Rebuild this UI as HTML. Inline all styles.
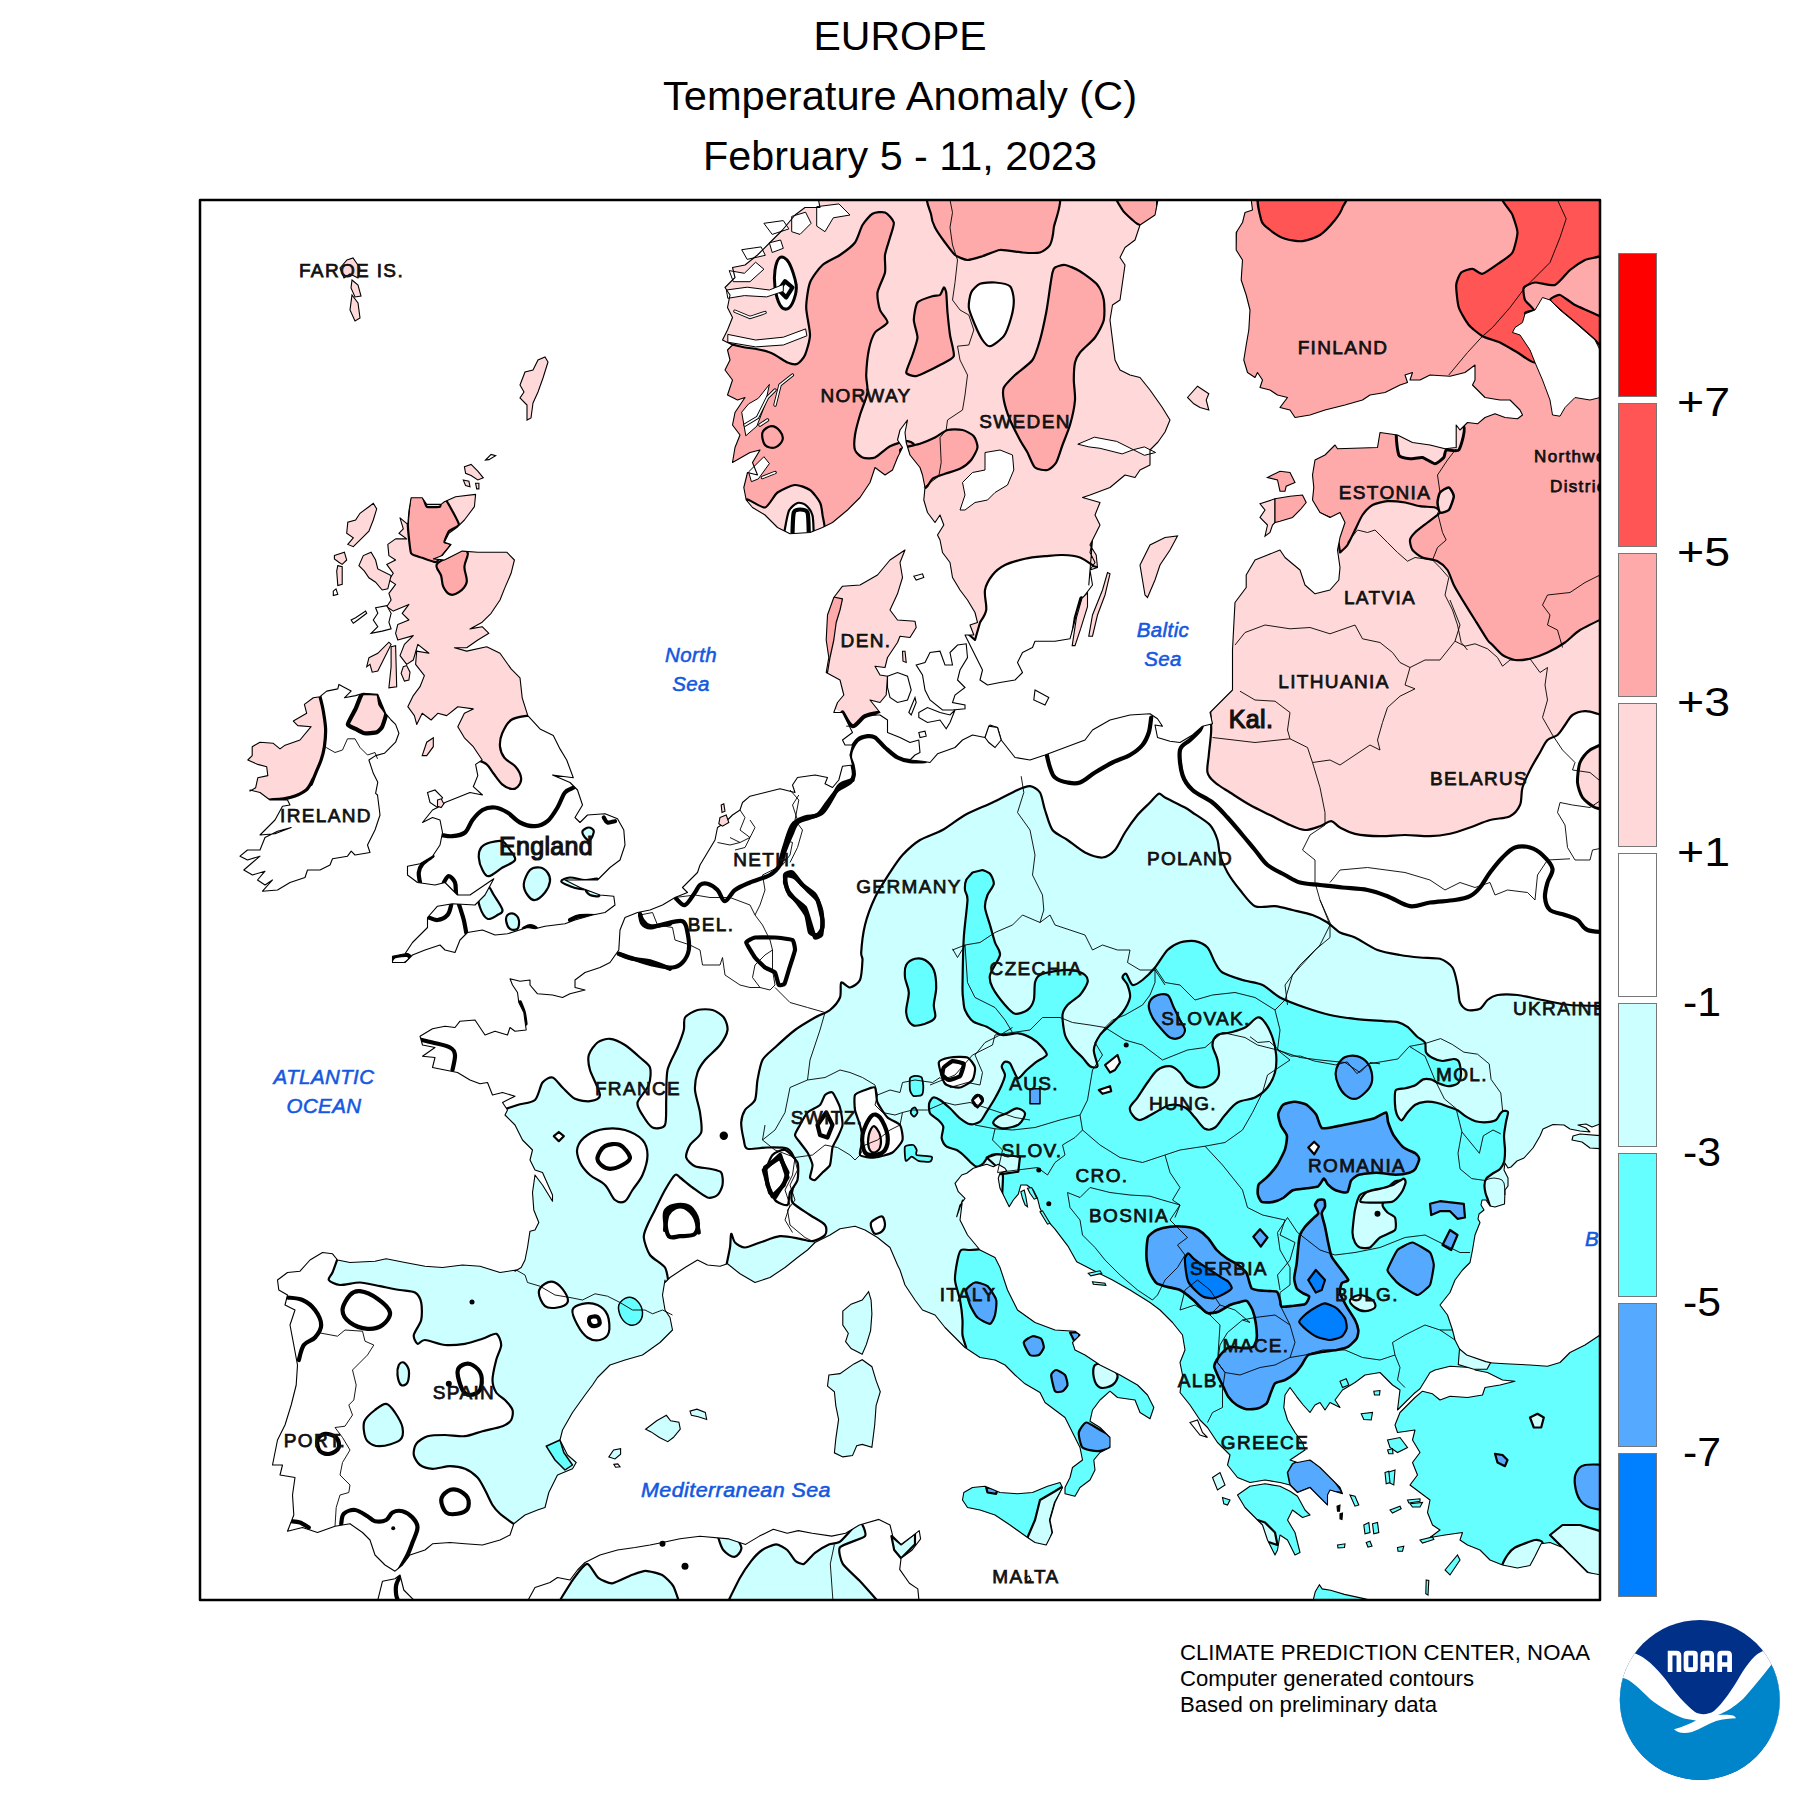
<!DOCTYPE html>
<html><head><meta charset="utf-8">
<style>
html,body{margin:0;padding:0;background:#fff;}
body{width:1800px;height:1800px;overflow:hidden;font-family:"Liberation Sans",sans-serif;}
svg{display:block;position:absolute;left:0;top:0;}
.t{font-family:"Liberation Sans",sans-serif;fill:#000;}
.lb{font-family:"Liberation Sans",sans-serif;font-weight:normal;fill:#111;stroke:#111;stroke-width:0.75px;font-size:19px;text-anchor:middle;letter-spacing:1.35px;}
.sea{font-family:"Liberation Sans",sans-serif;font-weight:normal;font-style:italic;fill:#1458e0;stroke:#1458e0;stroke-width:0.55px;font-size:20.5px;text-anchor:middle;letter-spacing:0.4px;}
</style></head><body>
<svg width="1800" height="1800" viewBox="0 0 1800 1800">
<rect x="0" y="0" width="1800" height="1800" fill="#fff"/>
<!-- TITLE -->
<g class="t" text-anchor="middle" font-size="41">
<text x="900" y="50">EUROPE</text>
<text x="900" y="110" textLength="474" lengthAdjust="spacingAndGlyphs">Temperature Anomaly (C)</text>
<text x="900" y="170" textLength="394" lengthAdjust="spacingAndGlyphs">February 5 - 11, 2023</text>
</g>
<!-- MAP-START -->
<defs><clipPath id="land">
<path d="M411.1,497.8 L422.2,497.8 L426.7,504.4 L441.1,504.4 L444.4,501.8 L455.6,496.7 L475.6,494.4 L474.4,506.7 L464.4,520 L457.8,526.7 L448.9,533.3 L444.4,542.2 L451.1,544.4 L442.2,555.6 L433.3,558.9 L444.4,560 L462.2,551.1 L477.8,552.2 L506.7,552.2 L514.4,560 L511.1,573.3 L504.4,588.9 L500,600 L491.1,613.3 L482.2,622.2 L470,628.9 L482.2,626.7 L488.9,633.3 L477.8,640 L466.7,647.8 L454.4,647.8 L466.7,651.1 L486.7,646.7 L500,653.3 L511.1,668.9 L520,677.8 L522.2,697.8 L527.8,715.6 L540,728.9 L553.3,735.6 L560,748.9 L566.7,760 L573.3,777.8 L552.5,775 L570,782.5 L577.5,790 L582.5,805 L575,817.5 L580,822.5 L587.5,815 L605,813.8 L617.5,818.8 L623.8,830 L625,845 L620,860 L610,867.5 L597.5,880 L565,880 L580,887.5 L600,895 L613.8,896.2 L615,905 L605,912.5 L592.5,915 L575,920 L565,923.8 L545,926.2 L535,928.8 L527.5,927.5 L507.5,933.8 L495,935 L482.5,930 L467.5,932.5 L460,940 L455,952.5 L445,950 L440,945 L425,950 L412.5,955 L405,962.5 L392.5,962.5 L392.5,956.2 L405,953.8 L412.5,942.5 L420,935 L427.5,927.5 L427.5,917.5 L437.5,906.2 L452.5,903.8 L475,905 L485,895 L493.8,878.8 L470,895 L457.5,895 L445,882.5 L435,885 L417.5,882.5 L407.5,875 L407.5,866.2 L420,863.8 L432.5,856.2 L440,845 L442.5,832.5 L440,820 L432.5,817.5 L422.5,822.5 L432.5,810 L440,806.2 L445,802.5 L457.5,797.5 L470,792.5 L482.5,795 L473.3,786.7 L477.8,775.6 L475.6,764.4 L482.2,760 L473.3,746.7 L464.4,737.8 L457.8,726.7 L464.4,713.3 L473.3,708.9 L457.8,706.7 L446.7,715.6 L437.8,713.3 L431.1,720 L422.2,713.3 L416.7,724.4 L414.4,715.6 L407.8,706.7 L413.3,695.6 L420,686.7 L424.4,675.6 L415.6,664.4 L416.7,651.1 L428.9,653.3 L417.8,644.4 L413.3,660 L406.7,664.4 L400,655.6 L404.4,644.4 L413.3,635.6 L397.8,640 L395.6,633.3 L397.8,624.4 L408.9,620 L402.2,613.3 L408.9,604.4 L393.3,611.1 L386.7,606.7 L391.1,600 L388.9,593.3 L395.6,584.4 L388.9,580 L393.3,573.3 L386.7,564.4 L395.6,560 L388.9,555.6 L387.8,544.4 L395.6,538.9 L406.7,538.9 L398.9,533.3 L403.3,528.9 L400,517.8 L407.8,524.4 L408.9,511.1Z"/>
<path d="M304.4,704.4 L313.3,697.8 L320,696.7 L326.7,691.1 L337.8,688.9 L338.9,684.4 L351.1,691.1 L344.4,697.8 L355.6,695.6 L363.3,693.3 L377.8,694.4 L385.6,713.3 L391.1,720 L395.6,724.4 L398.9,733.3 L395.6,742.2 L391.1,746.7 L384.4,753.3 L375.6,755.6 L368.9,760 L373.3,773.3 L377.8,782.2 L375.6,793.3 L377.5,795 L380,815 L375,830 L367.5,845 L370,852.5 L355,855 L351.2,851.2 L347.5,856.2 L332.5,858.8 L330,865 L320,870 L307.5,870 L305,877.5 L290,882.5 L277.5,890 L262.5,891.2 L272.5,880 L265,885 L257.5,880 L265,871.2 L252.5,875 L243.8,870 L252.5,862.5 L260,856.2 L247.5,860 L240,856.2 L247.5,850 L260,850 L265,837.5 L277.5,831.2 L291.2,827.5 L275,833.8 L260,835 L267.5,827.5 L275,820 L282.5,806.2 L290,805 L287.5,800 L270,800 L260,792.5 L250,790 L250,791.1 L255.6,787.8 L257.8,777.8 L267.8,775.6 L266.7,766.7 L257.8,764.4 L247.8,760 L252.2,755.6 L252.2,746.7 L260,742.2 L273.3,743.3 L280,748.9 L284.4,745.6 L300,740 L311.1,726.7 L297.8,725.6 L293.3,721.1 L306.7,713.3Z"/>
<path d="M817.5,195 L820,207.5 L805,207.5 L795,215 L782.5,230 L770,242.5 L757.5,255 L745,265 L732.5,267.5 L735,277.5 L725,287.5 L730,295 L727.5,307.5 L732.5,317.5 L727.5,330 L722.5,340 L732.5,345 L727.5,350 L730,360 L725,370 L732.5,380 L727.5,395 L737.5,400 L745,397.5 L735,412.5 L732.5,425 L740,435 L735,447.5 L732.5,462.5 L750,452.5 L760,450 L752.5,462.5 L757.5,475 L747.5,472.5 L743.8,487.5 L746.2,500 L752.5,507.5 L765,515 L777.5,527.5 L790,533.8 L810,532.5 L822.5,527.5 L832.5,522.5 L847.5,510 L860,497.5 L870,482.5 L875,467.5 L885,475 L892.5,470 L897.5,457.5 L902.5,447.5 L897.5,440 L900,430 L907.5,420 L905,432.5 L906.2,442.5 L910,455 L920,467.5 L922.5,475 L925,487.5 L923.8,500 L927.5,512.5 L935,522.5 L940,515 L943.8,525 L937.5,535 L940,540 L942.5,552.5 L950,562.5 L952.5,577.5 L960,590 L967.5,600 L975,612.5 L977.5,622.5 L970,625 L973.8,635 L965,635 L970,645 L977.5,660 L982.5,670 L980,680 L987.5,685 L1000,682.5 L1015,680 L1022.5,672.5 L1017.5,662.5 L1022.5,652.5 L1032.5,647.5 L1035,641.2 L1055,641.2 L1070,638.8 L1073.8,625 L1077.5,610 L1085,595 L1092.5,585 L1090,570 L1095,562.5 L1090,552.5 L1092.5,540 L1088.8,585 L1090,570 L1097.5,567.5 L1096.2,555 L1090,545 L1095,535 L1100,525 L1095,515 L1100,502.5 L1082.5,497.5 L1090,495 L1110,487.5 L1125,475 L1135,477.5 L1140,470 L1150,465 L1150,450 L1158,442 L1165,432 L1170,420 L1162,407 L1150,390 L1140,377.5 L1130,375 L1120,370 L1115,360 L1112.5,340 L1110,320 L1112.5,305 L1120,300 L1122.5,282.5 L1125,265 L1120,257.5 L1125,247.5 L1135,240 L1140,225 L1155,215 L1160,190Z"/>
<path d="M1250,190 L1252.5,210 L1245,212.5 L1242.5,222.5 L1236.2,232.5 L1236.2,250 L1242.5,260 L1241.2,280 L1246.2,295 L1250,310 L1248.8,330 L1246.2,345 L1243.8,360 L1247.5,372.5 L1255,377.5 L1257.5,372.5 L1262.5,380 L1260,387.5 L1270,390 L1277.5,395 L1287.5,397.5 L1280,407.5 L1290,410 L1295,417.5 L1310,415 L1325,410 L1345,405 L1362.5,400 L1370,395 L1385,392.5 L1400,385 L1407.5,382.5 L1405,375 L1412.5,372.5 L1410,380 L1420,380 L1430,375 L1450,376.2 L1465,372.5 L1475,365 L1475,380 L1472.5,385 L1485,397.5 L1500,400 L1510,400 L1520,410 L1522.5,415 L1517.5,418.8 L1505,417.5 L1495,413.8 L1485,417.5 L1477.5,423.8 L1467.5,422.5 L1460,430 L1456.2,425 L1456.2,447.5 L1445,448.8 L1430,445 L1412.5,442.5 L1397.5,435 L1380,432.5 L1377.5,447.5 L1337.5,448.8 L1335,445 L1325,455 L1315,460 L1312.5,475 L1313.8,487.5 L1312.5,500 L1320,512.5 L1330,517.5 L1340,512.5 L1345,522.5 L1340,537.5 L1337.5,550 L1340,567.5 L1338.8,580 L1330,590 L1315,593.8 L1305,585 L1300,570 L1285,557.5 L1280,550 L1267.5,555 L1255,560 L1246.2,575 L1246.2,587.5 L1235,602.5 L1233.8,625 L1232.5,650 L1232.5,690 L1220,702.5 L1210,712.5 L1212.5,723.8 L1202.5,726.2 L1192.5,735 L1180,742.5 L1170,741.2 L1157.5,737.5 L1155,725 L1162.5,726.2 L1157.5,718.8 L1150,713.8 L1130,715 L1110,720 L1092.5,730 L1085,740 L1065,747.5 L1045,755 L1030,760 L1015,757.5 L1001.2,740 L997.5,727.5 L990,725 L985,737.5 L972.5,735 L962.5,740 L955,747.5 L937.5,753.8 L930,762.5 L922.5,761.2 L910,760 L915,755 L920,752.5 L918.8,740 L910,742.5 L900,737.5 L887.5,732.5 L887.5,720 L880,715 L867.5,715 L872.5,715 L880,712.5 L870,700 L880,702.5 L886.2,695 L887.5,676.2 L880,675 L875,666.2 L885,667.5 L887.5,657.5 L897.5,642.5 L900,636.2 L910,637.5 L916.2,627.5 L915,621.2 L897.5,620 L890,610 L897.5,593.8 L902.5,577.5 L900,562.5 L905,550 L890,560 L877.5,575 L860,585 L842.5,586.2 L833.8,597.5 L827.5,615 L826.2,640 L828.8,657.5 L826.2,672.5 L840,680 L843.8,695 L837.5,702.5 L833.8,712.5 L842.5,712.5 L847.5,722.5 L852.5,732.5 L842.5,740 L845,745 L852.5,745 L850,755 L852.5,765 L842.5,766.2 L838.8,780 L832.5,787.5 L825,783.8 L827.5,777.5 L815,775 L797.5,777.5 L792.5,785 L795,792.5 L780,788.8 L765,792.5 L750,796.2 L742.5,802.5 L740,810 L732.5,815 L725,822.5 L717.5,827.5 L715,840 L707.5,852.5 L700,865 L697.5,872.5 L690,880 L682.5,887.5 L687.5,892.5 L675,897.5 L662.5,905 L650,910 L637.5,912.5 L625,917.5 L620,930 L618.8,950 L610,962.5 L600,967.5 L585,972.5 L575,980 L575,987.5 L585,990 L570,993.8 L562.5,997.5 L552.5,995 L537.5,993.8 L530,985 L530,980 L520,981.2 L510,978.8 L512.5,985 L517.5,992.5 L518.8,1002.5 L523.8,1012.5 L526.2,1030 L515,1031.2 L510,1027.5 L507.5,1035 L495,1031.2 L485,1035 L475,1020 L460,1021.2 L455,1027.5 L445,1026.2 L432.5,1028.8 L420,1036.2 L422.5,1045 L435,1047.5 L422.5,1056.2 L435,1057.5 L432.5,1067.5 L445,1070 L457.5,1072.5 L470,1080 L480,1083.8 L487.5,1082.5 L492.5,1095 L502.5,1092.5 L515,1096.2 L502.5,1102.5 L507.5,1110 L505,1115 L515,1125 L522.5,1140 L532.5,1150 L530,1160 L535,1170 L542.5,1172.5 L552.5,1195 L552.5,1201.2 L542.5,1185 L535,1175 L532.5,1192.5 L533.8,1210 L538.8,1222.5 L535,1230 L530,1231.2 L527.5,1247.5 L525,1260 L521.2,1267.5 L515,1271.2 L516.2,1270 L500,1272.5 L480,1266.2 L462.5,1265 L442.5,1267.5 L425,1266.2 L405,1262.5 L386.2,1258.8 L375,1261.2 L350,1262.5 L337.5,1260 L332.5,1253.8 L322.5,1252.5 L310,1260 L300,1271.2 L287.5,1272.5 L277.5,1280 L278.8,1290 L287.5,1295 L285,1305 L295,1310 L290,1325 L293.8,1345 L297.5,1365 L296.2,1385 L291.2,1405 L285,1425 L277.5,1440 L272.5,1465 L282.5,1465 L280,1475 L295,1477.5 L292.5,1495 L293.8,1515 L287.5,1531.2 L302.5,1527.5 L317.5,1532.5 L335,1526.2 L350,1523.8 L362.5,1532.5 L370,1540 L375,1555 L385,1565 L395,1571.2 L402.5,1565 L410,1555 L425,1550 L432.5,1543.8 L450,1542.5 L465,1543.8 L482.5,1545 L500,1540 L510,1535 L513.8,1523.8 L525,1515 L537.5,1510 L545,1507.5 L548.8,1492.5 L557.5,1475 L572.5,1468.8 L576.2,1462.5 L567.5,1455 L560,1440 L562.5,1430 L572.5,1412.5 L585,1395 L592.5,1385 L597.5,1377.5 L610,1365 L625,1360 L642.5,1355 L660,1342.5 L672.5,1330 L670,1317.5 L665,1310 L662.5,1295 L665,1280 L665,1282.5 L670,1277.5 L685,1267.5 L697.5,1260 L707.5,1265 L720,1266.2 L727.5,1263.8 L740,1273.8 L755,1282.5 L770,1277.5 L785,1267.5 L797.5,1257.5 L807.5,1250 L815,1242.5 L830,1235 L840,1228.8 L855,1226.2 L865,1230 L877.5,1237.5 L890,1247.5 L897.5,1265 L900,1270 L905,1285 L915,1300 L922.5,1310 L935,1315 L945,1327.5 L955,1337.5 L965,1347.5 L980,1357.5 L995,1360 L1005,1365 L1015,1375 L1025,1383.8 L1040,1392.5 L1045,1402.5 L1055,1410 L1065,1417.5 L1072.5,1432.5 L1080,1447.5 L1082.5,1460 L1072.5,1467.5 L1070,1477.5 L1065,1487.5 L1065,1493.8 L1075,1496.2 L1080,1487.5 L1090,1480 L1095,1470 L1093.8,1460 L1100,1452.5 L1110,1447.5 L1110,1437.5 L1100,1427.5 L1090,1421.2 L1092.5,1410 L1100,1400 L1110,1391.2 L1117.5,1397.5 L1135,1400 L1140,1412.5 L1150,1418.8 L1153.8,1407.5 L1147.5,1395 L1137.5,1385 L1120,1375 L1100,1365 L1085,1355 L1075,1350 L1072.5,1342.5 L1080,1335 L1075,1331.2 L1055,1330 L1035,1322.5 L1017.5,1310 L1007.5,1290 L1000,1267.5 L995,1257.5 L980,1250 L967.5,1235 L960,1220 L962.5,1200 L956.7,1216.7 L960,1205 L965,1198.3 L958.3,1191.7 L955,1183.3 L961.7,1175 L966.7,1173.3 L973.3,1168.3 L986.7,1164.2 L993.3,1166.7 L998.3,1164.2 L1005,1168.3 L1006.7,1170.8 L1000,1173.3 L998.3,1178.3 L1000,1188.3 L1005,1198.3 L1009.2,1206.7 L1013.3,1200 L1018.3,1194.2 L1020.8,1185 L1026.7,1185 L1033.3,1190 L1037.5,1198.3 L1040,1208.3 L1043.3,1215 L1048.3,1221.7 L1055,1229.2 L1068.3,1246.7 L1076.7,1261.7 L1097.5,1272.5 L1112.5,1280 L1130,1290 L1150,1302.5 L1160,1310 L1172.5,1322.5 L1182.5,1335 L1185,1350 L1180,1362.5 L1182.5,1375 L1180,1392.5 L1190,1405 L1200,1420 L1207.5,1427.5 L1217.5,1442.5 L1227.5,1452.5 L1230,1455 L1227.5,1465 L1237.5,1477.5 L1250,1482.5 L1265,1480 L1280,1482.5 L1290,1485 L1297.5,1492.5 L1310,1487.5 L1320,1497.5 L1327.5,1505 L1327.5,1495 L1330,1490 L1342.5,1493.8 L1340,1487.5 L1330,1477.5 L1320,1467.5 L1310,1460 L1297.5,1462.5 L1290,1460 L1297.5,1455 L1305,1450 L1302.5,1442.5 L1295,1432.5 L1287.5,1420 L1283.8,1407.5 L1285,1395 L1290,1387.5 L1296.8,1396.8 L1303.2,1405 L1310,1412.5 L1315,1405 L1320,1402.5 L1325,1410 L1330,1402.5 L1340,1407.5 L1335,1400 L1342.5,1390 L1355,1382.5 L1365,1375 L1380,1372.5 L1392.5,1385 L1400,1390 L1397.5,1410 L1405,1402.5 L1413.8,1393.8 L1420,1388.8 L1430,1372.5 L1435,1370 L1450,1366.2 L1470,1367.5 L1473.8,1362.5 L1462.5,1357.5 L1460,1350 L1455,1340 L1452.5,1330 L1447.5,1315 L1440,1305 L1450,1292.5 L1455,1280 L1462.5,1270 L1470,1262.5 L1472.5,1250 L1475,1235 L1480,1222.5 L1478,1219 L1479,1214 L1484,1210 L1481,1205 L1482,1200 L1486,1200 L1490,1206 L1495,1207 L1504.5,1204 L1505,1190 L1508,1186 L1508,1178 L1504,1170 L1505,1163 L1508,1168 L1511,1167 L1517,1161 L1524,1158 L1533,1148 L1540,1136 L1543,1129 L1553,1124.5 L1564,1125 L1570,1129 L1580,1131 L1590,1132 L1586,1128 L1578,1125 L1586,1124 L1592,1127 L1600,1124 L1605,1136 L1580,1134 L1573,1136 L1572,1140 L1582,1142 L1590,1148 L1605,1149 L1620,1150 L1620,180Z"/>
<path d="M1475,1370 L1487.5,1372.5 L1502.5,1380 L1515,1381.2 L1500,1385 L1485,1387.5 L1482.5,1395 L1467.5,1397.5 L1450,1396.2 L1440,1400 L1432.5,1393.8 L1422.5,1391.2 L1415,1397.5 L1407.5,1405 L1400,1412.5 L1395,1425 L1397.5,1432.5 L1415,1430 L1412.5,1440 L1420,1452.5 L1412.5,1462.5 L1417.5,1475 L1410,1485 L1420,1492.5 L1430,1500 L1427.5,1512.5 L1432.5,1525 L1440,1530 L1430,1537.5 L1445,1535 L1462.5,1532.5 L1460,1540 L1467.5,1545 L1480,1550 L1490,1560 L1502.5,1565 L1517.5,1568 L1530,1565.5 L1535,1556.2 L1541.2,1543.8 L1550,1542.5 L1562.5,1547.5 L1575,1560 L1587.5,1572.5 L1615,1577.5 L1615,1335 L1600,1335 L1585,1345 L1570,1352.5 L1560,1362.5 L1547.5,1366.2 L1530,1365 L1505,1363.8 L1485,1362.5 L1476.2,1361.2Z"/>
<path d="M1237.5,1495 L1250,1486.2 L1265,1483.8 L1280,1486.2 L1290,1491.2 L1297.5,1496.2 L1305,1510 L1310,1515 L1302.5,1517.5 L1292.5,1510 L1287.5,1520 L1295,1532.5 L1300,1552.5 L1295,1555 L1287.5,1540 L1280,1535 L1277.5,1550 L1275,1555 L1267.5,1540 L1262.5,1525 L1255,1517.5 L1245,1507.5Z"/>
<path d="M370,1620 L377.5,1601.2 L382.5,1581.2 L395,1578.8 L400,1575 L403.8,1590 L415,1601.2 L527.5,1601.2 L535,1587.5 L550,1582.5 L557.5,1577.5 L570,1580 L577.5,1570 L585,1562.5 L600,1555 L617.5,1550 L635,1547.5 L650,1545 L662.5,1542.5 L680,1538.8 L700,1536.2 L728.9,1538.9 L745.6,1544.4 L759.4,1536.1 L773.3,1529.2 L787.2,1533.3 L798.3,1530.6 L812.2,1533.3 L831.7,1536.1 L845.6,1533.3 L859.4,1525 L878.9,1519.4 L890,1525 L892.8,1536.1 L901.1,1544.4 L912.2,1536.1 L919.2,1530.6 L920.6,1538.9 L912.2,1550 L901.1,1558.3 L899.7,1569.4 L909.4,1583.3 L917.8,1588.9 L919.2,1602.8 L919,1620Z"/>
<path d="M963.8,1492.5 L972.5,1487.5 L985,1486.2 L1000,1492.5 L1017.5,1493.8 L1032.5,1492.5 L1047.5,1486.2 L1060,1482.5 L1062.5,1487.5 L1055,1502.5 L1050,1520 L1052.5,1532.5 L1046.2,1545 L1035,1542.5 L1027.5,1537.5 L1010,1525 L995,1515 L980,1510 L967.5,1507.5 L962.5,1500Z"/>
</clipPath><clipPath id="frame"><rect x="200" y="200" width="1400" height="1400"/></clipPath></defs>
<g clip-path="url(#frame)">
<g clip-path="url(#land)">
<path d="M330,480 L580,480 L580,716 L527.8,715.6 C525.0,716.3 515.4,717.0 511.1,720 C506.8,723.0 504.1,728.8 502.2,733.3 C500.3,737.8 499.6,742.6 500,746.7 C500.4,750.8 501.8,754.5 504.4,757.8 C507.0,761.1 512.8,763.4 515.6,766.7 C518.4,770.0 520.7,774.5 521.1,777.8 C521.5,781.1 519.5,784.9 517.8,786.7 C516.1,788.6 513.7,789.3 511.1,788.9 C508.5,788.5 505.2,787.0 502.2,784.4 C499.2,781.8 495.9,776.6 493.3,773.3 C490.7,770.0 489.3,766.6 486.7,764.4 C484.1,762.2 479.3,760.7 477.8,760 L440,765 L405,745 L405,680 L330,680Z" fill="#ffd9d9" stroke="#000" stroke-width="2.2" stroke-linejoin="round"/>
<path d="M411.1,493.3 C412.1,491.4 421.2,494.7 422.2,495.6 C423.2,496.5 425.5,506.0 426.7,506.7 C427.9,507.4 439.0,507.1 440,506.7 C441.0,506.3 440.7,501.5 441.1,501.1 C441.5,500.7 445.5,499.5 446.7,501.1 C447.9,502.7 458.8,522.4 458.9,524.4 C459.0,526.4 449.9,529.9 448.9,531.1 C447.9,532.3 444.3,541.3 444.4,542.2 C444.5,543.1 451.2,543.5 451.1,544.4 C451.0,545.3 443.2,554.4 442.2,555.6 C441.2,556.8 436.9,562.1 435.6,562.2 C434.3,562.3 423.8,558.4 422.2,557.8 C420.6,557.2 412.1,555.5 411.1,553.3 C410.1,551.1 407.8,528.4 407.8,524.4 C407.8,520.4 410.1,495.2 411.1,493.3Z" fill="#ffaaaa" stroke="#000" stroke-width="2.2" stroke-linejoin="round"/>
<path d="M436.7,564.4 C438.4,561.1 447.0,558.2 451.1,555.6 C455.2,553.0 458.3,549.3 461.1,548.9 C463.9,548.5 467.2,550.3 467.8,553.3 C468.4,556.3 464.6,561.9 464.4,566.7 C464.2,571.5 467.6,578.0 466.7,582.2 C465.8,586.5 461.7,590.2 458.9,592.2 C456.1,594.2 452.6,595.3 450,594.4 C447.4,593.5 444.8,589.8 443.3,586.7 C441.8,583.6 442.2,579.3 441.1,575.6 C440.0,571.9 435.0,567.7 436.7,564.4Z" fill="#ffaaaa" stroke="#000" stroke-width="2.2" stroke-linejoin="round"/>
<path d="M481.2,847.5 C483.1,845.0 486.4,843.5 490,842.5 C493.6,841.5 499.2,840.0 502.5,841.2 C505.8,842.5 507.9,846.9 510,850 C512.1,853.1 516.2,857.1 515,860 C513.8,862.9 506.9,864.8 502.5,867.5 C498.1,870.2 492.1,875.8 488.8,876.2 C485.5,876.6 484.2,873.1 482.5,870 C480.8,866.9 479.0,861.2 478.8,857.5 C478.6,853.8 479.3,850.0 481.2,847.5Z" fill="#ccffff" stroke="#000" stroke-width="2.2" stroke-linejoin="round"/>
<path d="M478.8,895 C480.1,891.5 485.0,886.2 487.5,886.2 C490.0,886.2 491.3,891.0 493.8,895 C496.3,899.0 501.9,906.7 502.5,910 C503.1,913.3 500.0,913.5 497.5,915 C495.0,916.5 490.4,920.0 487.5,918.8 C484.6,917.5 481.4,911.5 480,907.5 C478.6,903.5 477.6,898.5 478.8,895Z" fill="#ccffff" stroke="#000" stroke-width="2.2" stroke-linejoin="round"/>
<path d="M530,870 C532.7,867.3 537.1,867.1 540,867.5 C542.9,867.9 545.8,870.2 547.5,872.5 C549.2,874.8 550.4,877.9 550,881.2 C549.6,884.5 547.5,889.4 545,892.5 C542.5,895.6 537.9,899.6 535,900 C532.1,900.4 529.4,897.7 527.5,895 C525.6,892.3 523.4,888.0 523.8,883.8 C524.2,879.6 527.3,872.7 530,870Z" fill="#ccffff" stroke="#000" stroke-width="2.2" stroke-linejoin="round"/>
<path d="M507.5,915 C508.8,913.8 511.9,913.0 513.8,913.8 C515.7,914.6 518.2,917.5 518.8,920 C519.4,922.5 519.0,927.3 517.5,928.8 C516.0,930.3 511.9,930.1 510,928.8 C508.1,927.5 506.6,923.5 506.2,921.2 C505.8,918.9 506.2,916.2 507.5,915Z" fill="#ccffff" stroke="#000" stroke-width="2.2" stroke-linejoin="round"/>
<path d="M561.2,881.2 C561.2,879.8 566.0,877.7 570,877.5 C574.0,877.3 580.4,879.8 585,880 C589.6,880.2 595.0,878.2 597.5,878.8 C600.0,879.4 600.4,882.1 600,883.8 C599.6,885.5 598.3,888.0 595,888.8 C591.7,889.6 584.2,889.2 580,888.8 C575.8,888.4 573.1,887.5 570,886.2 C566.9,884.9 561.2,882.7 561.2,881.2Z" fill="#ccffff" stroke="#000" stroke-width="2.2" stroke-linejoin="round"/>
<path d="M586.2,890 C587.5,889.6 595.4,891.5 597.5,892.5 C599.6,893.5 600.0,895.8 598.8,896.2 C597.5,896.6 592.1,896.0 590,895 C587.9,894.0 585.0,890.4 586.2,890Z" fill="#ccffff" stroke="#000" stroke-width="2.2" stroke-linejoin="round"/>
<path d="M582.5,831.2 C583.1,829.5 586.9,827.5 588.8,827.5 C590.7,827.5 593.6,829.1 593.8,831.2 C594.0,833.3 591.5,839.0 590,840 C588.5,841.0 586.2,839.0 585,837.5 C583.8,836.0 581.9,832.9 582.5,831.2Z" fill="#ccffff" stroke="#000" stroke-width="2.2" stroke-linejoin="round"/>
<path d="M230,680 L320,685 L320,696.7 C320.6,699.1 322.4,705.7 323.3,711.1 C324.2,716.5 325.4,723.0 325.6,728.9 C325.8,734.8 325.1,741.5 324.4,746.7 C323.6,751.9 322.6,755.6 321.1,760 C319.6,764.4 317.3,769.2 315.6,773.3 C313.9,777.4 311.4,783.7 311.1,784.4 C310.8,785.1 314.6,776.6 313.8,777.5 C313.0,778.4 310.2,786.7 306.2,790 C302.2,793.3 296.0,795.8 290,797.5 C284.0,799.2 273.3,799.6 270,800 L230,805Z" fill="#ffd9d9" stroke="#000" stroke-width="3.2" stroke-linejoin="round"/>
<path d="M363.3,693.3 C364.8,693.0 376.4,692.9 377.8,693.8 C379.2,694.7 379.7,702.8 380.4,704.4 C381.1,706.0 386.1,711.4 386.2,713.3 C386.3,715.2 383.0,725.1 382.2,726.7 C381.4,728.3 378.2,731.7 376.7,732.2 C375.2,732.8 366.2,733.6 364.4,733.3 C362.6,733.0 357.0,729.6 355.6,728.9 C354.2,728.2 347.8,726.1 347.8,724.4 C347.8,722.7 354.6,711.1 355.6,708.9 C356.6,706.7 359.4,699.1 360,697.8 C360.6,696.5 361.8,693.6 363.3,693.3Z" fill="#ffd9d9" stroke="#000" stroke-width="4.2" stroke-linejoin="round"/>
<path d="M690,190 L1180,190 L1180,560 L1100,568 L1093.8,566.2 C1091.5,564.8 1085.2,559.4 1080,557.5 C1074.8,555.6 1068.3,555.2 1062.5,555 C1056.7,554.8 1051.2,555.6 1045,556.2 C1038.8,556.8 1031.7,557.3 1025,558.8 C1018.3,560.3 1010.4,562.3 1005,565 C999.6,567.7 995.8,570.8 992.5,575 C989.2,579.2 986.0,584.2 985,590 C984.0,595.8 987.0,604.6 986.2,610 C985.4,615.4 981.0,620.4 980,622.5 L975,640 L930,600 L930,538 L690,538Z" fill="#ffd9d9" stroke="#000" stroke-width="2.2" stroke-linejoin="round"/>
<path d="M715,347.5 C718.5,338.5 738.6,346.9 745,347.5 C751.4,348.1 765.0,350.8 770,352.5 C775.0,354.2 784.3,361.2 787.5,362.5 C790.7,363.8 795.5,364.7 797.5,363.8 C799.5,362.9 803.5,358.4 805,355 C806.5,351.6 809.9,340.5 810,335 C810.1,329.5 806.2,313.6 806.2,307.5 C806.2,301.4 808.1,287.5 810,282.5 C811.9,277.5 819.0,268.2 822.5,265 C826.0,261.8 836.2,257.6 840,255 C843.8,252.4 852.4,246.0 855,242.5 C857.6,239.0 860.5,228.3 862.5,225 C864.5,221.7 869.9,215.3 872.5,213.8 C875.1,212.3 882.5,211.5 885,212.5 C887.5,213.5 893.2,219.6 893.8,222.5 C894.4,225.4 891.0,233.7 890,237.5 C889.0,241.3 885.6,250.9 885,255 C884.4,259.1 885.9,268.1 885,272.5 C884.1,276.9 878.1,288.1 877.5,292.5 C876.9,296.9 878.8,306.5 880,310 C881.2,313.5 888.1,319.9 887.5,322.5 C886.9,325.1 877.2,329.3 875,332.5 C872.8,335.7 869.8,345.0 868.8,350 C867.8,355.0 866.4,370.0 866.2,375 C866.0,380.0 868.2,387.8 867.5,392.5 C866.8,397.2 861.5,410.0 860,415 C858.5,420.0 855.6,430.9 855,435 C854.4,439.1 854.1,447.4 855,450 C855.9,452.6 860.2,456.6 862.5,457.5 C864.8,458.4 871.8,458.8 875,457.5 C878.2,456.2 886.2,448.1 890,446.2 C893.8,444.3 904.6,440.8 907.5,441.2 C910.4,441.6 915.9,443.1 915,450 C914.1,456.9 907.6,488.3 900,500 C892.4,511.7 864.6,544.2 850,550 C835.4,555.8 789.6,555.8 775,550 C760.4,544.2 732.0,514.6 725,500 C718.0,485.4 716.2,442.8 715,425 C713.8,407.2 711.5,356.5 715,347.5Z" fill="#ffaaaa" stroke="#000" stroke-width="2.2" stroke-linejoin="round"/>
<path d="M746.2,500 C746.5,496.8 761.3,508.4 765,507.5 C768.7,506.6 774.0,495.1 777.5,492.5 C781.0,489.9 791.2,485.3 795,485 C798.8,484.7 807.1,488.0 810,490 C812.9,492.0 818.5,499.6 820,502.5 C821.5,505.4 822.1,511.5 822.5,515 C822.9,518.5 826.4,529.0 823.8,532.5 C821.2,536.0 807.2,544.7 800,545 C792.8,545.3 768.8,540.2 762.5,535 C756.2,529.8 745.9,503.2 746.2,500Z" fill="#ffd9d9" stroke="#000" stroke-width="2.2" stroke-linejoin="round"/>
<path d="M783.8,535 C784.5,531.8 787.0,515.5 788.8,511.2 C790.6,506.9 795.2,503.8 797.5,503 C799.8,502.2 804.2,503.8 806.2,505.5 C808.2,507.2 811.5,511.6 812.5,515.5 C813.5,519.4 813.6,532.4 813.8,535Z" fill="#ffffff" stroke="#000" stroke-width="2.2" stroke-linejoin="round"/>
<path d="M780,257.5 C782.3,256.2 786.1,257.9 788.8,262.5 C791.5,267.1 795.4,278.8 796.2,285 C797.0,291.2 795.2,296.0 793.8,300 C792.3,304.0 789.8,308.0 787.5,308.8 C785.2,309.6 782.1,308.6 780,305 C777.9,301.4 775.8,293.3 775,287.5 C774.2,281.7 774.2,275.0 775,270 C775.8,265.0 777.7,258.8 780,257.5Z" fill="#ffffff" stroke="#000" stroke-width="3" stroke-linejoin="round"/>
<path d="M917.5,302.5 C919.4,300.1 930.2,296.9 932.5,296.2 C934.8,295.4 938.9,295.9 940,295 C941.1,294.1 943.2,287.8 943.8,287.5 C944.4,287.2 945.8,290.0 946.2,292.5 C946.6,295.0 947.1,308.2 947.5,312.5 C947.9,316.8 949.4,330.6 950,335 C950.6,339.4 954.8,353.2 953.8,356.2 C952.8,359.2 942.9,363.4 940,365 C937.1,366.6 927.5,371.4 925,372.5 C922.5,373.6 916.9,376.2 915,376.2 C913.1,376.2 906.5,374.6 906.2,372.5 C906.0,370.4 911.4,358.5 912.5,355 C913.6,351.5 917.4,341.0 917.5,337.5 C917.6,334.0 913.8,323.5 913.8,320 C913.8,316.5 915.6,304.9 917.5,302.5Z" fill="#ffaaaa" stroke="#000" stroke-width="2.2" stroke-linejoin="round"/>
<path d="M932.5,190 C920.1,192.5 931.0,211.2 931.2,215 C931.5,218.8 933.6,224.8 935,227.5 C936.4,230.2 943.0,239.8 945,242.5 C947.0,245.2 952.8,253.2 955,255 C957.2,256.8 964.8,259.9 967.5,260 C970.2,260.1 979.2,257.2 982.5,256.2 C985.8,255.2 996.0,250.4 1000,250 C1004.0,249.6 1018.5,252.2 1022.5,252.5 C1026.5,252.8 1037.2,253.2 1040,252.5 C1042.8,251.8 1048.6,247.5 1050,245 C1051.4,242.5 1053.3,233.0 1053.8,227.5 C1054.3,222.0 1067.1,193.8 1055,190 C1042.9,186.2 944.9,187.5 932.5,190Z" fill="#ffaaaa" stroke="#000" stroke-width="2.2" stroke-linejoin="round"/>
<path d="M1055,267.5 C1056.5,266.6 1062.1,264.6 1065,265 C1067.9,265.4 1076.2,268.9 1080,271.2 C1083.8,273.5 1094.7,281.6 1097.5,285 C1100.3,288.4 1103.1,295.9 1103.8,300 C1104.5,304.1 1104.8,315.6 1103.8,320 C1102.8,324.4 1097.8,333.7 1095,337.5 C1092.2,341.3 1082.3,349.6 1080,352.5 C1077.7,355.4 1075.7,359.3 1075,362.5 C1074.3,365.7 1073.8,375.6 1073.8,380 C1073.8,384.4 1075.4,394.8 1075,400 C1074.6,405.2 1071.5,419.8 1070,425 C1068.5,430.2 1064.1,440.6 1062.5,445 C1060.9,449.4 1058.0,459.6 1056.2,462.5 C1054.5,465.4 1050.0,469.4 1047.5,470 C1045.0,470.6 1037.3,469.5 1035,467.5 C1032.7,465.5 1029.2,455.7 1027.5,452.5 C1025.8,449.3 1022.0,443.8 1020,440 C1018.0,436.2 1011.9,424.7 1010,420 C1008.1,415.3 1004.5,403.8 1003.8,400 C1003.1,396.2 1002.5,390.4 1003.8,387.5 C1005.1,384.6 1011.7,378.2 1015,375 C1018.3,371.8 1029.6,364.1 1032.5,360 C1035.4,355.9 1038.4,345.5 1040,340 C1041.6,334.5 1045.0,318.6 1046.2,312.5 C1047.4,306.4 1049.3,292.2 1050,287.5 C1050.7,282.8 1051.9,274.8 1052.5,272.5 C1053.1,270.2 1053.5,268.4 1055,267.5Z" fill="#ffaaaa" stroke="#000" stroke-width="2.2" stroke-linejoin="round"/>
<path d="M900,450 C900.9,446.9 915.9,445.3 920,443.8 C924.1,442.3 931.8,439.1 935,437.5 C938.2,435.9 944.3,430.9 947.5,430 C950.7,429.1 959.4,429.3 962.5,430 C965.6,430.7 972.0,434.2 973.8,436.2 C975.5,438.2 977.8,444.7 977.5,447.5 C977.2,450.3 973.2,457.5 971.2,460 C969.2,462.5 963.1,467.2 960,468.8 C956.9,470.4 948.2,472.6 945,473.8 C941.8,475.0 934.7,477.2 932.5,478.8 C930.3,480.4 928.0,486.5 926.2,487.5 C924.5,488.5 919.1,489.5 917.5,487.5 C915.9,485.5 914.5,474.4 912.5,470 C910.5,465.6 899.1,453.1 900,450Z" fill="#ffaaaa" stroke="#000" stroke-width="2.2" stroke-linejoin="round"/>
<path d="M971.2,292.5 C972.5,289.7 977.2,285.0 980,283.8 C982.8,282.6 991.5,282.2 995,282.5 C998.5,282.8 1007.8,284.2 1010,286.2 C1012.2,288.2 1013.7,296.3 1013.8,300 C1013.9,303.7 1012.4,313.3 1011.2,317.5 C1010.0,321.7 1006.3,332.9 1003.8,336.2 C1001.3,339.5 992.5,345.8 990,346.2 C987.5,346.6 984.2,342.5 982.5,340 C980.8,337.5 976.6,328.8 975,325 C973.4,321.2 969.2,311.3 968.8,307.5 C968.4,303.7 969.9,295.3 971.2,292.5Z" fill="#ffffff" stroke="#000" stroke-width="2.2" stroke-linejoin="round"/>
<path d="M1115,192.5 C1111.8,194.2 1120.8,207.2 1122.5,210 C1124.2,212.8 1130.8,218.5 1132.5,220 C1134.2,221.5 1137.8,224.8 1140,225 C1142.2,225.2 1153.5,225.8 1155,222.5 C1156.5,219.2 1159.0,195.5 1155,192.5 C1151.0,189.5 1118.2,190.8 1115,192.5Z" fill="#ffaaaa" stroke="#000" stroke-width="2.2" stroke-linejoin="round"/>
<path d="M1205,700 L1205,650 L1225,640 L1225,190 L1640,190 L1640,719 L1610,718.8 C1607.9,718.0 1601.7,715.1 1597.5,713.8 C1593.3,712.5 1589.2,711.0 1585,711.2 C1580.8,711.4 1575.8,712.7 1572.5,715 C1569.2,717.3 1567.5,721.7 1565,725 C1562.5,728.3 1560.4,732.5 1557.5,735 C1554.6,737.5 1550.4,737.1 1547.5,740 C1544.6,742.9 1542.9,747.5 1540,752.5 C1537.1,757.5 1532.9,764.2 1530,770 C1527.1,775.8 1524.2,781.7 1522.5,787.5 C1520.8,793.3 1522.1,800.2 1520,805 C1517.9,809.8 1515.0,813.7 1510,816.2 C1505.0,818.7 1496.7,818.1 1490,820 C1483.3,821.9 1476.7,825.2 1470,827.5 C1463.3,829.8 1456.7,832.3 1450,833.8 C1443.3,835.2 1437.5,836.0 1430,836.2 C1422.5,836.4 1413.3,835.0 1405,835 C1396.7,835.0 1388.3,836.4 1380,836.2 C1371.7,836.0 1361.7,835.2 1355,833.8 C1348.3,832.3 1344.0,829.6 1340,827.5 C1336.0,825.4 1334.5,821.4 1331.2,821.2 C1327.9,821.0 1324.4,824.7 1320,826.2 C1315.6,827.7 1310.0,830.2 1305,830 C1300.0,829.8 1295.8,827.5 1290,825 C1284.2,822.5 1276.7,818.3 1270,815 C1263.3,811.7 1256.7,808.8 1250,805 C1243.3,801.2 1235.8,796.2 1230,792.5 C1224.2,788.8 1218.8,785.8 1215,782.5 C1211.2,779.2 1208.5,777.1 1207.5,772.5 C1206.5,767.9 1208.2,762.1 1208.8,755 C1209.4,747.9 1211.0,737.5 1211.2,730 C1211.4,722.5 1210.2,713.3 1210,710Z" fill="#ffd9d9" stroke="#000" stroke-width="2.2" stroke-linejoin="round"/>
<path d="M1612.5,740 C1609.9,741.2 1593.8,747.4 1590,750 C1586.2,752.6 1581.5,758.7 1580,762.5 C1578.5,766.3 1577.2,778.4 1577.5,782.5 C1577.8,786.6 1580.5,794.6 1582.5,797.5 C1584.5,800.4 1591.5,805.9 1595,807.5 C1598.5,809.1 1610.5,810.8 1612.5,811.2Z" fill="#ffd9d9" stroke="#000" stroke-width="3" stroke-linejoin="round"/>
<path d="M1335,520 L1340,552.5 C1340.9,551.6 1345.8,547.6 1347.5,545 C1349.2,542.4 1353.2,533.5 1355,530 C1356.8,526.5 1360.5,517.9 1362.5,515 C1364.5,512.1 1369.6,506.6 1372.5,505 C1375.4,503.4 1383.7,501.5 1387.5,501.2 C1391.3,500.9 1401.2,501.9 1405,502.5 C1408.8,503.1 1416.5,505.6 1420,506.2 C1423.5,506.8 1432.7,506.8 1435,507.5 C1437.3,508.2 1440.9,510.8 1440,512.5 C1439.1,514.2 1430.4,520.2 1427.5,522.5 C1424.6,524.8 1417.0,530.5 1415,532.5 C1413.0,534.5 1410.3,538.0 1410,540 C1409.7,542.0 1411.0,548.0 1412.5,550 C1414.0,552.0 1419.6,556.2 1422.5,557.5 C1425.4,558.8 1434.6,559.7 1437.5,561.2 C1440.4,562.7 1445.6,567.2 1447.5,570 C1449.4,572.8 1452.0,581.5 1453.8,585 C1455.5,588.5 1460.0,595.9 1462.5,600 C1465.0,604.1 1472.1,615.3 1475,620 C1477.9,624.7 1485.5,637.1 1487.5,640 C1489.5,642.9 1490.8,643.2 1492.5,645 C1494.2,646.8 1499.9,653.2 1502.5,655 C1505.1,656.8 1511.8,659.6 1515,660 C1518.2,660.4 1526.2,659.7 1530,658.8 C1533.8,657.9 1543.4,654.4 1547.5,652.5 C1551.6,650.6 1561.2,645.1 1565,642.5 C1568.8,639.9 1574.8,633.2 1580,630 C1585.2,626.8 1606.5,616.8 1610,615 L1640,615 L1640,180 L1240,180 L1225,380 L1300,440 L1290,500Z" fill="#ffaaaa" stroke="#000" stroke-width="2.2" stroke-linejoin="round"/>
<path d="M1398.8,425 C1393.5,427.5 1397.9,452.2 1398.8,455 C1399.7,457.8 1408.0,458.6 1410,458.8 C1412.0,459.0 1420.4,457.1 1422.5,457.5 C1424.6,457.9 1433.2,463.8 1435,463.8 C1436.8,463.8 1442.9,458.6 1443.8,457.5 C1444.7,456.4 1445.0,450.6 1446.2,450 C1447.5,449.4 1457.4,452.1 1458.8,450 C1460.2,447.9 1467.5,427.1 1462.5,425 C1457.5,422.9 1404.1,422.5 1398.8,425Z" fill="#ffd9d9" stroke="#000" stroke-width="3" stroke-linejoin="round"/>
<path d="M1440,492.5 C1441.1,491.0 1447.4,487.1 1448.8,487.5 C1450.2,487.9 1453.8,493.9 1453.8,496.2 C1453.8,498.4 1450.2,508.4 1448.8,510 C1447.4,511.6 1441.1,513.2 1440,512.5 C1438.9,511.8 1437.5,504.5 1437.5,502.5 C1437.5,500.5 1438.9,494.0 1440,492.5Z" fill="#ffd9d9" stroke="#000" stroke-width="2.5" stroke-linejoin="round"/>
<path d="M1262.5,190 C1252.7,193.5 1260.3,215.3 1261.2,220 C1262.1,224.7 1267.2,227.8 1270,230 C1272.8,232.2 1281.2,237.5 1285,238.8 C1288.8,240.1 1298.4,241.6 1302.5,241.2 C1306.6,240.8 1316.2,237.5 1320,235 C1323.8,232.5 1332.4,223.2 1335,220 C1337.6,216.8 1341.3,211.0 1342.5,207.5 C1343.7,204.0 1354.3,192.0 1345,190 C1335.7,188.0 1272.3,186.5 1262.5,190Z" fill="#ff5555" stroke="#000" stroke-width="2.2" stroke-linejoin="round"/>
<path d="M1502.5,190 C1492.8,192.5 1511.0,210.8 1512.5,215 C1514.0,219.2 1517.5,228.8 1517.5,232.5 C1517.5,236.2 1514.2,249.5 1512.5,252.5 C1510.8,255.5 1503.0,260.4 1500,262.5 C1497.0,264.6 1485.2,273.2 1482.5,273.8 C1479.8,274.4 1474.6,268.9 1472.5,268.8 C1470.4,268.7 1462.8,270.9 1461.2,272.5 C1459.6,274.1 1456.4,281.5 1456.2,285 C1456.0,288.5 1457.5,303.5 1458.8,307.5 C1460.1,311.5 1466.4,322.1 1468.8,325 C1471.2,327.9 1479.4,334.4 1482.5,336.2 C1485.6,337.9 1496.5,340.9 1500,342.5 C1503.5,344.1 1514.0,350.5 1517.5,352.5 C1521.0,354.5 1532.8,363.8 1535,362.5 C1537.2,361.2 1541.0,344.9 1540,340 C1539.0,335.1 1525.6,316.8 1525,313.8 C1524.4,310.8 1533.8,311.4 1533.8,310 C1533.8,308.6 1526.0,302.2 1525,300 C1524.0,297.8 1522.8,289.2 1523.8,287.5 C1524.8,285.8 1531.9,282.8 1535,282.5 C1538.1,282.2 1551.5,286.2 1555,285 C1558.5,283.8 1567.0,272.5 1570,270 C1573.0,267.5 1581.0,262.0 1585,260 C1589.0,258.0 1607.5,257.0 1610,250 C1612.5,243.0 1620.8,196.0 1610,190 C1599.2,184.0 1512.2,187.5 1502.5,190Z" fill="#ff5555" stroke="#000" stroke-width="2.2" stroke-linejoin="round"/>
<path d="M1550,300 C1550.0,298.5 1557.5,294.5 1560,295 C1562.5,295.5 1570.0,302.2 1575,305 C1580.0,307.8 1606.5,317.5 1610,322.5 C1613.5,327.5 1611.5,353.2 1610,355 C1608.5,356.8 1598.5,343.2 1595,340 C1591.5,336.8 1578.5,325.5 1575,322.5 C1571.5,319.5 1562.5,312.2 1560,310 C1557.5,307.8 1550.0,301.5 1550,300Z" fill="#ff5555" stroke="#000" stroke-width="2.2" stroke-linejoin="round"/>
<path d="M820,545 L925,545 L925,640 L890,690 L880,712.5 C877.5,713.1 869.6,713.9 865,716.2 C860.4,718.5 856.2,726.8 852.5,726.2 C848.8,725.6 844.2,714.8 842.5,712.5 L820,700Z" fill="#ffd9d9" stroke="#000" stroke-width="0.1" stroke-linejoin="round"/>
<path d="M822.5,615 L833.8,597 L842.5,598.8 L840,610 L836.2,622.5 L833.8,640 L830,657.5 L827.5,672.5 L822.5,672.5Z" fill="#ffaaaa" stroke="#000" stroke-width="1.2" stroke-linejoin="round"/>
<path d="M337,1240 L337.5,1258.8 C336.8,1260.6 333.7,1269.7 332.5,1272.5 C331.3,1275.3 327.8,1278.3 328.8,1280 C329.8,1281.7 335.8,1284.7 340,1285 C344.2,1285.3 354.7,1282.3 360,1282.5 C365.3,1282.7 374.7,1285.2 380,1286.2 C385.3,1287.2 395.3,1289.2 400,1290 C404.7,1290.8 412.2,1290.8 415,1292.5 C417.8,1294.2 420.4,1298.8 421.2,1302.5 C422.0,1306.2 422.2,1315.7 421.2,1320 C420.2,1324.3 414.3,1331.8 413.8,1335 C413.3,1338.2 416.0,1343.1 417.5,1343.8 C419.0,1344.5 421.3,1339.8 425,1340 C428.7,1340.2 439.7,1344.5 445,1345 C450.3,1345.5 460.0,1344.6 465,1343.8 C470.0,1343.0 478.3,1340.1 482.5,1338.8 C486.7,1337.5 493.7,1333.0 496.2,1333.8 C498.7,1334.6 501.2,1341.5 501.2,1345 C501.2,1348.5 497.4,1355.3 496.2,1360 C495.0,1364.7 492.5,1375.7 492.5,1380 C492.5,1384.3 494.5,1389.8 496.2,1392.5 C497.9,1395.2 502.8,1397.7 505,1400 C507.2,1402.3 511.7,1407.3 512.5,1410 C513.3,1412.7 512.5,1417.8 511.2,1420 C509.9,1422.2 506.3,1424.7 502.5,1426.2 C498.7,1427.7 487.5,1429.9 482.5,1431.2 C477.5,1432.5 470.0,1435.7 465,1436.2 C460.0,1436.7 450.0,1435.0 445,1435 C440.0,1435.0 431.3,1435.0 427.5,1436.2 C423.7,1437.4 418.0,1441.3 416.2,1443.8 C414.4,1446.3 413.3,1452.2 413.8,1455 C414.3,1457.8 417.5,1463.2 420,1465 C422.5,1466.8 428.5,1468.6 432.5,1468.8 C436.5,1469.0 445.7,1466.2 450,1466.2 C454.3,1466.2 461.3,1467.3 465,1468.8 C468.7,1470.3 474.8,1474.7 477.5,1477.5 C480.2,1480.3 483.0,1486.3 485,1490 C487.0,1493.7 490.5,1501.8 492.5,1505 C494.5,1508.2 497.0,1511.1 500,1513.8 C503.0,1516.5 513.0,1523.5 515,1525 L560,1545 L700,1400 L720,1295 L668.8,1285 C668.3,1282.7 667.5,1271.5 665,1267.5 C662.5,1263.5 652.8,1259.0 650,1255 C647.2,1251.0 644.1,1241.5 643.8,1237.5 C643.5,1233.5 646.0,1228.7 647.5,1225 C649.0,1221.3 652.7,1214.7 655,1210 C657.3,1205.3 662.3,1194.7 665,1190 C667.7,1185.3 673.0,1176.7 675,1175 C677.0,1173.3 677.7,1175.8 680,1177.5 C682.3,1179.2 688.8,1184.8 692.5,1187.5 C696.2,1190.2 704.2,1196.5 707.5,1197.5 C710.8,1198.5 715.5,1196.7 717.5,1195 C719.5,1193.3 722.0,1188.0 722.5,1185 C723.0,1182.0 722.9,1174.7 721.2,1172.5 C719.5,1170.3 713.5,1169.6 710,1168.8 C706.5,1168.0 698.2,1167.7 695,1166.2 C691.8,1164.7 686.9,1160.3 686.2,1157.5 C685.5,1154.7 688.0,1148.3 690,1145 C692.0,1141.7 699.9,1136.8 701.2,1132.5 C702.5,1128.2 700.8,1118.2 700,1112.5 C699.2,1106.8 695.3,1095.3 695,1090 C694.7,1084.7 696.2,1076.5 697.5,1072.5 C698.8,1068.5 702.0,1063.7 705,1060 C708.0,1056.3 717.0,1049.0 720,1045 C723.0,1041.0 727.0,1033.7 727.5,1030 C728.0,1026.3 725.8,1020.2 723.8,1017.5 C721.8,1014.8 716.0,1011.0 712.5,1010 C709.0,1009.0 701.2,1009.0 697.5,1010 C693.8,1011.0 686.8,1014.8 685,1017.5 C683.2,1020.2 684.8,1026.0 683.8,1030 C682.8,1034.0 679.7,1042.2 677.5,1047.5 C675.3,1052.8 669.0,1063.0 667.5,1070 C666.0,1077.0 666.5,1092.7 666.2,1100 C665.9,1107.3 666.8,1121.3 665,1125 C663.2,1128.7 655.5,1128.8 652.5,1127.5 C649.5,1126.2 644.5,1118.3 642.5,1115 C640.5,1111.7 636.7,1106.5 637.5,1102.5 C638.3,1098.5 647.1,1089.7 648.8,1085 C650.5,1080.3 651.2,1071.2 650,1067.5 C648.8,1063.8 643.3,1060.5 640,1057.5 C636.7,1054.5 629.0,1047.5 625,1045 C621.0,1042.5 613.7,1039.1 610,1038.8 C606.3,1038.5 600.3,1040.3 597.5,1042.5 C594.7,1044.7 589.8,1051.3 588.8,1055 C587.8,1058.7 588.5,1064.7 590,1070 C591.5,1075.3 600.0,1090.8 600,1095 C600.0,1099.2 593.3,1100.7 590,1101.2 C586.7,1101.7 578.7,1100.6 575,1098.8 C571.3,1097.0 565.5,1090.3 562.5,1087.5 C559.5,1084.7 555.2,1078.2 552.5,1077.5 C549.8,1076.8 544.8,1079.5 542.5,1082.5 C540.2,1085.5 538.3,1097.0 535,1100 C531.7,1103.0 522.8,1103.3 517.5,1105 C512.2,1106.7 498.0,1111.5 495,1112.5 L480,1115 L480,1240Z" fill="#ccffff" stroke="#000" stroke-width="2.2" stroke-linejoin="round"/>
<path d="M577.5,1147.5 C578.8,1142.9 582.9,1138.1 587.5,1135 C592.1,1131.9 598.8,1129.6 605,1128.8 C611.2,1128.0 618.8,1128.1 625,1130 C631.2,1131.9 638.8,1135.8 642.5,1140 C646.2,1144.2 647.5,1149.2 647.5,1155 C647.5,1160.8 645.0,1169.2 642.5,1175 C640.0,1180.8 635.4,1185.6 632.5,1190 C629.6,1194.4 627.9,1199.5 625,1201.2 C622.1,1202.9 618.3,1202.7 615,1200 C611.7,1197.3 609.2,1189.2 605,1185 C600.8,1180.8 594.2,1178.8 590,1175 C585.8,1171.2 582.1,1167.1 580,1162.5 C577.9,1157.9 576.2,1152.1 577.5,1147.5Z" fill="#ffffff" stroke="#000" stroke-width="2.2" stroke-linejoin="round"/>
<path d="M538.8,1292.5 C538.8,1288.8 542.3,1285.5 545,1283.8 C547.7,1282.1 551.7,1281.0 555,1282.5 C558.3,1284.0 562.9,1289.2 565,1292.5 C567.1,1295.8 568.8,1300.0 567.5,1302.5 C566.2,1305.0 561.2,1306.9 557.5,1307.5 C553.8,1308.1 548.1,1308.7 545,1306.2 C541.9,1303.7 538.8,1296.2 538.8,1292.5Z" fill="#ffffff" stroke="#000" stroke-width="2.2" stroke-linejoin="round"/>
<path d="M572.5,1310 C573.3,1306.5 578.3,1304.6 582.5,1303.8 C586.7,1303.0 593.3,1303.1 597.5,1305 C601.7,1306.9 605.6,1310.4 607.5,1315 C609.4,1319.6 610.0,1328.3 608.8,1332.5 C607.5,1336.7 603.5,1339.2 600,1340 C596.5,1340.8 591.2,1340.0 587.5,1337.5 C583.8,1335.0 580.0,1329.6 577.5,1325 C575.0,1320.4 571.7,1313.5 572.5,1310Z" fill="#ffffff" stroke="#000" stroke-width="2.2" stroke-linejoin="round"/>
<path d="M618.8,1305 C619.8,1301.7 624.4,1298.1 627.5,1297.5 C630.6,1296.9 635.0,1298.7 637.5,1301.2 C640.0,1303.7 642.3,1309.0 642.5,1312.5 C642.7,1316.0 640.9,1320.4 638.8,1322.5 C636.7,1324.6 632.9,1325.8 630,1325 C627.1,1324.2 623.1,1320.8 621.2,1317.5 C619.3,1314.2 617.8,1308.3 618.8,1305Z" fill="#66ffff" stroke="#000" stroke-width="1.5" stroke-linejoin="round"/>
<path d="M553.8,1136.2 L558.8,1132 L563.8,1136.2 L558.8,1141.2Z" fill="#ffffff" stroke="#000" stroke-width="2.2" stroke-linejoin="round"/>
<path d="M398.8,1365 C399.9,1362.9 402.1,1361.7 403.8,1362.5 C405.5,1363.3 408.2,1366.7 408.8,1370 C409.4,1373.3 408.8,1380.0 407.5,1382.5 C406.2,1385.0 402.9,1386.2 401.2,1385 C399.5,1383.8 397.9,1378.3 397.5,1375 C397.1,1371.7 397.8,1367.1 398.8,1365Z" fill="#ccffff" stroke="#000" stroke-width="2.2" stroke-linejoin="round"/>
<path d="M365,1420 C366.9,1416.7 371.5,1412.7 375,1410 C378.5,1407.3 382.9,1403.4 386.2,1403.8 C389.5,1404.2 392.3,1408.5 395,1412.5 C397.7,1416.5 401.7,1422.9 402.5,1427.5 C403.3,1432.1 403.8,1436.9 400,1440 C396.2,1443.1 385.4,1446.0 380,1446.2 C374.6,1446.4 370.2,1443.9 367.5,1441.2 C364.8,1438.5 364.2,1433.5 363.8,1430 C363.4,1426.5 363.1,1423.3 365,1420Z" fill="#ccffff" stroke="#000" stroke-width="2.2" stroke-linejoin="round"/>
<path d="M546.2,1446.2 L560,1440 L563.8,1452.5 L572.5,1465 L565,1470 L555,1460Z" fill="#66ffff" stroke="#000" stroke-width="1.5" stroke-linejoin="round"/>
<path d="M740,1290 L726.2,1266.2 C726.7,1263.7 729.3,1251.8 730,1247.5 C730.7,1243.2 730.5,1234.5 731.2,1233.8 C731.9,1233.1 733.2,1240.7 735,1242.5 C736.8,1244.3 741.7,1247.5 745,1247.5 C748.3,1247.5 755.3,1244.0 760,1242.5 C764.7,1241.0 774.7,1236.7 780,1236.2 C785.3,1235.7 795.7,1238.1 800,1238.8 C804.3,1239.5 809.2,1241.7 812.5,1241.2 C815.8,1240.7 823.3,1237.2 825,1235 C826.7,1232.8 827.0,1227.7 825,1225 C823.0,1222.3 814.3,1218.0 810,1215 C805.7,1212.0 794.8,1205.8 792.5,1202.5 C790.2,1199.2 791.8,1193.7 792.5,1190 C793.2,1186.3 797.2,1179.0 797.5,1175 C797.8,1171.0 796.3,1163.5 795,1160 C793.7,1156.5 791.2,1150.5 787.5,1148.8 C783.8,1147.1 772.8,1147.5 767.5,1147.5 C762.2,1147.5 750.7,1149.8 747.5,1148.8 C744.3,1147.8 744.6,1143.5 743.8,1140 C743.0,1136.5 741.0,1126.5 741.2,1122.5 C741.4,1118.5 743.2,1113.0 745,1110 C746.8,1107.0 753.3,1104.0 755,1100 C756.7,1096.0 756.5,1085.3 757.5,1080 C758.5,1074.7 760.2,1064.3 762.5,1060 C764.8,1055.7 770.7,1051.5 775,1047.5 C779.3,1043.5 789.7,1034.0 795,1030 C800.3,1026.0 810.3,1020.2 815,1017.5 C819.7,1014.8 826.7,1012.7 830,1010 C833.3,1007.3 838.5,1001.2 840,997.5 C841.5,993.8 839.9,983.8 841.2,982.5 C842.5,981.2 847.5,987.8 850,987.5 C852.5,987.2 858.3,983.7 860,980 C861.7,976.3 862.3,963.7 862.5,960 C862.7,956.3 860.9,957.2 861.2,952.5 C861.5,947.8 863.2,932.3 865,925 C866.8,917.7 871.7,904.5 875,897.5 C878.3,890.5 886.3,878.2 890,872.5 C893.7,866.8 898.5,859.3 902.5,855 C906.5,850.7 914.7,843.3 920,840 C925.3,836.7 936.5,833.3 942.5,830 C948.5,826.7 958.3,818.7 965,815 C971.7,811.3 985.5,805.8 992.5,802.5 C999.5,799.2 1012.5,792.2 1017.5,790 C1022.5,787.8 1027.0,785.9 1030,786.2 C1033.0,786.5 1038.0,789.3 1040,792.5 C1042.0,795.7 1043.3,805.0 1045,810 C1046.7,815.0 1049.5,826.0 1052.5,830 C1055.5,834.0 1063.2,837.0 1067.5,840 C1071.8,843.0 1080.3,850.2 1085,852.5 C1089.7,854.8 1098.5,857.8 1102.5,857.5 C1106.5,857.2 1112.0,853.3 1115,850 C1118.0,846.7 1122.0,837.2 1125,832.5 C1128.0,827.8 1134.2,819.0 1137.5,815 C1140.8,811.0 1147.2,805.3 1150,802.5 C1152.8,799.7 1156.8,794.5 1158.8,793.8 C1160.8,793.1 1161.5,795.7 1165,797.5 C1168.5,799.3 1181.3,805.5 1185,807.5 C1188.7,809.5 1189.2,810.2 1192.5,812.5 C1195.8,814.8 1206.7,821.3 1210,825 C1213.3,828.7 1216.2,836.0 1217.5,840 C1218.8,844.0 1218.7,850.7 1220,855 C1221.3,859.3 1224.8,867.8 1227.5,872.5 C1230.2,877.2 1236.3,885.5 1240,890 C1243.7,894.5 1250.3,904.0 1255,906.2 C1259.7,908.4 1270.0,905.7 1275,906.2 C1280.0,906.7 1287.5,908.8 1292.5,910 C1297.5,911.2 1307.8,913.3 1312.5,915 C1317.2,916.7 1323.8,920.2 1327.5,922.5 C1331.2,924.8 1336.3,930.5 1340,932.5 C1343.7,934.5 1350.0,935.2 1355,937.5 C1360.0,939.8 1371.5,947.7 1377.5,950 C1383.5,952.3 1394.3,954.0 1400,955 C1405.7,956.0 1414.7,957.0 1420,957.5 C1425.3,958.0 1435.7,957.5 1440,958.8 C1444.3,960.1 1450.2,964.0 1452.5,967.5 C1454.8,971.0 1456.5,980.3 1457.5,985 C1458.5,989.7 1458.7,999.2 1460,1002.5 C1461.3,1005.8 1464.8,1009.2 1467.5,1010 C1470.2,1010.8 1477.3,1010.1 1480,1008.8 C1482.7,1007.5 1485.2,1001.8 1487.5,1000 C1489.8,998.2 1493.5,995.7 1497.5,995 C1501.5,994.3 1511.5,994.3 1517.5,995 C1523.5,995.7 1535.5,998.7 1542.5,1000 C1549.5,1001.3 1560.3,1004.2 1570,1005 C1579.7,1005.8 1609.0,1006.0 1615,1006.2 L1640,1006 L1640,1640 L930,1640 L930,1500 L880,1330Z" fill="#ccffff" stroke="#000" stroke-width="2.2" stroke-linejoin="round"/>
<path d="M982.5,870L982.5,870 C983.5,870.5 988.5,872.0 990,873.8 C991.5,875.6 994.1,881.0 993.8,883.8 C993.5,886.6 988.7,891.8 987.5,895 C986.3,898.2 984.7,903.5 985,907.5 C985.3,911.5 988.7,920.3 990,925 C991.3,929.7 993.7,938.5 995,942.5 C996.3,946.5 1000.7,950.7 1000,955 C999.3,959.3 991.0,970.7 990,975 C989.0,979.3 990.5,983.5 992.5,987.5 C994.5,991.5 1002.0,1001.5 1005,1005 C1008.0,1008.5 1012.0,1013.1 1015,1013.8 C1018.0,1014.5 1025.0,1011.8 1027.5,1010 C1030.0,1008.2 1032.8,1003.7 1033.8,1000 C1034.8,996.3 1034.2,985.8 1035,982.5 C1035.8,979.2 1037.3,976.5 1040,975 C1042.7,973.5 1050.7,971.9 1055,971.2 C1059.3,970.5 1068.5,969.5 1072.5,970 C1076.5,970.5 1083.0,973.3 1085,975 C1087.0,976.7 1088.2,979.8 1087.5,982.5 C1086.8,985.2 1082.7,992.0 1080,995 C1077.3,998.0 1069.8,1002.3 1067.5,1005 C1065.2,1007.7 1062.8,1011.0 1062.5,1015 C1062.2,1019.0 1063.7,1030.7 1065,1035 C1066.3,1039.3 1070.2,1044.5 1072.5,1047.5 C1074.8,1050.5 1080.2,1055.0 1082.5,1057.5 C1084.8,1060.0 1088.0,1065.0 1090,1066.2 C1092.0,1067.4 1097.0,1068.4 1097.5,1066.2 C1098.0,1064.0 1093.5,1054.2 1093.8,1050 C1094.1,1045.8 1097.8,1038.3 1100,1035 C1102.2,1031.7 1107.0,1028.0 1110,1025 C1113.0,1022.0 1119.8,1016.2 1122.5,1012.5 C1125.2,1008.8 1129.3,1001.2 1130,997.5 C1130.7,993.8 1128.5,987.7 1127.5,985 C1126.5,982.3 1122.7,979.0 1122.5,977.5 C1122.3,976.0 1124.9,972.8 1126.2,973.8 C1127.5,974.8 1130.3,984.2 1132.5,985 C1134.7,985.8 1139.5,982.3 1142.5,980 C1145.5,977.7 1151.7,971.5 1155,967.5 C1158.3,963.5 1164.2,953.3 1167.5,950 C1170.8,946.7 1176.3,943.7 1180,942.5 C1183.7,941.3 1191.3,940.5 1195,941.2 C1198.7,941.9 1204.8,944.7 1207.5,947.5 C1210.2,950.3 1213.0,959.2 1215,962.5 C1217.0,965.8 1218.8,970.2 1222.5,972.5 C1226.2,974.8 1237.2,978.3 1242.5,980 C1247.8,981.7 1257.5,982.7 1262.5,985 C1267.5,987.3 1274.3,994.5 1280,997.5 C1285.7,1000.5 1298.3,1005.2 1305,1007.5 C1311.7,1009.8 1323.3,1013.5 1330,1015 C1336.7,1016.5 1347.8,1018.0 1355,1018.8 C1362.2,1019.6 1378.5,1020.7 1384.2,1021.1 C1389.9,1021.5 1394.7,1021.3 1397.8,1022.1 C1400.9,1022.9 1404.9,1025.0 1407.5,1026.9 C1410.1,1028.8 1414.9,1034.6 1417.2,1036.7 C1419.5,1038.8 1423.8,1040.4 1425,1042.5 C1426.2,1044.6 1425.0,1050.1 1426,1052.2 C1427.0,1054.3 1430.6,1056.8 1432.8,1058 C1435.0,1059.2 1439.6,1060.9 1442.5,1061 C1445.4,1061.1 1452.0,1058.9 1454.2,1059 C1456.4,1059.1 1458.1,1060.0 1459,1061.9 C1459.9,1063.8 1461.1,1070.7 1461,1073.6 C1460.9,1076.5 1459.7,1081.6 1458,1083.3 C1456.3,1085.0 1450.9,1086.2 1448.3,1086.2 C1445.7,1086.2 1440.9,1084.2 1438.6,1083.3 C1436.3,1082.4 1432.9,1079.9 1430.8,1079.4 C1428.7,1078.9 1425.2,1078.6 1423.1,1079.4 C1421.0,1080.2 1417.6,1084.1 1415.3,1085.3 C1413.0,1086.5 1408.2,1087.6 1405.6,1088.2 C1403.0,1088.8 1397.2,1088.2 1395.8,1090.1 C1394.4,1092.0 1394.8,1099.6 1394.9,1102.8 C1395.0,1106.0 1395.9,1112.1 1396.8,1114.4 C1397.7,1116.7 1400.3,1120.6 1401.7,1120.3 C1403.1,1120.0 1405.7,1114.6 1407.5,1112.5 C1409.3,1110.4 1413.0,1106.1 1415.3,1104.7 C1417.6,1103.3 1422.1,1102.1 1425,1101.8 C1427.9,1101.5 1433.6,1102.1 1436.7,1102.8 C1439.8,1103.5 1445.5,1105.7 1448.3,1106.7 C1451.1,1107.7 1455.7,1109.2 1458,1110.5 C1460.3,1111.8 1463.5,1115.0 1465.8,1116.4 C1468.1,1117.8 1472.6,1120.4 1475.5,1121.2 C1478.4,1122.0 1484.5,1122.4 1487.2,1122.2 C1489.9,1122.0 1494.3,1121.1 1496,1120 C1497.7,1118.9 1499.1,1115.2 1500,1114 C1500.9,1112.8 1501.9,1111.3 1503,1111 C1504.1,1110.7 1507.6,1110.5 1508,1112 C1508.4,1113.5 1506.5,1118.8 1506,1122 C1505.5,1125.2 1504.1,1132.3 1504,1136 C1503.9,1139.7 1505.0,1146.5 1505,1150 C1505.0,1153.5 1504.7,1159.5 1504,1162 C1503.3,1164.5 1501.6,1167.4 1500,1169 C1498.4,1170.6 1493.9,1172.7 1492,1174 C1490.1,1175.3 1487.0,1177.5 1486,1179 C1485.0,1180.5 1484.6,1183.1 1484.5,1185 C1484.4,1186.9 1485.0,1191.0 1485.5,1193 C1486.0,1195.0 1487.4,1198.3 1488,1200 C1488.6,1201.7 1489.7,1205.2 1490,1206 L1492,1210 L1500,1220 L1560,1250 L1640,1250 L1640,1640 L950,1640 L950,1400 L960,1350 L966.2,1347.5 C965.7,1345.8 963.0,1338.7 962.5,1335 C962.0,1331.3 962.8,1324.7 962.5,1320 C962.2,1315.3 961.0,1305.3 960,1300 C959.0,1294.7 955.3,1285.3 955,1280 C954.7,1274.7 956.7,1264.0 957.5,1260 C958.3,1256.0 959.5,1251.3 961.2,1250 C962.9,1248.7 967.2,1250.2 970,1250 C972.8,1249.8 980.8,1249.0 982.5,1248.8 L1000,1240 L1003,1178 L1001.7,1155.8 C1001.0,1155.6 998.5,1154.1 996.7,1154.2 C994.9,1154.3 990.1,1155.5 988.3,1156.7 C986.5,1157.9 984.8,1162.0 983.3,1163.3 C981.8,1164.6 978.5,1166.9 976.7,1166.7 C974.9,1166.5 971.8,1163.3 970,1161.7 C968.2,1160.1 965.1,1156.6 963.3,1155 C961.5,1153.4 958.9,1151.1 956.7,1150 C954.5,1148.9 948.7,1148.3 946.7,1146.7 C944.7,1145.1 942.2,1141.0 941.7,1138.3 C941.2,1135.6 943.8,1129.1 943.3,1126.7 C942.8,1124.3 940.1,1121.8 938.3,1120 C936.5,1118.2 931.2,1115.5 930,1113.3 C928.8,1111.1 928.8,1105.4 929.2,1103.3 C929.6,1101.2 931.9,1097.9 933.3,1097.5 C934.7,1097.1 937.8,1098.6 940,1100 C942.2,1101.4 947.3,1105.9 950,1108.3 C952.7,1110.7 957.3,1116.2 960,1118.3 C962.7,1120.4 967.3,1123.7 970,1124.2 C972.7,1124.7 977.8,1123.4 980,1121.7 C982.2,1120.0 984.7,1114.8 986.7,1111.7 C988.7,1108.6 993.0,1101.9 995,1098.3 C997.0,1094.7 1000.4,1088.1 1001.7,1085 C1003.0,1081.9 1005.0,1077.4 1005,1075 C1005.0,1072.6 1001.7,1068.5 1001.7,1066.7 C1001.7,1064.9 1003.9,1062.2 1005,1061.7 C1006.1,1061.2 1008.9,1062.2 1010,1063.3 C1011.1,1064.4 1012.2,1068.0 1013.3,1070 C1014.4,1072.0 1016.5,1078.3 1018.3,1078.3 C1020.1,1078.3 1024.2,1072.2 1026.7,1070 C1029.2,1067.8 1034.0,1063.7 1036.7,1061.7 C1039.4,1059.7 1046.0,1057.0 1046.7,1055 C1047.4,1053.0 1043.7,1048.9 1041.7,1046.7 C1039.7,1044.5 1034.8,1040.1 1031.7,1038.3 C1028.6,1036.5 1022.3,1033.7 1018.3,1033.3 C1014.3,1032.9 1005.9,1035.9 1001.7,1035 C997.5,1034.1 990.5,1028.5 986.7,1026.7 C982.9,1024.9 976.2,1023.9 973.3,1021.7 C970.4,1019.5 966.3,1012.9 965,1010 C963.7,1007.1 963.6,1003.0 963.3,1000 C963.0,997.0 962.4,995.8 962.5,987.5 C962.6,979.2 963.1,949.2 963.8,937.5 C964.5,925.8 967.3,906.3 967.5,900 C967.7,893.7 965.2,892.7 965,890 C964.8,887.3 965.2,882.3 966.2,880 C967.2,877.7 971.7,873.5 972.5,872.5Z" fill="#66ffff" stroke="#000" stroke-width="2.2" stroke-linejoin="round"/>
<path d="M906.2,965 C907.9,961.9 911.9,959.6 915,958.8 C918.1,958.0 921.9,958.1 925,960 C928.1,961.9 931.9,965.4 933.8,970 C935.7,974.6 936.2,981.7 936.2,987.5 C936.2,993.3 934.0,1000.0 933.8,1005 C933.6,1010.0 936.5,1014.4 935,1017.5 C933.5,1020.6 928.8,1022.5 925,1023.8 C921.2,1025.0 915.6,1026.9 912.5,1025 C909.4,1023.1 906.8,1017.9 906.2,1012.5 C905.6,1007.1 909.0,998.3 908.8,992.5 C908.6,986.7 905.4,982.1 905,977.5 C904.6,972.9 904.5,968.1 906.2,965Z" fill="#66ffff" stroke="#000" stroke-width="2.2" stroke-linejoin="round"/>
<path d="M910,1078.3 C910.5,1076.9 913.8,1075.9 915,1075.8 C916.2,1075.7 920.9,1076.4 921.7,1077.5 C922.5,1078.6 923.3,1085.0 923.3,1086.7 C923.3,1088.5 922.7,1094.1 921.7,1095 C920.7,1095.9 914.5,1096.3 913.3,1095.8 C912.1,1095.3 910.3,1091.8 910,1090 C909.7,1088.2 909.5,1079.7 910,1078.3Z" fill="#66ffff" stroke="#000" stroke-width="1.8" stroke-linejoin="round"/>
<path d="M911.7,1109.2 C912.1,1108.6 914.4,1107.2 915,1107.5 C915.6,1107.8 917.6,1111.6 917.5,1112.5 C917.4,1113.4 914.9,1116.6 914.2,1116.7 C913.5,1116.8 911.0,1114.0 910.8,1113.3 C910.5,1112.5 911.3,1109.8 911.7,1109.2Z" fill="#66ffff" stroke="#000" stroke-width="1.8" stroke-linejoin="round"/>
<path d="M905,1146.7 C905.8,1145.1 912.1,1144.7 913.3,1145 C914.5,1145.3 916.4,1149.0 916.7,1150 C917.0,1151.0 915.2,1154.3 916.7,1155 C918.2,1155.7 930.4,1156.0 931.7,1156.7 C933.0,1157.4 931.3,1161.3 930,1161.7 C928.7,1162.1 920.1,1161.3 918.3,1160.8 C916.5,1160.3 913.0,1156.7 911.7,1156.7 C910.5,1156.7 906.5,1161.8 905.8,1160.8 C905.1,1159.8 904.2,1148.3 905,1146.7Z" fill="#66ffff" stroke="#000" stroke-width="1.8" stroke-linejoin="round"/>
<path d="M1130,1107.5 C1130.8,1104.6 1134.6,1101.7 1137.5,1097.5 C1140.4,1093.3 1144.2,1087.1 1147.5,1082.5 C1150.8,1077.9 1153.8,1072.7 1157.5,1070 C1161.2,1067.3 1166.2,1065.8 1170,1066.2 C1173.8,1066.6 1177.1,1069.8 1180,1072.5 C1182.9,1075.2 1184.2,1080.0 1187.5,1082.5 C1190.8,1085.0 1195.8,1087.3 1200,1087.5 C1204.2,1087.7 1209.4,1085.9 1212.5,1083.8 C1215.6,1081.7 1218.0,1079.0 1218.8,1075 C1219.6,1071.0 1218.5,1065.0 1217.5,1060 C1216.5,1055.0 1212.5,1049.2 1212.5,1045 C1212.5,1040.8 1214.6,1037.1 1217.5,1035 C1220.4,1032.9 1225.4,1033.8 1230,1032.5 C1234.6,1031.2 1240.4,1030.0 1245,1027.5 C1249.6,1025.0 1254.2,1018.3 1257.5,1017.5 C1260.8,1016.7 1262.5,1019.2 1265,1022.5 C1267.5,1025.8 1270.6,1032.1 1272.5,1037.5 C1274.4,1042.9 1275.8,1049.2 1276.2,1055 C1276.6,1060.8 1276.5,1067.1 1275,1072.5 C1273.5,1077.9 1270.8,1083.3 1267.5,1087.5 C1264.2,1091.7 1260.0,1095.0 1255,1097.5 C1250.0,1100.0 1242.5,1099.6 1237.5,1102.5 C1232.5,1105.4 1228.8,1110.8 1225,1115 C1221.2,1119.2 1218.3,1125.2 1215,1127.5 C1211.7,1129.8 1208.3,1130.5 1205,1128.8 C1201.7,1127.1 1198.3,1121.0 1195,1117.5 C1191.7,1114.0 1189.2,1109.6 1185,1107.5 C1180.8,1105.4 1175.0,1104.2 1170,1105 C1165.0,1105.8 1160.0,1110.0 1155,1112.5 C1150.0,1115.0 1143.8,1119.6 1140,1120 C1136.2,1120.4 1134.2,1117.1 1132.5,1115 C1130.8,1112.9 1129.2,1110.4 1130,1107.5Z" fill="#ccffff" stroke="#000" stroke-width="2.2" stroke-linejoin="round"/>
<path d="M993.3,1123.3 C992.7,1121.4 996.1,1118.4 998.3,1116.7 C1000.5,1115.0 1003.6,1114.7 1006.7,1113.3 C1009.8,1111.9 1013.7,1108.3 1016.7,1108.3 C1019.8,1108.3 1024.5,1110.8 1025,1113.3 C1025.5,1115.8 1022.0,1121.1 1020,1123.3 C1018.0,1125.5 1016.3,1125.9 1013.3,1126.7 C1010.2,1127.5 1005.0,1128.9 1001.7,1128.3 C998.4,1127.7 993.9,1125.2 993.3,1123.3Z" fill="#ccffff" stroke="#000" stroke-width="2.2" stroke-linejoin="round"/>
<path d="M986.7,1157.5 L996.7,1154.2 L1020,1156.7 L1018.3,1171.7 L1006.7,1173.3 L1000,1174.2 L996.7,1166.7Z" fill="#ccffff" stroke="#000" stroke-width="2.2" stroke-linejoin="round"/>
<path d="M1105,1065 L1117.5,1055 L1120,1062.5 L1115,1070 L1110,1072.5Z" fill="#ffffff" stroke="#000" stroke-width="2.2" stroke-linejoin="round"/>
<path d="M1098.8,1090 L1110,1086.2 L1111.2,1091.2 L1102.5,1093.8Z" fill="#ffffff" stroke="#000" stroke-width="2.2" stroke-linejoin="round"/>
<path d="M972.5,1100 C973.1,1098.6 975.2,1095.5 976.7,1095 C978.2,1094.5 980.7,1095.6 981.7,1096.7 C982.7,1097.8 983.3,1100.0 982.5,1101.7 C981.7,1103.4 978.2,1106.4 976.7,1106.7 C975.2,1107.0 974.0,1104.4 973.3,1103.3 C972.6,1102.2 971.9,1101.4 972.5,1100Z" fill="#ffffff" stroke="#000" stroke-width="2.2" stroke-linejoin="round"/>
<path d="M870.8,1223.3 C871.2,1220.8 874.8,1219.4 876.7,1218.3 C878.7,1217.2 881.1,1215.6 882.5,1216.7 C883.9,1217.8 885.1,1222.5 885,1225 C884.9,1227.5 883.5,1230.3 881.7,1231.7 C879.9,1233.1 876.0,1234.7 874.2,1233.3 C872.4,1231.9 870.4,1225.8 870.8,1223.3Z" fill="#ffffff" stroke="#000" stroke-width="2.2" stroke-linejoin="round"/>
<path d="M1095,1365 C1097.3,1362.9 1103.8,1363.3 1107.5,1365 C1111.2,1366.7 1116.7,1371.7 1117.5,1375 C1118.3,1378.3 1115.4,1382.9 1112.5,1385 C1109.6,1387.1 1103.1,1388.8 1100,1387.5 C1096.9,1386.2 1094.6,1381.2 1093.8,1377.5 C1093.0,1373.8 1092.7,1367.1 1095,1365Z" fill="#ccffff" stroke="#000" stroke-width="2.2" stroke-linejoin="round"/>
<path d="M1055,1491.2 L1065,1485 L1055,1502.5 L1050,1520 L1052.5,1532.5 L1047.5,1547.5 L1032.5,1545 L1027.5,1537.5 L1035,1520 L1040,1500Z" fill="#ccffff" stroke="#000" stroke-width="2.2" stroke-linejoin="round"/>
<path d="M1352.5,1232.5 C1352.5,1229.2 1354.2,1213.8 1355,1210 C1355.8,1206.2 1358.2,1197.0 1360,1195 C1361.8,1193.0 1369.8,1190.8 1372.5,1190 C1375.2,1189.2 1385.2,1188.4 1387.5,1187.5 C1389.8,1186.6 1393.4,1181.8 1395,1181.2 C1396.6,1180.6 1403.0,1180.3 1403.8,1181.2 C1404.5,1182.1 1404.1,1188.5 1402.5,1190 C1400.9,1191.5 1389.5,1194.7 1387.5,1196.2 C1385.5,1197.7 1382.5,1203.4 1382.5,1205 C1382.5,1206.6 1386.2,1211.2 1387.5,1212.5 C1388.8,1213.8 1394.2,1215.8 1395,1217.5 C1395.8,1219.2 1396.5,1228.0 1395,1230 C1393.5,1232.0 1382.5,1235.8 1380,1237.5 C1377.5,1239.2 1372.0,1246.5 1370,1247.5 C1368.0,1248.5 1361.5,1248.0 1360,1247.5 C1358.5,1247.0 1355.8,1244.0 1355,1242.5 C1354.2,1241.0 1352.5,1235.8 1352.5,1232.5Z" fill="#ccffff" stroke="#000" stroke-width="2.2" stroke-linejoin="round"/>
<path d="M1350,1300 C1350.8,1297.9 1356.2,1295.0 1360,1295 C1363.8,1295.0 1370.0,1297.9 1372.5,1300 C1375.0,1302.1 1376.2,1305.6 1375,1307.5 C1373.8,1309.4 1368.3,1311.2 1365,1311.2 C1361.7,1311.2 1357.5,1309.4 1355,1307.5 C1352.5,1305.6 1349.2,1302.1 1350,1300Z" fill="#ccffff" stroke="#000" stroke-width="2.2" stroke-linejoin="round"/>
<path d="M1360.8,1201.9 C1358.3,1200.9 1364.6,1193.6 1366.7,1192.2 C1368.8,1190.8 1379.5,1189.1 1382.2,1188.3 C1384.9,1187.5 1391.8,1185.4 1393.9,1184.4 C1396.0,1183.4 1402.4,1178.8 1403.6,1178.6 C1404.8,1178.4 1405.8,1181.1 1405.6,1182.5 C1405.4,1183.9 1403.1,1190.3 1401.7,1192.2 C1400.3,1194.1 1396.0,1200.9 1391.9,1201.9 C1387.8,1202.9 1363.3,1202.9 1360.8,1201.9Z" fill="#ccffff" stroke="#000" stroke-width="2.2" stroke-linejoin="round"/>
<path d="M1550,1535 L1562.5,1525 L1580,1525 L1605,1532.5 L1605,1580 L1587.5,1572.5 L1575,1560 L1562.5,1547.5Z" fill="#ccffff" stroke="#000" stroke-width="2.2" stroke-linejoin="round"/>
<path d="M1502.5,1566.2 C1501.5,1564.7 1506.2,1556.9 1507.5,1555 C1508.8,1553.1 1512.2,1549.0 1515,1547.5 C1517.8,1546.0 1532.2,1540.5 1535,1540 C1537.8,1539.5 1542.2,1540.9 1542.5,1542.5 C1542.8,1544.1 1538.8,1553.7 1537.5,1556.2 C1536.2,1558.7 1532.0,1566.1 1530,1567.5 C1528.0,1568.9 1520.2,1570.1 1517.5,1570 C1514.8,1569.9 1503.5,1567.7 1502.5,1566.2Z" fill="#ccffff" stroke="#000" stroke-width="2.2" stroke-linejoin="round"/>
<path d="M1530,1417.5 L1537.5,1413.8 L1543.8,1417.5 L1541.2,1427.5 L1533.8,1427.5Z" fill="#ccffff" stroke="#000" stroke-width="2.2" stroke-linejoin="round"/>
<path d="M1250,1530 L1257.5,1520 L1265,1522.5 L1275,1532.5 L1277.5,1545 L1270,1542.5 L1260,1540Z" fill="#ccffff" stroke="#000" stroke-width="2.2" stroke-linejoin="round"/>
<path d="M1146.7,1246.7 C1146.9,1244.4 1147.3,1238.4 1148.3,1236.7 C1149.3,1235.0 1154.5,1231.0 1156.7,1230 C1158.9,1229.0 1167.2,1227.0 1170,1226.7 C1172.8,1226.4 1182.2,1226.4 1185,1226.7 C1187.8,1227.0 1196.0,1228.8 1198.3,1230 C1200.6,1231.2 1206.5,1236.3 1208.3,1238.3 C1210.1,1240.3 1214.9,1248.0 1216.7,1250 C1218.5,1252.0 1224.5,1256.8 1226.7,1258.3 C1228.9,1259.8 1236.3,1263.5 1238.3,1265 C1240.3,1266.5 1245.4,1271.0 1246.7,1273.3 C1248.0,1275.6 1250.0,1286.5 1251.7,1288.3 C1253.4,1290.0 1260.8,1290.5 1263.3,1290.8 C1265.8,1291.1 1275.0,1290.8 1276.7,1291.7 C1278.4,1292.6 1279.5,1298.5 1280,1300 C1280.5,1301.5 1280.4,1306.1 1281.7,1306.7 C1283.0,1307.3 1291.0,1306.0 1293.3,1305.8 C1295.6,1305.5 1303.4,1305.1 1305,1304.2 C1306.6,1303.3 1309.4,1297.8 1309.2,1296.7 C1309.0,1295.6 1304.5,1294.1 1303.3,1293.3 C1302.0,1292.5 1297.6,1289.8 1296.7,1288.3 C1295.8,1286.8 1294.2,1280.8 1294.2,1278.3 C1294.2,1275.8 1296.3,1266.5 1296.7,1263.3 C1297.1,1260.1 1298.0,1249.5 1298.3,1246.7 C1298.6,1243.9 1299.3,1237.0 1300,1235 C1300.7,1233.0 1303.7,1228.4 1305,1226.7 C1306.3,1225.0 1312.0,1219.6 1313.3,1218.3 C1314.6,1217.0 1318.1,1214.6 1318.3,1213.3 C1318.5,1212.0 1315.0,1206.3 1315,1205 C1315.0,1203.7 1317.4,1200.5 1318.3,1200 C1319.2,1199.5 1323.5,1199.3 1324.2,1200 C1324.9,1200.7 1325.2,1205.4 1325,1206.7 C1324.8,1208.0 1321.7,1211.3 1321.7,1213.3 C1321.7,1215.3 1324.3,1223.7 1325,1226.7 C1325.7,1229.7 1327.6,1240.3 1328.3,1243.3 C1329.0,1246.3 1330.5,1254.2 1331.7,1256.7 C1332.9,1259.2 1338.3,1266.0 1340,1268.3 C1341.7,1270.6 1348.1,1278.5 1348.3,1280 C1348.5,1281.5 1342.5,1282.0 1341.7,1283.3 C1340.9,1284.6 1339.5,1291.0 1340,1293.3 C1340.5,1295.6 1345.2,1304.0 1346.7,1306.7 C1348.2,1309.4 1353.8,1317.7 1355,1320 C1356.2,1322.3 1358.1,1328.2 1358.3,1330 C1358.5,1331.8 1357.7,1336.6 1356.7,1338.3 C1355.7,1340.0 1350.3,1345.5 1348.3,1346.7 C1346.3,1347.9 1339.2,1349.5 1336.7,1350 C1334.2,1350.5 1326.1,1351.2 1323.3,1351.7 C1320.5,1352.2 1310.5,1353.7 1308.3,1355 C1306.1,1356.3 1303.0,1363.2 1301.7,1365 C1300.4,1366.8 1296.7,1371.8 1295,1373.3 C1293.3,1374.8 1287.0,1379.0 1285,1380 C1283.0,1381.0 1276.5,1381.8 1275,1383.3 C1273.5,1384.8 1270.8,1393.0 1270,1395 C1269.2,1397.0 1267.9,1402.0 1266.7,1403.3 C1265.5,1404.6 1260.3,1407.7 1258.3,1408.3 C1256.3,1408.9 1248.9,1409.5 1246.7,1409.2 C1244.5,1408.9 1238.5,1406.2 1236.7,1405 C1234.9,1403.8 1229.6,1398.5 1228.3,1396.7 C1227.0,1394.9 1224.3,1388.7 1223.3,1386.7 C1222.3,1384.7 1219.2,1378.7 1218.3,1376.7 C1217.4,1374.7 1214.4,1368.4 1214.2,1366.7 C1214.0,1365.0 1215.8,1361.5 1216.7,1360 C1217.6,1358.5 1222.0,1353.0 1223.3,1351.7 C1224.6,1350.4 1228.0,1347.0 1230,1346.7 C1232.0,1346.4 1241.0,1348.3 1243.3,1348.3 C1245.6,1348.3 1252.0,1347.7 1253.3,1346.7 C1254.6,1345.7 1256.5,1340.6 1256.7,1338.3 C1257.0,1336.0 1256.2,1326.1 1255.8,1323.3 C1255.4,1320.5 1253.4,1312.2 1252.5,1310 C1251.6,1307.8 1248.1,1301.5 1246.7,1300.8 C1245.3,1300.0 1240.0,1302.1 1238.3,1302.5 C1236.6,1302.9 1232.0,1304.1 1230,1305 C1228.0,1305.9 1220.5,1310.9 1218.3,1311.7 C1216.1,1312.5 1209.8,1313.5 1208.3,1313.3 C1206.8,1313.1 1204.8,1311.3 1203.3,1310 C1201.8,1308.7 1195.6,1302.0 1193.3,1300 C1191.0,1298.0 1182.7,1291.3 1180,1290 C1177.3,1288.7 1169.0,1287.4 1166.7,1286.7 C1164.4,1286.0 1158.4,1284.6 1156.7,1283.3 C1155.0,1282.0 1151.0,1275.6 1150,1273.3 C1149.0,1271.0 1147.0,1262.7 1146.7,1260 C1146.4,1257.3 1146.5,1249.0 1146.7,1246.7Z" fill="#55aaff" stroke="#000" stroke-width="2.6" stroke-linejoin="round"/>
<path d="M1185,1258.3 C1185.2,1256.6 1187.5,1253.3 1188.3,1253.3 C1189.1,1253.3 1192.1,1257.3 1193.3,1258.3 C1194.5,1259.3 1198.3,1262.1 1200,1263.3 C1201.7,1264.5 1208.0,1268.7 1210,1270 C1212.0,1271.3 1218.2,1275.5 1220,1276.7 C1221.8,1277.9 1227.1,1280.5 1228.3,1281.7 C1229.5,1282.9 1232.0,1287.1 1231.7,1288.3 C1231.4,1289.5 1226.8,1292.3 1225,1293.3 C1223.2,1294.3 1215.5,1298.0 1213.3,1298.3 C1211.1,1298.6 1205.1,1297.5 1203.3,1296.7 C1201.5,1295.9 1196.5,1291.5 1195,1290 C1193.5,1288.5 1189.2,1283.7 1188.3,1281.7 C1187.4,1279.7 1186.1,1272.3 1185.8,1270 C1185.5,1267.7 1184.8,1260.0 1185,1258.3Z" fill="#0080ff" stroke="#000" stroke-width="2.2" stroke-linejoin="round"/>
<path d="M1299.2,1321.7 C1299.2,1320.0 1305.0,1314.8 1306.7,1313.3 C1308.5,1311.8 1314.9,1307.7 1316.7,1306.7 C1318.5,1305.7 1323.0,1303.1 1325,1303.3 C1327.0,1303.5 1334.7,1306.8 1336.7,1308.3 C1338.7,1309.8 1344.0,1316.3 1345,1318.3 C1346.0,1320.3 1347.0,1326.5 1346.7,1328.3 C1346.4,1330.1 1343.4,1335.5 1341.7,1336.7 C1340.0,1337.9 1332.5,1340.0 1330,1340 C1327.5,1340.0 1319.0,1337.7 1316.7,1336.7 C1314.4,1335.7 1308.5,1331.5 1306.7,1330 C1305.0,1328.5 1299.2,1323.4 1299.2,1321.7Z" fill="#0080ff" stroke="#000" stroke-width="2.2" stroke-linejoin="round"/>
<path d="M1308.3,1280 L1315.8,1270 L1325,1280 L1321.7,1290 L1315.8,1292.5Z" fill="#0080ff" stroke="#000" stroke-width="2.2" stroke-linejoin="round"/>
<path d="M1253.3,1236.7 L1260,1229.2 L1267.5,1237.5 L1260.8,1246.7Z" fill="#55aaff" stroke="#000" stroke-width="2.2" stroke-linejoin="round"/>
<path d="M1278.2,1114.4 C1278.4,1112.3 1281.4,1106.0 1283.1,1104.7 C1284.8,1103.4 1292.4,1101.8 1294.7,1101.8 C1297.0,1101.8 1304.3,1103.4 1306.4,1104.7 C1308.5,1106.0 1314.5,1112.1 1316.1,1114.4 C1317.6,1116.7 1319.8,1126.8 1321.9,1128 C1324.0,1129.2 1334.0,1126.7 1337.5,1126.1 C1341.0,1125.5 1353.2,1123.0 1356.9,1122.2 C1360.6,1121.4 1371.5,1119.3 1374.4,1118.3 C1377.3,1117.3 1384.7,1112.1 1386.1,1112.5 C1387.5,1112.9 1387.3,1119.9 1388.1,1122.2 C1388.9,1124.5 1392.4,1133.3 1393.9,1135.8 C1395.5,1138.3 1401.5,1145.8 1403.6,1147.5 C1405.7,1149.2 1413.7,1152.1 1415.3,1153.3 C1416.9,1154.5 1419.2,1157.6 1419.2,1159.2 C1419.2,1160.8 1416.3,1167.5 1415.3,1168.9 C1414.3,1170.3 1411.4,1172.2 1409.4,1172.8 C1407.5,1173.4 1399.1,1174.7 1395.8,1174.7 C1392.5,1174.7 1380.1,1172.8 1376.4,1172.8 C1372.7,1172.8 1361.4,1173.9 1358.9,1174.7 C1356.4,1175.5 1352.3,1178.8 1351.1,1180.5 C1349.9,1182.2 1348.8,1191.2 1347.2,1192.2 C1345.7,1193.2 1337.5,1191.1 1335.6,1190.3 C1333.7,1189.5 1329.0,1185.6 1327.8,1184.4 C1326.6,1183.2 1324.9,1178.4 1323.9,1178.6 C1322.9,1178.8 1319.8,1185.4 1318.1,1186.4 C1316.3,1187.4 1308.9,1187.9 1306.4,1188.3 C1303.9,1188.7 1295.1,1189.3 1292.8,1190.3 C1290.5,1191.3 1285.0,1196.8 1283.1,1198 C1281.1,1199.2 1275.4,1201.5 1273.3,1201.9 C1271.2,1202.3 1263.2,1202.7 1261.7,1201.9 C1260.2,1201.1 1258.1,1196.0 1257.8,1194.2 C1257.5,1192.5 1257.7,1186.2 1258.7,1184.4 C1259.7,1182.7 1265.7,1178.6 1267.5,1176.7 C1269.3,1174.8 1275.5,1167.7 1277.2,1165 C1279.0,1162.3 1284.0,1152.3 1285,1149.4 C1286.0,1146.5 1287.3,1138.1 1286.9,1135.8 C1286.5,1133.5 1282.0,1128.2 1281.1,1126.1 C1280.2,1124.0 1278.0,1116.5 1278.2,1114.4Z" fill="#55aaff" stroke="#000" stroke-width="2.6" stroke-linejoin="round"/>
<path d="M1308.3,1147.5 L1314.2,1141.7 L1319,1146.5 L1314.2,1154.3Z" fill="#ffffff" stroke="#000" stroke-width="2.2" stroke-linejoin="round"/>
<path d="M1335.6,1073.6 C1335.6,1070.0 1336.9,1066.7 1338.5,1063.9 C1340.1,1061.2 1342.2,1058.4 1345.3,1057.1 C1348.4,1055.8 1353.3,1055.3 1356.9,1056.1 C1360.5,1056.9 1364.3,1059.3 1366.7,1061.9 C1369.1,1064.5 1370.7,1068.1 1371.5,1071.7 C1372.3,1075.3 1372.6,1079.8 1371.5,1083.3 C1370.4,1086.8 1367.5,1090.4 1364.7,1093 C1362.0,1095.6 1358.2,1098.6 1355,1098.9 C1351.8,1099.2 1348.0,1097.3 1345.3,1095 C1342.5,1092.7 1340.1,1088.9 1338.5,1085.3 C1336.9,1081.7 1335.6,1077.2 1335.6,1073.6Z" fill="#55aaff" stroke="#000" stroke-width="2.2" stroke-linejoin="round"/>
<path d="M1148.8,1005 C1149.2,1001.5 1151.9,997.9 1155,996.2 C1158.1,994.5 1164.4,993.1 1167.5,995 C1170.6,996.9 1171.7,1003.3 1173.8,1007.5 C1175.9,1011.7 1178.1,1016.2 1180,1020 C1181.9,1023.8 1185.0,1027.1 1185,1030 C1185.0,1032.9 1182.5,1036.2 1180,1037.5 C1177.5,1038.8 1173.3,1039.2 1170,1037.5 C1166.7,1035.8 1162.9,1030.8 1160,1027.5 C1157.1,1024.2 1154.4,1021.2 1152.5,1017.5 C1150.6,1013.8 1148.4,1008.5 1148.8,1005Z" fill="#55aaff" stroke="#000" stroke-width="2.2" stroke-linejoin="round"/>
<path d="M1030,1088.8 L1040,1088.8 L1040,1103.8 L1030,1103.8Z" fill="#55aaff" stroke="#000" stroke-width="1.5" stroke-linejoin="round"/>
<path d="M1387.5,1270 C1387.8,1268.2 1395.8,1251.8 1397.5,1250 C1399.2,1248.2 1410.3,1242.3 1412.5,1242.5 C1414.7,1242.7 1428.6,1251.0 1430,1252.5 C1431.4,1254.0 1433.8,1262.8 1433.8,1265 C1433.8,1267.2 1431.1,1283.0 1430,1285 C1428.9,1287.0 1419.5,1295.0 1417.5,1295 C1415.5,1295.0 1401.7,1286.2 1400,1285 C1398.3,1283.8 1393.3,1278.5 1392.5,1277.5 C1391.7,1276.5 1387.2,1271.8 1387.5,1270Z" fill="#55aaff" stroke="#000" stroke-width="2.2" stroke-linejoin="round"/>
<path d="M1430,1203.8 L1440,1201.2 L1463.8,1203.8 L1465,1217.5 L1457.5,1218.8 L1450,1211.2 L1440,1211.2 L1431.2,1215Z" fill="#55aaff" stroke="#000" stroke-width="2.2" stroke-linejoin="round"/>
<path d="M1442.5,1245 L1450,1230 L1457.5,1235 L1451.2,1250Z" fill="#55aaff" stroke="#000" stroke-width="2.2" stroke-linejoin="round"/>
<path d="M1610,1465 C1605.8,1465.0 1590.6,1463.8 1585,1465 C1579.4,1466.2 1577.9,1469.2 1576.2,1472.5 C1574.5,1475.8 1574.4,1480.4 1575,1485 C1575.6,1489.6 1577.5,1496.2 1580,1500 C1582.5,1503.8 1585.0,1505.6 1590,1507.5 C1595.0,1509.4 1606.7,1510.6 1610,1511.2Z" fill="#55aaff" stroke="#000" stroke-width="2.2" stroke-linejoin="round"/>
<path d="M1495,1453.8 L1502.5,1455 L1507.5,1460 L1505,1466.2 L1497.5,1462.5Z" fill="#55aaff" stroke="#000" stroke-width="2.2" stroke-linejoin="round"/>
<path d="M966.2,1290 C966.7,1287.8 972.9,1282.9 975,1282.5 C977.1,1282.1 985.4,1284.5 987.5,1286.2 C989.6,1288.0 995.5,1297.1 996.2,1300 C997.0,1302.9 995.6,1312.6 995,1315 C994.4,1317.4 991.8,1323.5 990,1323.8 C988.2,1324.0 979.5,1319.4 977.5,1317.5 C975.5,1315.6 971.1,1307.8 970,1305 C968.9,1302.2 965.7,1292.2 966.2,1290Z" fill="#55aaff" stroke="#000" stroke-width="2.2" stroke-linejoin="round"/>
<path d="M1023.8,1342.5 C1024.0,1340.6 1030.8,1336.6 1032.5,1336.2 C1034.2,1335.8 1040.1,1337.7 1041.2,1338.8 C1042.3,1339.9 1044.0,1345.9 1043.8,1347.5 C1043.6,1349.1 1040.2,1354.2 1038.8,1355 C1037.4,1355.8 1031.5,1356.2 1030,1355 C1028.5,1353.8 1023.5,1344.4 1023.8,1342.5Z" fill="#55aaff" stroke="#000" stroke-width="2.2" stroke-linejoin="round"/>
<path d="M1051.2,1375 C1051.3,1372.9 1054.8,1370.0 1056.2,1370 C1057.6,1370.0 1063.9,1373.5 1065,1375 C1066.1,1376.5 1067.8,1383.4 1067.5,1385 C1067.2,1386.6 1063.8,1390.6 1062.5,1391.2 C1061.2,1391.8 1056.1,1392.8 1055,1391.2 C1053.9,1389.6 1051.1,1377.1 1051.2,1375Z" fill="#55aaff" stroke="#000" stroke-width="2.2" stroke-linejoin="round"/>
<path d="M1078.8,1432.5 C1079.2,1430.0 1084.1,1422.8 1086.2,1422.5 C1088.3,1422.2 1097.4,1428.5 1100,1430 C1102.6,1431.5 1111.5,1435.8 1112.5,1437.5 C1113.5,1439.2 1111.5,1446.1 1110,1447.5 C1108.5,1448.9 1100.2,1451.2 1097.5,1451.2 C1094.8,1451.2 1084.4,1449.4 1082.5,1447.5 C1080.6,1445.6 1078.4,1435.0 1078.8,1432.5Z" fill="#55aaff" stroke="#000" stroke-width="2.2" stroke-linejoin="round"/>
<path d="M1070,1332.5 L1078.8,1332.5 L1080,1340 L1075,1342.5Z" fill="#55aaff" stroke="#000" stroke-width="2.2" stroke-linejoin="round"/>
<path d="M986.2,1487.5 L997.5,1488.8 L996.2,1493.8 L987.5,1492.5Z" fill="#55aaff" stroke="#000" stroke-width="2.2" stroke-linejoin="round"/>
<path d="M1287.5,1472.5 L1292.5,1463.8 L1305,1457.5 L1315,1462.5 L1330,1475 L1342.5,1492.5 L1330,1491.2 L1327.5,1507.5 L1320,1498.8 L1310,1487.5 L1297.5,1492.5 L1290,1485Z" fill="#55aaff" stroke="#000" stroke-width="1.5" stroke-linejoin="round"/>
<path d="M795,1135 C795.0,1133.2 798.8,1127.2 800,1125 C801.2,1122.8 805.5,1114.5 807.5,1112.5 C809.5,1110.5 818.2,1106.8 820,1105 C821.8,1103.2 823.8,1096.2 825,1095 C826.2,1093.8 831.0,1091.2 832.5,1092.5 C834.0,1093.8 839.0,1104.2 840,1107.5 C841.0,1110.8 842.8,1122.0 842.5,1125 C842.2,1128.0 838.5,1135.2 837.5,1137.5 C836.5,1139.8 833.2,1144.8 832.5,1147.5 C831.8,1150.2 831.0,1162.5 830,1165 C829.0,1167.5 824.0,1171.0 822.5,1172.5 C821.0,1174.0 816.2,1179.5 815,1180 C813.8,1180.5 810.2,1179.0 810,1177.5 C809.8,1176.0 812.8,1167.5 812.5,1165 C812.2,1162.5 808.8,1154.8 807.5,1152.5 C806.2,1150.2 801.2,1144.2 800,1142.5 C798.8,1140.8 795.0,1136.8 795,1135Z" fill="#ffffff" stroke="#000" stroke-width="2.2" stroke-linejoin="round"/>
<path d="M855,1095 C856.0,1093.0 863.0,1090.8 865,1090 C867.0,1089.2 873.8,1086.2 875,1087.5 C876.2,1088.8 876.2,1099.5 877.5,1102.5 C878.8,1105.5 885.2,1115.2 887.5,1117.5 C889.8,1119.8 898.5,1122.8 900,1125 C901.5,1127.2 903.2,1137.2 902.5,1140 C901.8,1142.8 895.2,1150.8 892.5,1152.5 C889.8,1154.2 878.2,1157.2 875,1157.5 C871.8,1157.8 861.2,1156.8 860,1155 C858.8,1153.2 862.5,1143.0 862.5,1140 C862.5,1137.0 860.8,1128.0 860,1125 C859.2,1122.0 855.5,1113.0 855,1110 C854.5,1107.0 854.0,1097.0 855,1095Z" fill="#ffffff" stroke="#000" stroke-width="2.2" stroke-linejoin="round"/>
<path d="M868.8,1135 C869.6,1131.5 871.9,1126.2 873.8,1126.2 C875.7,1126.2 879.0,1131.5 880,1135 C881.0,1138.5 881.0,1144.6 880,1147.5 C879.0,1150.4 875.7,1152.5 873.8,1152.5 C871.9,1152.5 869.6,1150.4 868.8,1147.5 C868.0,1144.6 868.0,1138.5 868.8,1135Z" fill="#ffd9d9" stroke="#000" stroke-width="2.2" stroke-linejoin="round"/>
<path d="M938.8,1062.5 C939.3,1059.9 947.1,1058.0 950,1057.5 C952.9,1057.0 965.0,1056.5 967.5,1057.5 C970.0,1058.5 974.5,1065.2 975,1067.5 C975.5,1069.8 974.0,1078.0 972.5,1080 C971.0,1082.0 962.8,1087.1 960,1087.5 C957.2,1087.9 947.1,1086.3 945,1083.8 C942.9,1081.3 938.3,1065.1 938.8,1062.5Z" fill="#ffffff" stroke="#000" stroke-width="2.2" stroke-linejoin="round"/>
<path d="M972.5,1100 L978.8,1095 L982.5,1101.2 L977.5,1107.5Z" fill="#ffffff" stroke="#000" stroke-width="2.2" stroke-linejoin="round"/>
<path d="M785,1150 C787.5,1150.8 796.2,1159.5 797.5,1162.5 C798.8,1165.5 798.2,1177.0 797.5,1180 C796.8,1183.0 791.0,1190.0 790,1192.5 C789.0,1195.0 789.0,1204.2 787.5,1205 C786.0,1205.8 777.2,1203.0 775,1200 C772.8,1197.0 765.2,1179.5 765,1175 C764.8,1170.5 770.5,1157.5 772.5,1155 C774.5,1152.5 782.5,1149.2 785,1150Z" fill="#ffffff" stroke="#000" stroke-width="2.2" stroke-linejoin="round"/>
<path d="M556.7,1605.6 C558.4,1603.0 570.2,1583.4 573.3,1579.2 C576.3,1575.0 584.7,1564.0 587.2,1563.9 C589.7,1563.8 595.8,1575.9 598.3,1577.8 C600.8,1579.7 608.9,1583.6 612.2,1583.3 C615.5,1583.0 628.4,1576.2 631.7,1575 C635.0,1573.8 642.6,1570.8 645.6,1570.8 C648.6,1570.8 659.4,1573.5 662.2,1575 C665.0,1576.5 671.5,1583.0 673.3,1586.1 C675.1,1589.2 679.6,1603.6 680.3,1605.6Z" fill="#ccffff" stroke="#000" stroke-width="2.2" stroke-linejoin="round"/>
<path d="M726.1,1605.6 C727.5,1602.8 737.5,1582.2 740,1577.8 C742.5,1573.3 748.9,1563.9 751.1,1561.1 C753.3,1558.3 759.7,1551.7 762.2,1550 C764.7,1548.3 773.6,1544.4 776.1,1544.4 C778.6,1544.4 785.2,1548.3 787.2,1550 C789.2,1551.7 793.9,1559.7 795.6,1561.1 C797.3,1562.5 802.0,1564.7 803.9,1563.9 C805.8,1563.1 812.5,1554.8 815,1552.8 C817.5,1550.8 826.4,1545.5 828.9,1544.4 C831.4,1543.3 837.0,1543.9 840,1541.7 C843.0,1539.5 856.9,1522.8 859.4,1522.2 C861.9,1521.6 866.9,1533.6 865,1536.1 C863.1,1538.6 842.2,1544.4 840,1547.2 C837.8,1550.0 840.9,1560.6 842.8,1563.9 C844.7,1567.2 855.5,1576.4 859.4,1580.6 C863.3,1584.8 879.5,1603.1 881.7,1605.6Z" fill="#ccffff" stroke="#000" stroke-width="2.2" stroke-linejoin="round"/>
<path d="M891.4,1536.1 L901.1,1544.4 L915,1533.3 L915,1544.4 L901.1,1558.3 L894.2,1550Z" fill="#ccffff" stroke="#000" stroke-width="2.2" stroke-linejoin="round"/>
<path d="M717.8,1536.1 C718.7,1538.4 720.5,1546.5 723.3,1550 C726.1,1553.5 731.4,1557.1 734.4,1556.9 C737.4,1556.7 740.9,1551.6 741.4,1548.6 C741.9,1545.6 737.9,1540.5 737.2,1538.9Z" fill="#ccffff" stroke="#000" stroke-width="2.2" stroke-linejoin="round"/>
<path d="M762.5,432.5 C763.5,429.4 768.3,426.4 771.2,426.2 C774.1,426.0 778.1,428.9 780,431.2 C781.9,433.5 783.3,437.3 782.5,440 C781.7,442.7 777.9,446.7 775,447.5 C772.1,448.3 767.1,447.5 765,445 C762.9,442.5 761.5,435.6 762.5,432.5Z" fill="none" stroke="#000" stroke-width="2.2" stroke-linejoin="round"/>
<path d="M441.2,835 C443.1,835.2 448.5,836.6 452.5,836.2 C456.5,835.8 461.7,835.2 465,832.5 C468.3,829.8 469.6,823.8 472.5,820 C475.4,816.2 478.8,812.1 482.5,810 C486.2,807.9 490.8,807.1 495,807.5 C499.2,807.9 503.3,810.0 507.5,812.5 C511.7,815.0 515.4,820.2 520,822.5 C524.6,824.8 530.4,826.4 535,826.2 C539.6,826.0 543.8,824.3 547.5,821.2 C551.2,818.1 554.6,812.3 557.5,807.5 C560.4,802.7 562.3,795.8 565,792.5 C567.7,789.2 572.3,788.3 573.8,787.5" fill="none" stroke="#000" stroke-width="4.2" stroke-linejoin="round" stroke-linecap="round"/>
<path d="M432.5,856.2 C430.8,857.5 424.8,861.1 422.5,863.8 C420.2,866.5 419.2,869.4 418.8,872.5 C418.4,875.6 419.8,880.8 420,882.5" fill="none" stroke="#000" stroke-width="4.2" stroke-linejoin="round" stroke-linecap="round"/>
<path d="M443.8,882.5 C444.6,881.5 446.9,876.2 448.8,876.2 C450.7,876.2 453.8,879.4 455,882.5 C456.2,885.6 455.4,890.8 456.2,895 C457.0,899.2 458.7,903.3 460,907.5 C461.3,911.7 462.8,915.8 463.8,920 C464.8,924.2 465.8,930.4 466.2,932.5" fill="none" stroke="#000" stroke-width="4.2" stroke-linejoin="round" stroke-linecap="round"/>
<path d="M428.8,917.5 C430.2,917.9 434.4,920.4 437.5,920 C440.6,919.6 445.2,917.5 447.5,915 C449.8,912.5 450.6,906.7 451.2,905" fill="none" stroke="#000" stroke-width="4.2" stroke-linejoin="round" stroke-linecap="round"/>
<path d="M570,920 C571.7,919.4 575.0,916.8 580,916.2 C585.0,915.6 596.7,916.2 600,916.2" fill="none" stroke="#000" stroke-width="4.2" stroke-linejoin="round" stroke-linecap="round"/>
<path d="M603.8,817.5 C604.4,818.3 605.6,821.9 607.5,822.5 C609.4,823.1 613.8,821.4 615,821.2" fill="none" stroke="#000" stroke-width="4.2" stroke-linejoin="round" stroke-linecap="round"/>
<path d="M391.2,960 C391.8,959.4 392.3,957.0 395,956.2 C397.7,955.4 405.0,954.4 407.5,955 C410.0,955.6 410.4,958.5 410,960 C409.6,961.5 405.8,963.2 405,963.8" fill="none" stroke="#000" stroke-width="4.2" stroke-linejoin="round" stroke-linecap="round"/>
<path d="M523.8,928.8 C524.8,928.4 527.9,926.2 530,926.2 C532.1,926.2 535.8,927.5 536.2,928.8 C536.6,930.1 534.2,933.2 532.5,933.8 C530.8,934.4 527.7,933.3 526.2,932.5 C524.8,931.7 524.2,929.4 523.8,928.8" fill="none" stroke="#000" stroke-width="4.2" stroke-linejoin="round" stroke-linecap="round"/>
<path d="M792.5,532.5 C792.7,529.8 792.8,515.6 793.8,512.5 C794.8,509.4 798.2,509.5 800,509.5 C801.8,509.5 806.3,509.3 807.5,512.5 C808.7,515.7 808.6,531.0 808.8,533.8" fill="none" stroke="#000" stroke-width="4.2" stroke-linejoin="round" stroke-linecap="round"/>
<path d="M785,281.2 L792.5,287.5 L786.2,297.5 L778.8,290Z" fill="none" stroke="#000" stroke-width="4.2" stroke-linejoin="round" stroke-linecap="round"/>
<path d="M1071.7,645.6 L1075.8,617.8 L1081.4,598.3" fill="none" stroke="#000" stroke-width="4.2" stroke-linejoin="round" stroke-linecap="round"/>
<path d="M842.5,712.5 C844.2,714.8 848.8,725.6 852.5,726.2 C856.2,726.8 860.4,718.5 865,716.2 C869.6,713.9 877.5,713.1 880,712.5" fill="none" stroke="#000" stroke-width="4.2" stroke-linejoin="round" stroke-linecap="round"/>
<path d="M1202.5,722.5 C1202.1,723.8 1202.1,727.1 1200,730 C1197.9,732.9 1193.3,736.7 1190,740 C1186.7,743.3 1181.2,744.2 1180,750 C1178.8,755.8 1180.4,768.3 1182.5,775 C1184.6,781.7 1187.5,785.4 1192.5,790 C1197.5,794.6 1206.7,797.9 1212.5,802.5 C1218.3,807.1 1222.5,812.1 1227.5,817.5 C1232.5,822.9 1237.9,829.6 1242.5,835 C1247.1,840.4 1250.8,845.0 1255,850 C1259.2,855.0 1262.5,860.8 1267.5,865 C1272.5,869.2 1279.6,872.1 1285,875 C1290.4,877.9 1294.2,880.8 1300,882.5 C1305.8,884.2 1312.9,884.2 1320,885 C1327.1,885.8 1334.6,886.7 1342.5,887.5 C1350.4,888.3 1360.0,888.5 1367.5,890 C1375.0,891.5 1380.4,893.5 1387.5,896.2 C1394.6,898.9 1402.9,905.2 1410,906.2 C1417.1,907.2 1422.5,903.5 1430,902.5 C1437.5,901.5 1448.3,901.0 1455,900 C1461.7,899.0 1465.8,898.3 1470,896.2 C1474.2,894.1 1476.7,891.5 1480,887.5 C1483.3,883.5 1486.2,877.5 1490,872.5 C1493.8,867.5 1498.3,861.7 1502.5,857.5 C1506.7,853.3 1510.4,849.2 1515,847.5 C1519.6,845.8 1525.4,846.2 1530,847.5 C1534.6,848.8 1538.8,851.5 1542.5,855 C1546.2,858.5 1551.7,864.2 1552.5,868.8 C1553.3,873.4 1548.8,877.7 1547.5,882.5 C1546.2,887.3 1544.6,892.9 1545,897.5 C1545.4,902.1 1546.7,907.1 1550,910 C1553.3,912.9 1560.4,913.3 1565,915 C1569.6,916.7 1573.8,917.5 1577.5,920 C1581.2,922.5 1582.1,927.9 1587.5,930 C1592.9,932.1 1606.2,932.1 1610,932.5" fill="none" stroke="#000" stroke-width="4.2" stroke-linejoin="round" stroke-linecap="round"/>
<path d="M780,862.5 C780.8,859.6 782.9,851.2 785,845 C787.1,838.8 789.2,829.6 792.5,825 C795.8,820.4 800.8,819.2 805,817.5 C809.2,815.8 813.8,817.5 817.5,815 C821.2,812.5 824.2,806.7 827.5,802.5 C830.8,798.3 833.8,793.3 837.5,790 C841.2,786.7 847.3,785.0 850,782.5 C852.7,780.0 853.4,777.9 853.8,775 C854.2,772.1 853.1,767.9 852.5,765 C851.9,762.1 850.2,760.0 850,757.5 C849.8,755.0 850.0,752.9 851.2,750 C852.5,747.1 854.8,742.3 857.5,740 C860.2,737.7 864.6,736.6 867.5,736.2 C870.4,735.8 872.1,735.6 875,737.5 C877.9,739.4 881.2,744.2 885,747.5 C888.8,750.8 893.3,755.2 897.5,757.5 C901.7,759.8 905.4,760.6 910,761.2 C914.6,761.8 922.5,761.2 925,761.2" fill="none" stroke="#000" stroke-width="4.2" stroke-linejoin="round" stroke-linecap="round"/>
<path d="M1046.2,752.5 C1046.8,755.0 1048.5,763.3 1050,767.5 C1051.5,771.7 1052.1,775.0 1055,777.5 C1057.9,780.0 1063.3,781.7 1067.5,782.5 C1071.7,783.3 1075.4,784.2 1080,782.5 C1084.6,780.8 1089.6,775.8 1095,772.5 C1100.4,769.2 1106.7,765.4 1112.5,762.5 C1118.3,759.6 1125.0,757.9 1130,755 C1135.0,752.1 1139.4,748.8 1142.5,745 C1145.6,741.2 1147.3,737.1 1148.8,732.5 C1150.2,727.9 1150.8,720.0 1151.2,717.5" fill="none" stroke="#000" stroke-width="4.2" stroke-linejoin="round" stroke-linecap="round"/>
<path d="M597.5,1157.5 C598.1,1154.4 601.2,1148.3 605,1146.2 C608.8,1144.1 615.8,1143.1 620,1145 C624.2,1146.9 629.6,1154.2 630,1157.5 C630.4,1160.8 625.8,1163.1 622.5,1165 C619.2,1166.9 613.5,1168.8 610,1168.8 C606.5,1168.8 603.3,1166.9 601.2,1165 C599.1,1163.1 596.9,1160.6 597.5,1157.5Z" fill="none" stroke="#000" stroke-width="4.2" stroke-linejoin="round" stroke-linecap="round"/>
<path d="M590,1317.5 C591.3,1316.5 595.9,1316.0 597.5,1317 C599.1,1318.0 600.1,1322.3 599.5,1323.8 C598.9,1325.3 595.5,1326.3 593.8,1326.2 C592.1,1326.1 590.1,1324.5 589.5,1323 C588.9,1321.5 588.7,1318.5 590,1317.5Z" fill="none" stroke="#000" stroke-width="4.2" stroke-linejoin="round" stroke-linecap="round"/>
<path d="M666.2,1210 C668.3,1207.5 673.5,1205.4 677.5,1205 C681.5,1204.6 686.7,1205.0 690,1207.5 C693.3,1210.0 696.7,1215.6 697.5,1220 C698.3,1224.4 697.9,1231.1 695,1233.8 C692.1,1236.5 684.4,1235.8 680,1236.2 C675.6,1236.6 671.3,1238.9 668.8,1236.2 C666.3,1233.5 665.4,1224.4 665,1220 C664.6,1215.6 664.1,1212.5 666.2,1210Z" fill="none" stroke="#000" stroke-width="4.2" stroke-linejoin="round" stroke-linecap="round"/>
<path d="M765,1167.5 L780,1157.5 L787.5,1172.5 L783.8,1185 L772.5,1196.2 L767.5,1185Z" fill="none" stroke="#000" stroke-width="4.2" stroke-linejoin="round" stroke-linecap="round"/>
<path d="M342.5,1310 C342.5,1305.4 347.1,1298.1 350,1295 C352.9,1291.9 355.4,1290.6 360,1291.2 C364.6,1291.8 372.5,1295.2 377.5,1298.8 C382.5,1302.3 389.2,1308.1 390,1312.5 C390.8,1316.9 386.2,1322.3 382.5,1325 C378.8,1327.7 372.9,1329.2 367.5,1328.8 C362.1,1328.4 354.2,1325.6 350,1322.5 C345.8,1319.4 342.5,1314.6 342.5,1310Z" fill="none" stroke="#000" stroke-width="4.2" stroke-linejoin="round" stroke-linecap="round"/>
<path d="M457.5,1372.5 C457.5,1368.3 460.0,1366.2 462.5,1365 C465.0,1363.8 469.4,1363.3 472.5,1365 C475.6,1366.7 479.9,1370.8 481.2,1375 C482.4,1379.2 481.9,1386.7 480,1390 C478.1,1393.3 472.9,1395.0 470,1395 C467.1,1395.0 464.6,1393.8 462.5,1390 C460.4,1386.2 457.5,1376.7 457.5,1372.5Z" fill="none" stroke="#000" stroke-width="4.2" stroke-linejoin="round" stroke-linecap="round"/>
<path d="M317.5,1440 C318.3,1437.1 321.9,1434.2 325,1433.8 C328.1,1433.4 333.9,1435.2 336.2,1437.5 C338.5,1439.8 339.8,1444.8 338.8,1447.5 C337.8,1450.2 333.1,1453.2 330,1453.8 C326.9,1454.4 322.1,1453.5 320,1451.2 C317.9,1448.9 316.7,1442.9 317.5,1440Z" fill="none" stroke="#000" stroke-width="4.2" stroke-linejoin="round" stroke-linecap="round"/>
<path d="M441.2,1500 C441.4,1496.5 444.8,1492.9 447.5,1491.2 C450.2,1489.5 454.2,1489.0 457.5,1490 C460.8,1491.0 465.8,1494.4 467.5,1497.5 C469.2,1500.6 469.2,1506.1 467.5,1508.8 C465.8,1511.5 461.1,1513.2 457.5,1513.8 C453.9,1514.4 448.9,1514.8 446.2,1512.5 C443.5,1510.2 441.0,1503.5 441.2,1500Z" fill="none" stroke="#000" stroke-width="4.2" stroke-linejoin="round" stroke-linecap="round"/>
<path d="M287.5,1297.5 C290.0,1297.9 297.9,1297.9 302.5,1300 C307.1,1302.1 311.9,1305.8 315,1310 C318.1,1314.2 321.2,1320.4 321.2,1325 C321.2,1329.6 317.9,1334.2 315,1337.5 C312.1,1340.8 306.5,1341.2 303.8,1345 C301.1,1348.8 299.6,1357.5 298.8,1360" fill="none" stroke="#000" stroke-width="4.2" stroke-linejoin="round" stroke-linecap="round"/>
<path d="M341.2,1523.8 C341.6,1522.1 341.5,1516.1 343.8,1513.8 C346.1,1511.5 351.1,1509.6 355,1510 C358.9,1510.4 364.2,1514.3 367.5,1516.2 C370.8,1518.1 371.9,1520.6 375,1521.2 C378.1,1521.8 383.3,1521.5 386.2,1520 C389.1,1518.5 389.8,1514.0 392.5,1512.5 C395.2,1511.0 399.2,1510.4 402.5,1511.2 C405.8,1512.0 410.0,1514.8 412.5,1517.5 C415.0,1520.2 417.5,1523.3 417.5,1527.5 C417.5,1531.7 414.2,1537.9 412.5,1542.5 C410.8,1547.1 409.6,1550.6 407.5,1555 C405.4,1559.4 401.2,1566.5 400,1568.8" fill="none" stroke="#000" stroke-width="4.2" stroke-linejoin="round" stroke-linecap="round"/>
<path d="M291.2,1521.2 C292.7,1521.4 297.1,1521.5 300,1522.5 C302.9,1523.5 307.3,1526.7 308.8,1527.5" fill="none" stroke="#000" stroke-width="4.2" stroke-linejoin="round" stroke-linecap="round"/>
<path d="M400,1576.2 C399.4,1577.7 396.8,1581.9 396.2,1585 C395.6,1588.1 395.8,1592.1 396.2,1595 C396.6,1597.9 398.4,1601.2 398.8,1602.5" fill="none" stroke="#000" stroke-width="4.2" stroke-linejoin="round" stroke-linecap="round"/>
<path d="M817.5,1125 L826.2,1112.5 L832.5,1125 L827.5,1137.5 L820,1135Z" fill="none" stroke="#000" stroke-width="4.2" stroke-linejoin="round" stroke-linecap="round"/>
<path d="M862.5,1135 C863.5,1129.0 868.3,1119.1 871.2,1116.2 C874.1,1113.3 877.3,1114.4 880,1117.5 C882.7,1120.6 886.7,1129.6 887.5,1135 C888.3,1140.4 887.1,1146.7 885,1150 C882.9,1153.3 878.3,1154.6 875,1155 C871.7,1155.4 867.1,1155.8 865,1152.5 C862.9,1149.2 861.5,1141.0 862.5,1135Z" fill="none" stroke="#000" stroke-width="4.2" stroke-linejoin="round" stroke-linecap="round"/>
<path d="M943.8,1067.5 C944.5,1066.6 951.2,1061.4 952.5,1061.2 C953.8,1061.0 963.3,1062.8 963.8,1063.8 C964.3,1064.8 961.0,1075.1 960,1076.2 C959.0,1077.3 950.0,1080.1 948.8,1080 C947.6,1079.9 942.8,1075.8 942.5,1075 C942.2,1074.2 943.1,1068.4 943.8,1067.5Z" fill="none" stroke="#000" stroke-width="4.2" stroke-linejoin="round" stroke-linecap="round"/>
<path d="M763.8,1170 L780,1155 L787.5,1177.5 L775,1197.5 L770,1192.5Z" fill="none" stroke="#000" stroke-width="4.2" stroke-linejoin="round" stroke-linecap="round"/>
<path d="M852.5,780 C850.4,780.8 843.3,782.1 840,785 C836.7,787.9 835.4,792.9 832.5,797.5 C829.6,802.1 826.2,809.2 822.5,812.5 C818.8,815.8 814.2,815.8 810,817.5 C805.8,819.2 800.6,819.6 797.5,822.5 C794.4,825.4 793.3,830.4 791.2,835 C789.1,839.6 786.9,845.0 785,850 C783.1,855.0 782.5,860.8 780,865 C777.5,869.2 775.0,872.1 770,875 C765.0,877.9 755.8,880.0 750,882.5 C744.2,885.0 739.2,886.9 735,890 C730.8,893.1 727.9,901.2 725,901.2 C722.1,901.2 720.4,892.9 717.5,890 C714.6,887.1 710.4,884.6 707.5,883.8 C704.6,883.0 702.1,883.5 700,885 C697.9,886.5 697.5,889.2 695,892.5 C692.5,895.8 688.1,904.0 685,905 C681.9,906.0 677.7,899.8 676.2,898.8" fill="none" stroke="#000" stroke-width="4.2" stroke-linejoin="round" stroke-linecap="round"/>
<path d="M640,915 C640.4,916.5 640.8,921.7 642.5,923.8 C644.2,925.9 646.2,927.5 650,927.5 C653.8,927.5 659.6,924.8 665,923.8 C670.4,922.8 678.8,919.8 682.5,921.2 C686.2,922.7 686.5,927.7 687.5,932.5 C688.5,937.3 689.6,945.0 688.8,950 C688.0,955.0 685.2,959.6 682.5,962.5 C679.8,965.4 677.1,967.1 672.5,967.5 C667.9,967.9 660.8,966.2 655,965 C649.2,963.8 643.5,961.9 637.5,960 C631.5,958.1 621.9,954.8 618.8,953.8" fill="none" stroke="#000" stroke-width="4.2" stroke-linejoin="round" stroke-linecap="round"/>
<path d="M786.2,875 C786.8,874.7 793.7,876.6 795,877.5 C796.3,878.4 806.1,888.6 807.5,890 C808.9,891.4 816.6,898.2 817.5,900 C818.4,901.8 822.3,917.9 822.5,920 C822.7,922.1 821.7,934.0 821.2,935 C820.8,936.0 815.7,938.2 815,937.5 C814.3,936.8 810.6,924.3 810,922.5 C809.4,920.7 806.2,909.1 805,907.5 C803.8,905.9 791.2,896.5 790,895 C788.8,893.5 785.2,883.7 785,882.5 C784.8,881.3 785.6,875.3 786.2,875Z" fill="none" stroke="#000" stroke-width="4.2" stroke-linejoin="round" stroke-linecap="round"/>
<path d="M746.2,942.5 C746.2,941.3 753.3,937.8 755,937.5 C756.7,937.2 772.8,937.4 775,937.5 C777.2,937.6 791.3,939.2 792.5,940 C793.7,940.8 795.2,948.2 795,950 C794.8,951.8 789.4,968.0 788.8,970 C788.2,972.0 785.1,982.9 784.5,983.8 C783.9,984.7 779.4,985.7 778.8,985 C778.2,984.3 775.8,973.5 775,972.5 C774.2,971.5 766.2,968.4 765,967.5 C763.8,966.6 756.1,959.0 755,957.5 C753.9,956.0 746.2,943.7 746.2,942.5Z" fill="none" stroke="#000" stroke-width="4.2" stroke-linejoin="round" stroke-linecap="round"/>
<path d="M785,875 C785.5,873.2 790.8,871.5 792.5,872.5 C794.2,873.5 800.2,882.8 802.5,885 C804.8,887.2 813.1,892.5 815,895 C816.9,897.5 820.5,906.8 821.2,910 C822.0,913.2 822.9,925.0 822.5,927.5 C822.1,930.0 818.8,934.5 817.5,935 C816.2,935.5 811.1,934.5 810,932.5 C808.9,930.5 807.5,918.0 806.2,915 C805.0,912.0 799.4,905.0 797.5,902.5 C795.6,900.0 788.8,892.8 787.5,890 C786.2,887.2 784.5,876.8 785,875Z" fill="none" stroke="#000" stroke-width="4.2" stroke-linejoin="round" stroke-linecap="round"/>
<path d="M420,1039.5 C422.1,1040.0 427.5,1041.2 432.5,1042.5 C437.5,1043.8 446.2,1045.4 450,1047.5 C453.8,1049.6 454.6,1051.2 455,1055 C455.4,1058.8 452.9,1067.5 452.5,1070" fill="none" stroke="#000" stroke-width="4.2" stroke-linejoin="round" stroke-linecap="round"/>
<path d="M520,1002.5 C520.6,1004.2 522.9,1009.0 523.8,1012.5 C524.7,1016.0 525.2,1021.9 525.5,1023.8" fill="none" stroke="#000" stroke-width="4.2" stroke-linejoin="round" stroke-linecap="round"/>
<path d="M640,913.8 C640.4,914.8 640.8,917.9 642.5,920 C644.2,922.1 645.4,925.6 650,926.2 C654.6,926.8 666.7,924.2 670,923.8" fill="none" stroke="#000" stroke-width="4.2" stroke-linejoin="round" stroke-linecap="round"/>
<path d="M618.8,953.8 C621.1,954.6 627.3,957.6 632.5,958.8 C637.7,960.0 643.8,959.5 650,961.2 C656.2,962.9 666.7,967.5 670,968.8" fill="none" stroke="#000" stroke-width="4.2" stroke-linejoin="round" stroke-linecap="round"/>
<path d="M665,1230 C665.4,1227.5 665.8,1218.8 667.5,1215 C669.2,1211.2 672.1,1208.8 675,1207.5 C677.9,1206.2 681.7,1205.8 685,1207.5 C688.3,1209.2 692.7,1213.3 695,1217.5 C697.3,1221.7 698.2,1230.0 698.8,1232.5" fill="none" stroke="#000" stroke-width="4.2" stroke-linejoin="round" stroke-linecap="round"/>
</g>
<path d="M985,452.5 L1000,450 L1012.5,455 L1013.8,470 L1007.5,485 L995,492.5 L987.5,500 L975,502.5 L965,510 L960,510 L965,495 L962.5,482.5 L972.5,472.5 L985,470Z" fill="#fff" stroke="#000" stroke-width="1"/>
<path d="M741.7,412.2 L748.6,403.9 L758.3,398.3 L769.4,384.4 L765.3,403.9 L756.9,426.1 L745.8,435.8Z" fill="#fff" stroke="#000" stroke-width="1"/>
<path d="M748.6,471.9 L763.9,456.7 L769.4,463.6 L758.3,478.9 L751.4,481.7Z" fill="#fff" stroke="#000" stroke-width="1"/>
<path d="M791.7,216.4 L805.6,212.2 L811.1,223.3 L800,234.4 L791.7,231.7Z" fill="#fff" stroke="#000" stroke-width="1"/>
<path d="M769.4,242.8 L780.6,240 L783.3,248.3 L772.2,252.5Z" fill="#fff" stroke="#000" stroke-width="1"/>
<path d="M1077.8,444.2 L1094.4,437.2 L1116.7,441.4 L1133.3,449.7 L1122.2,453.9 L1100,448.3 L1088.9,446.9Z" fill="#fff" stroke="#000" stroke-width="1"/>
<path d="M1133.3,449.7 L1144.4,446.9 L1155.6,452.5 L1144.4,455.3Z" fill="#fff" stroke="#000" stroke-width="1"/>
<path d="M729.2,270.6 L744.4,273.3 L755.6,262.2 L763.9,269.2 L750,281.7 L733.3,281.7Z" fill="#fff" stroke="#000" stroke-width="1"/>
<path d="M726.4,290 L747.2,287.2 L769.4,290 L783.3,284.4 L783.3,291.4 L766.7,296.9 L744.4,295.6 L727.8,298.3Z" fill="#fff" stroke="#000" stroke-width="1"/>
<path d="M727.8,334.4 L755.6,340 L783.3,337.2 L805.6,328.9 L806.9,335.8 L783.3,345 L755.6,346.9 L727.8,342.2Z" fill="#fff" stroke="#000" stroke-width="1"/>
<path d="M816.7,206.7 L838.9,203.9 L850,215 L833.3,217.8 L825,231.7 L816.7,226.1Z" fill="#fff" stroke="#000" stroke-width="1"/>
<path d="M763.9,223.3 L783.3,220.6 L788.9,228.9 L772.2,234.4Z" fill="#fff" stroke="#000" stroke-width="1"/>
<path d="M741.7,249.7 L761.1,246.9 L765.3,255.3 L747.2,259.4Z" fill="#fff" stroke="#000" stroke-width="1"/>
<path d="M1535,310 L1542.5,297.5 L1550,300 L1560,310 L1575,322.5 L1595,340 L1600,350 L1602.5,375 L1600,397.5 L1590,400 L1575,397.5 L1565,407.5 L1560,416.2 L1552.5,415 L1550,400 L1542.5,380 L1535,362.5 L1530,350 L1520,335 L1512.5,332.5 L1515,327.5 L1522.5,322.5 L1525,313.8Z" fill="#fff" stroke="#000" stroke-width="1"/>
<g fill="none" stroke="#000" stroke-width="1.1" stroke-linejoin="round">
<path d="M411.1,497.8 L422.2,497.8 L426.7,504.4 L441.1,504.4 L444.4,501.8 L455.6,496.7 L475.6,494.4 L474.4,506.7 L464.4,520 L457.8,526.7 L448.9,533.3 L444.4,542.2 L451.1,544.4 L442.2,555.6 L433.3,558.9 L444.4,560 L462.2,551.1 L477.8,552.2 L506.7,552.2 L514.4,560 L511.1,573.3 L504.4,588.9 L500,600 L491.1,613.3 L482.2,622.2 L470,628.9 L482.2,626.7 L488.9,633.3 L477.8,640 L466.7,647.8 L454.4,647.8 L466.7,651.1 L486.7,646.7 L500,653.3 L511.1,668.9 L520,677.8 L522.2,697.8 L527.8,715.6 L540,728.9 L553.3,735.6 L560,748.9 L566.7,760 L573.3,777.8 L552.5,775 L570,782.5 L577.5,790 L582.5,805 L575,817.5 L580,822.5 L587.5,815 L605,813.8 L617.5,818.8 L623.8,830 L625,845 L620,860 L610,867.5 L597.5,880 L565,880 L580,887.5 L600,895 L613.8,896.2 L615,905 L605,912.5 L592.5,915 L575,920 L565,923.8 L545,926.2 L535,928.8 L527.5,927.5 L507.5,933.8 L495,935 L482.5,930 L467.5,932.5 L460,940 L455,952.5 L445,950 L440,945 L425,950 L412.5,955 L405,962.5 L392.5,962.5 L392.5,956.2 L405,953.8 L412.5,942.5 L420,935 L427.5,927.5 L427.5,917.5 L437.5,906.2 L452.5,903.8 L475,905 L485,895 L493.8,878.8 L470,895 L457.5,895 L445,882.5 L435,885 L417.5,882.5 L407.5,875 L407.5,866.2 L420,863.8 L432.5,856.2 L440,845 L442.5,832.5 L440,820 L432.5,817.5 L422.5,822.5 L432.5,810 L440,806.2 L445,802.5 L457.5,797.5 L470,792.5 L482.5,795 L473.3,786.7 L477.8,775.6 L475.6,764.4 L482.2,760 L473.3,746.7 L464.4,737.8 L457.8,726.7 L464.4,713.3 L473.3,708.9 L457.8,706.7 L446.7,715.6 L437.8,713.3 L431.1,720 L422.2,713.3 L416.7,724.4 L414.4,715.6 L407.8,706.7 L413.3,695.6 L420,686.7 L424.4,675.6 L415.6,664.4 L416.7,651.1 L428.9,653.3 L417.8,644.4 L413.3,660 L406.7,664.4 L400,655.6 L404.4,644.4 L413.3,635.6 L397.8,640 L395.6,633.3 L397.8,624.4 L408.9,620 L402.2,613.3 L408.9,604.4 L393.3,611.1 L386.7,606.7 L391.1,600 L388.9,593.3 L395.6,584.4 L388.9,580 L393.3,573.3 L386.7,564.4 L395.6,560 L388.9,555.6 L387.8,544.4 L395.6,538.9 L406.7,538.9 L398.9,533.3 L403.3,528.9 L400,517.8 L407.8,524.4 L408.9,511.1Z"/>
<path d="M304.4,704.4 L313.3,697.8 L320,696.7 L326.7,691.1 L337.8,688.9 L338.9,684.4 L351.1,691.1 L344.4,697.8 L355.6,695.6 L363.3,693.3 L377.8,694.4 L385.6,713.3 L391.1,720 L395.6,724.4 L398.9,733.3 L395.6,742.2 L391.1,746.7 L384.4,753.3 L375.6,755.6 L368.9,760 L373.3,773.3 L377.8,782.2 L375.6,793.3 L377.5,795 L380,815 L375,830 L367.5,845 L370,852.5 L355,855 L351.2,851.2 L347.5,856.2 L332.5,858.8 L330,865 L320,870 L307.5,870 L305,877.5 L290,882.5 L277.5,890 L262.5,891.2 L272.5,880 L265,885 L257.5,880 L265,871.2 L252.5,875 L243.8,870 L252.5,862.5 L260,856.2 L247.5,860 L240,856.2 L247.5,850 L260,850 L265,837.5 L277.5,831.2 L291.2,827.5 L275,833.8 L260,835 L267.5,827.5 L275,820 L282.5,806.2 L290,805 L287.5,800 L270,800 L260,792.5 L250,790 L250,791.1 L255.6,787.8 L257.8,777.8 L267.8,775.6 L266.7,766.7 L257.8,764.4 L247.8,760 L252.2,755.6 L252.2,746.7 L260,742.2 L273.3,743.3 L280,748.9 L284.4,745.6 L300,740 L311.1,726.7 L297.8,725.6 L293.3,721.1 L306.7,713.3Z"/>
<path d="M817.5,195 L820,207.5 L805,207.5 L795,215 L782.5,230 L770,242.5 L757.5,255 L745,265 L732.5,267.5 L735,277.5 L725,287.5 L730,295 L727.5,307.5 L732.5,317.5 L727.5,330 L722.5,340 L732.5,345 L727.5,350 L730,360 L725,370 L732.5,380 L727.5,395 L737.5,400 L745,397.5 L735,412.5 L732.5,425 L740,435 L735,447.5 L732.5,462.5 L750,452.5 L760,450 L752.5,462.5 L757.5,475 L747.5,472.5 L743.8,487.5 L746.2,500 L752.5,507.5 L765,515 L777.5,527.5 L790,533.8 L810,532.5 L822.5,527.5 L832.5,522.5 L847.5,510 L860,497.5 L870,482.5 L875,467.5 L885,475 L892.5,470 L897.5,457.5 L902.5,447.5 L897.5,440 L900,430 L907.5,420 L905,432.5 L906.2,442.5 L910,455 L920,467.5 L922.5,475 L925,487.5 L923.8,500 L927.5,512.5 L935,522.5 L940,515 L943.8,525 L937.5,535 L940,540 L942.5,552.5 L950,562.5 L952.5,577.5 L960,590 L967.5,600 L975,612.5 L977.5,622.5 L970,625 L973.8,635 L965,635 L970,645 L977.5,660 L982.5,670 L980,680 L987.5,685 L1000,682.5 L1015,680 L1022.5,672.5 L1017.5,662.5 L1022.5,652.5 L1032.5,647.5 L1035,641.2 L1055,641.2 L1070,638.8 L1073.8,625 L1077.5,610 L1085,595 L1092.5,585 L1090,570 L1095,562.5 L1090,552.5 L1092.5,540 L1088.8,585 L1090,570 L1097.5,567.5 L1096.2,555 L1090,545 L1095,535 L1100,525 L1095,515 L1100,502.5 L1082.5,497.5 L1090,495 L1110,487.5 L1125,475 L1135,477.5 L1140,470 L1150,465 L1150,450 L1158,442 L1165,432 L1170,420 L1162,407 L1150,390 L1140,377.5 L1130,375 L1120,370 L1115,360 L1112.5,340 L1110,320 L1112.5,305 L1120,300 L1122.5,282.5 L1125,265 L1120,257.5 L1125,247.5 L1135,240 L1140,225 L1155,215 L1160,190Z"/>
<path d="M1250,190 L1252.5,210 L1245,212.5 L1242.5,222.5 L1236.2,232.5 L1236.2,250 L1242.5,260 L1241.2,280 L1246.2,295 L1250,310 L1248.8,330 L1246.2,345 L1243.8,360 L1247.5,372.5 L1255,377.5 L1257.5,372.5 L1262.5,380 L1260,387.5 L1270,390 L1277.5,395 L1287.5,397.5 L1280,407.5 L1290,410 L1295,417.5 L1310,415 L1325,410 L1345,405 L1362.5,400 L1370,395 L1385,392.5 L1400,385 L1407.5,382.5 L1405,375 L1412.5,372.5 L1410,380 L1420,380 L1430,375 L1450,376.2 L1465,372.5 L1475,365 L1475,380 L1472.5,385 L1485,397.5 L1500,400 L1510,400 L1520,410 L1522.5,415 L1517.5,418.8 L1505,417.5 L1495,413.8 L1485,417.5 L1477.5,423.8 L1467.5,422.5 L1460,430 L1456.2,425 L1456.2,447.5 L1445,448.8 L1430,445 L1412.5,442.5 L1397.5,435 L1380,432.5 L1377.5,447.5 L1337.5,448.8 L1335,445 L1325,455 L1315,460 L1312.5,475 L1313.8,487.5 L1312.5,500 L1320,512.5 L1330,517.5 L1340,512.5 L1345,522.5 L1340,537.5 L1337.5,550 L1340,567.5 L1338.8,580 L1330,590 L1315,593.8 L1305,585 L1300,570 L1285,557.5 L1280,550 L1267.5,555 L1255,560 L1246.2,575 L1246.2,587.5 L1235,602.5 L1233.8,625 L1232.5,650 L1232.5,690 L1220,702.5 L1210,712.5 L1212.5,723.8 L1202.5,726.2 L1192.5,735 L1180,742.5 L1170,741.2 L1157.5,737.5 L1155,725 L1162.5,726.2 L1157.5,718.8 L1150,713.8 L1130,715 L1110,720 L1092.5,730 L1085,740 L1065,747.5 L1045,755 L1030,760 L1015,757.5 L1001.2,740 L997.5,727.5 L990,725 L985,737.5 L972.5,735 L962.5,740 L955,747.5 L937.5,753.8 L930,762.5 L922.5,761.2 L910,760 L915,755 L920,752.5 L918.8,740 L910,742.5 L900,737.5 L887.5,732.5 L887.5,720 L880,715 L867.5,715 L872.5,715 L880,712.5 L870,700 L880,702.5 L886.2,695 L887.5,676.2 L880,675 L875,666.2 L885,667.5 L887.5,657.5 L897.5,642.5 L900,636.2 L910,637.5 L916.2,627.5 L915,621.2 L897.5,620 L890,610 L897.5,593.8 L902.5,577.5 L900,562.5 L905,550 L890,560 L877.5,575 L860,585 L842.5,586.2 L833.8,597.5 L827.5,615 L826.2,640 L828.8,657.5 L826.2,672.5 L840,680 L843.8,695 L837.5,702.5 L833.8,712.5 L842.5,712.5 L847.5,722.5 L852.5,732.5 L842.5,740 L845,745 L852.5,745 L850,755 L852.5,765 L842.5,766.2 L838.8,780 L832.5,787.5 L825,783.8 L827.5,777.5 L815,775 L797.5,777.5 L792.5,785 L795,792.5 L780,788.8 L765,792.5 L750,796.2 L742.5,802.5 L740,810 L732.5,815 L725,822.5 L717.5,827.5 L715,840 L707.5,852.5 L700,865 L697.5,872.5 L690,880 L682.5,887.5 L687.5,892.5 L675,897.5 L662.5,905 L650,910 L637.5,912.5 L625,917.5 L620,930 L618.8,950 L610,962.5 L600,967.5 L585,972.5 L575,980 L575,987.5 L585,990 L570,993.8 L562.5,997.5 L552.5,995 L537.5,993.8 L530,985 L530,980 L520,981.2 L510,978.8 L512.5,985 L517.5,992.5 L518.8,1002.5 L523.8,1012.5 L526.2,1030 L515,1031.2 L510,1027.5 L507.5,1035 L495,1031.2 L485,1035 L475,1020 L460,1021.2 L455,1027.5 L445,1026.2 L432.5,1028.8 L420,1036.2 L422.5,1045 L435,1047.5 L422.5,1056.2 L435,1057.5 L432.5,1067.5 L445,1070 L457.5,1072.5 L470,1080 L480,1083.8 L487.5,1082.5 L492.5,1095 L502.5,1092.5 L515,1096.2 L502.5,1102.5 L507.5,1110 L505,1115 L515,1125 L522.5,1140 L532.5,1150 L530,1160 L535,1170 L542.5,1172.5 L552.5,1195 L552.5,1201.2 L542.5,1185 L535,1175 L532.5,1192.5 L533.8,1210 L538.8,1222.5 L535,1230 L530,1231.2 L527.5,1247.5 L525,1260 L521.2,1267.5 L515,1271.2 L516.2,1270 L500,1272.5 L480,1266.2 L462.5,1265 L442.5,1267.5 L425,1266.2 L405,1262.5 L386.2,1258.8 L375,1261.2 L350,1262.5 L337.5,1260 L332.5,1253.8 L322.5,1252.5 L310,1260 L300,1271.2 L287.5,1272.5 L277.5,1280 L278.8,1290 L287.5,1295 L285,1305 L295,1310 L290,1325 L293.8,1345 L297.5,1365 L296.2,1385 L291.2,1405 L285,1425 L277.5,1440 L272.5,1465 L282.5,1465 L280,1475 L295,1477.5 L292.5,1495 L293.8,1515 L287.5,1531.2 L302.5,1527.5 L317.5,1532.5 L335,1526.2 L350,1523.8 L362.5,1532.5 L370,1540 L375,1555 L385,1565 L395,1571.2 L402.5,1565 L410,1555 L425,1550 L432.5,1543.8 L450,1542.5 L465,1543.8 L482.5,1545 L500,1540 L510,1535 L513.8,1523.8 L525,1515 L537.5,1510 L545,1507.5 L548.8,1492.5 L557.5,1475 L572.5,1468.8 L576.2,1462.5 L567.5,1455 L560,1440 L562.5,1430 L572.5,1412.5 L585,1395 L592.5,1385 L597.5,1377.5 L610,1365 L625,1360 L642.5,1355 L660,1342.5 L672.5,1330 L670,1317.5 L665,1310 L662.5,1295 L665,1280 L665,1282.5 L670,1277.5 L685,1267.5 L697.5,1260 L707.5,1265 L720,1266.2 L727.5,1263.8 L740,1273.8 L755,1282.5 L770,1277.5 L785,1267.5 L797.5,1257.5 L807.5,1250 L815,1242.5 L830,1235 L840,1228.8 L855,1226.2 L865,1230 L877.5,1237.5 L890,1247.5 L897.5,1265 L900,1270 L905,1285 L915,1300 L922.5,1310 L935,1315 L945,1327.5 L955,1337.5 L965,1347.5 L980,1357.5 L995,1360 L1005,1365 L1015,1375 L1025,1383.8 L1040,1392.5 L1045,1402.5 L1055,1410 L1065,1417.5 L1072.5,1432.5 L1080,1447.5 L1082.5,1460 L1072.5,1467.5 L1070,1477.5 L1065,1487.5 L1065,1493.8 L1075,1496.2 L1080,1487.5 L1090,1480 L1095,1470 L1093.8,1460 L1100,1452.5 L1110,1447.5 L1110,1437.5 L1100,1427.5 L1090,1421.2 L1092.5,1410 L1100,1400 L1110,1391.2 L1117.5,1397.5 L1135,1400 L1140,1412.5 L1150,1418.8 L1153.8,1407.5 L1147.5,1395 L1137.5,1385 L1120,1375 L1100,1365 L1085,1355 L1075,1350 L1072.5,1342.5 L1080,1335 L1075,1331.2 L1055,1330 L1035,1322.5 L1017.5,1310 L1007.5,1290 L1000,1267.5 L995,1257.5 L980,1250 L967.5,1235 L960,1220 L962.5,1200 L956.7,1216.7 L960,1205 L965,1198.3 L958.3,1191.7 L955,1183.3 L961.7,1175 L966.7,1173.3 L973.3,1168.3 L986.7,1164.2 L993.3,1166.7 L998.3,1164.2 L1005,1168.3 L1006.7,1170.8 L1000,1173.3 L998.3,1178.3 L1000,1188.3 L1005,1198.3 L1009.2,1206.7 L1013.3,1200 L1018.3,1194.2 L1020.8,1185 L1026.7,1185 L1033.3,1190 L1037.5,1198.3 L1040,1208.3 L1043.3,1215 L1048.3,1221.7 L1055,1229.2 L1068.3,1246.7 L1076.7,1261.7 L1097.5,1272.5 L1112.5,1280 L1130,1290 L1150,1302.5 L1160,1310 L1172.5,1322.5 L1182.5,1335 L1185,1350 L1180,1362.5 L1182.5,1375 L1180,1392.5 L1190,1405 L1200,1420 L1207.5,1427.5 L1217.5,1442.5 L1227.5,1452.5 L1230,1455 L1227.5,1465 L1237.5,1477.5 L1250,1482.5 L1265,1480 L1280,1482.5 L1290,1485 L1297.5,1492.5 L1310,1487.5 L1320,1497.5 L1327.5,1505 L1327.5,1495 L1330,1490 L1342.5,1493.8 L1340,1487.5 L1330,1477.5 L1320,1467.5 L1310,1460 L1297.5,1462.5 L1290,1460 L1297.5,1455 L1305,1450 L1302.5,1442.5 L1295,1432.5 L1287.5,1420 L1283.8,1407.5 L1285,1395 L1290,1387.5 L1296.8,1396.8 L1303.2,1405 L1310,1412.5 L1315,1405 L1320,1402.5 L1325,1410 L1330,1402.5 L1340,1407.5 L1335,1400 L1342.5,1390 L1355,1382.5 L1365,1375 L1380,1372.5 L1392.5,1385 L1400,1390 L1397.5,1410 L1405,1402.5 L1413.8,1393.8 L1420,1388.8 L1430,1372.5 L1435,1370 L1450,1366.2 L1470,1367.5 L1473.8,1362.5 L1462.5,1357.5 L1460,1350 L1455,1340 L1452.5,1330 L1447.5,1315 L1440,1305 L1450,1292.5 L1455,1280 L1462.5,1270 L1470,1262.5 L1472.5,1250 L1475,1235 L1480,1222.5 L1478,1219 L1479,1214 L1484,1210 L1481,1205 L1482,1200 L1486,1200 L1490,1206 L1495,1207 L1504.5,1204 L1505,1190 L1508,1186 L1508,1178 L1504,1170 L1505,1163 L1508,1168 L1511,1167 L1517,1161 L1524,1158 L1533,1148 L1540,1136 L1543,1129 L1553,1124.5 L1564,1125 L1570,1129 L1580,1131 L1590,1132 L1586,1128 L1578,1125 L1586,1124 L1592,1127 L1600,1124 L1605,1136 L1580,1134 L1573,1136 L1572,1140 L1582,1142 L1590,1148 L1605,1149 L1620,1150 L1620,180Z"/>
<path d="M1475,1370 L1487.5,1372.5 L1502.5,1380 L1515,1381.2 L1500,1385 L1485,1387.5 L1482.5,1395 L1467.5,1397.5 L1450,1396.2 L1440,1400 L1432.5,1393.8 L1422.5,1391.2 L1415,1397.5 L1407.5,1405 L1400,1412.5 L1395,1425 L1397.5,1432.5 L1415,1430 L1412.5,1440 L1420,1452.5 L1412.5,1462.5 L1417.5,1475 L1410,1485 L1420,1492.5 L1430,1500 L1427.5,1512.5 L1432.5,1525 L1440,1530 L1430,1537.5 L1445,1535 L1462.5,1532.5 L1460,1540 L1467.5,1545 L1480,1550 L1490,1560 L1502.5,1565 L1517.5,1568 L1530,1565.5 L1535,1556.2 L1541.2,1543.8 L1550,1542.5 L1562.5,1547.5 L1575,1560 L1587.5,1572.5 L1615,1577.5 L1615,1335 L1600,1335 L1585,1345 L1570,1352.5 L1560,1362.5 L1547.5,1366.2 L1530,1365 L1505,1363.8 L1485,1362.5 L1476.2,1361.2Z"/>
<path d="M1237.5,1495 L1250,1486.2 L1265,1483.8 L1280,1486.2 L1290,1491.2 L1297.5,1496.2 L1305,1510 L1310,1515 L1302.5,1517.5 L1292.5,1510 L1287.5,1520 L1295,1532.5 L1300,1552.5 L1295,1555 L1287.5,1540 L1280,1535 L1277.5,1550 L1275,1555 L1267.5,1540 L1262.5,1525 L1255,1517.5 L1245,1507.5Z"/>
<path d="M370,1620 L377.5,1601.2 L382.5,1581.2 L395,1578.8 L400,1575 L403.8,1590 L415,1601.2 L527.5,1601.2 L535,1587.5 L550,1582.5 L557.5,1577.5 L570,1580 L577.5,1570 L585,1562.5 L600,1555 L617.5,1550 L635,1547.5 L650,1545 L662.5,1542.5 L680,1538.8 L700,1536.2 L728.9,1538.9 L745.6,1544.4 L759.4,1536.1 L773.3,1529.2 L787.2,1533.3 L798.3,1530.6 L812.2,1533.3 L831.7,1536.1 L845.6,1533.3 L859.4,1525 L878.9,1519.4 L890,1525 L892.8,1536.1 L901.1,1544.4 L912.2,1536.1 L919.2,1530.6 L920.6,1538.9 L912.2,1550 L901.1,1558.3 L899.7,1569.4 L909.4,1583.3 L917.8,1588.9 L919.2,1602.8 L919,1620Z"/>
<path d="M963.8,1492.5 L972.5,1487.5 L985,1486.2 L1000,1492.5 L1017.5,1493.8 L1032.5,1492.5 L1047.5,1486.2 L1060,1482.5 L1062.5,1487.5 L1055,1502.5 L1050,1520 L1052.5,1532.5 L1046.2,1545 L1035,1542.5 L1027.5,1537.5 L1010,1525 L995,1515 L980,1510 L967.5,1507.5 L962.5,1500Z"/>
</g>
<path d="M373.3,503.3 L376.7,508.9 L373.3,520 L368.9,531.1 L362.2,537.8 L353.3,546.7 L347.8,544.4 L353.3,537.8 L346.7,533.3 L347.8,522.2 L355.6,520 L360,513.3 L368.9,506.7Z" fill="#ffd9d9" stroke="#000" stroke-width="1.1"/>
<path d="M334.4,555.6 L344.4,552.2 L346.7,560 L342.2,564.4 L338.9,562.2 L334.4,558.9Z" fill="#ffd9d9" stroke="#000" stroke-width="1.1"/>
<path d="M337.8,565.6 L342.2,566.7 L342.2,584.4 L337.8,585.6 L336.7,571.1Z" fill="#ffd9d9" stroke="#000" stroke-width="1.1"/>
<path d="M333.3,591.1 L336,588.9 L337.8,594.4 L333.3,595.6Z" fill="#ffffff" stroke="#000" stroke-width="1.1"/>
<path d="M358.9,565.6 L363.3,555.6 L371.1,552.2 L375.6,560 L377.8,568.9 L391.1,575.6 L387.8,588.9 L382.2,590 L375.6,582.2 L368.9,577.8 L364.4,571.1Z" fill="#ffd9d9" stroke="#000" stroke-width="1.1"/>
<path d="M375.6,607.8 L386.7,605.6 L391.1,613.3 L388.9,622.2 L391.1,628.9 L382.2,631.1 L371.1,633.3 L377.8,626.7 L373.3,620 L377.8,613.3Z" fill="#ffffff" stroke="#000" stroke-width="1.1"/>
<path d="M351.1,620 L355.6,617.8 L365.6,611.1 L366.7,613.3 L357.8,620 L353.3,623.3Z" fill="#ffffff" stroke="#000" stroke-width="1.1"/>
<path d="M368.9,657.8 L377.8,653.3 L388.9,642.2 L391.1,644.4 L382.2,662.2 L377.8,671.1 L372.2,672.2 L370,664.4 L366.7,666.7Z" fill="#ffd9d9" stroke="#000" stroke-width="1.1"/>
<path d="M391.1,646.7 L395.6,645.6 L396.7,686.7 L388.9,687.8 L391.1,666.7Z" fill="#ffd9d9" stroke="#000" stroke-width="1.1"/>
<path d="M401.1,673.3 L403.3,666.7 L406.7,665.6 L410,672.2 L408.9,680 L404.4,681.1Z" fill="#ffd9d9" stroke="#000" stroke-width="1.1"/>
<path d="M464.4,466.7 L471.1,464.4 L477.8,471.1 L483.3,477.8 L477.8,480 L471.1,475.6 L465.6,473.3Z" fill="#ffd9d9" stroke="#000" stroke-width="1.1"/>
<path d="M463.3,480 L468.9,481.1 L470,486.7 L465.6,485.6Z" fill="#ffd9d9" stroke="#000" stroke-width="1.1"/>
<path d="M475.6,483.3 L478.9,483.3 L478.9,488.9 L476.7,488.9Z" fill="#ffd9d9" stroke="#000" stroke-width="1.1"/>
<path d="M485.6,460 L491.1,454.4 L495.6,455.6 L488.9,459.6Z" fill="#ffffff" stroke="#000" stroke-width="1.1"/>
<path d="M422.2,755.6 L426.7,742.2 L433.3,737.8 L433.3,746.7 L426.7,755.6Z" fill="#ffd9d9" stroke="#000" stroke-width="1.1"/>
<path d="M427.5,792.5 L435,790 L442.5,797.5 L437.5,807.5 L430,802.5Z" fill="#ffffff" stroke="#000" stroke-width="1.1"/>
<path d="M437.5,800 L441.2,798.8 L443.8,803.8 L441.2,807.5 L437.5,806.2Z" fill="#ffd9d9" stroke="#000" stroke-width="1.1"/>
<path d="M520,385 L525,372 L533,370 L538,360 L545,357 L548,362 L543,378 L538,392 L533,403 L531,418 L527,420 L527,405 L520,398 L524,392Z" fill="#ffd9d9" stroke="#000" stroke-width="1.1"/>
<path d="M352,295 L358,303 L360,318 L355,321 L350,310Z" fill="#ffd9d9" stroke="#000" stroke-width="1.1"/>
<path d="M352,280 L358,285 L361,296 L355,297 L351,288Z" fill="#ffd9d9" stroke="#000" stroke-width="1.1"/>
<path d="M340,268 L347,260 L353,258 L360,268 L358,278 L350,274 L344,278Z" fill="#ffd9d9" stroke="#000" stroke-width="1.1"/>
<path d="M1145,595 L1140,565 L1150,545 L1165,537.5 L1177.5,536 L1170,550 L1160,565 L1155,580 L1147.5,597.5Z" fill="#ffd9d9" stroke="#000" stroke-width="1.1"/>
<path d="M1088.8,636.2 L1092.5,615 L1102.5,590 L1107.5,572.5 L1110,573.8 L1105,595 L1097.5,615 L1092.5,636.2Z" fill="#ffd9d9" stroke="#000" stroke-width="1.1"/>
<path d="M1187.5,397.5 L1197.5,386.2 L1208.8,393.8 L1206.2,400 L1208.8,410 L1200,407.5 L1193.8,403.8Z" fill="#ffd9d9" stroke="#000" stroke-width="1.1"/>
<path d="M1072.2,645.6 L1076.4,617.8 L1081.9,598.3 L1087.5,592.8 L1087.5,606.7 L1080.6,628.9 L1075,645.6Z" fill="#ffd9d9" stroke="#000" stroke-width="1.1"/>
<path d="M1267.5,477.5 L1280,471.2 L1290,472.5 L1295,482.5 L1286.2,486.2 L1285,491.2 L1280,491.2 L1277.5,480Z" fill="#ffaaaa" stroke="#000" stroke-width="1.1"/>
<path d="M1260,503.8 L1275,498.8 L1275,522.5 L1272.5,525 L1270,532.5 L1265,536.2 L1267.5,525 L1260,517.5 L1265,510Z" fill="#ffd9d9" stroke="#000" stroke-width="1.1"/>
<path d="M1275,498.8 L1290,496.2 L1302.5,495 L1306.2,502.5 L1300,510 L1292.5,517.5 L1280,521.2 L1275,522.5Z" fill="#ffaaaa" stroke="#000" stroke-width="1.1"/>
<path d="M828.9,1375 L840,1373.6 L853.9,1363.9 L862.2,1359.7 L871.9,1366.7 L876.1,1380.6 L880.3,1391.7 L876.1,1405.6 L874.7,1425 L871.9,1447.2 L862.2,1444.4 L856.7,1445.8 L852.5,1455.6 L842.8,1456.9 L834.4,1452.8 L835.8,1438.9 L838.6,1419.4 L835.8,1405.6 L834.4,1391.7 L827.5,1386.1Z" fill="#ccffff" stroke="#000" stroke-width="1.1"/>
<path d="M842.8,1311.1 L851.1,1304.2 L862.2,1300 L868.6,1291.7 L871.1,1300 L871.9,1313.9 L870.6,1330.6 L866.4,1344.4 L862.2,1354.2 L851.1,1348.6 L845.6,1341.7 L848.3,1333.3 L842.8,1325Z" fill="#ccffff" stroke="#000" stroke-width="1.1"/>
<path d="M645.6,1429.2 L656.7,1420.8 L666.4,1415.3 L670.6,1420.8 L678.9,1422.2 L680.3,1429.2 L673.3,1437.5 L667.8,1441.7 L659.4,1437.5 L651.1,1431.9Z" fill="#ccffff" stroke="#000" stroke-width="1.1"/>
<path d="M690,1411.1 L696.9,1409.2 L705.3,1412.5 L706.7,1419.4 L698.3,1416.7 L691.4,1415.3Z" fill="#ccffff" stroke="#000" stroke-width="1.1"/>
<path d="M608.9,1456.9 L613.6,1450 L620.6,1448.6 L620.6,1454.2 L615,1458.9Z" fill="#ccffff" stroke="#000" stroke-width="1.1"/>
<path d="M613.9,1464.4 L617.8,1463.9 L620,1466.7 L615.6,1467.2Z" fill="#ffffff" stroke="#000" stroke-width="1.1"/>
<path d="M1312.5,1602.8 L1315.3,1591.7 L1319.4,1584.7 L1322.2,1588.9 L1330.6,1590.3 L1344.4,1594.4 L1363.9,1598.6 L1380.6,1602.8Z" fill="#66ffff" stroke="#000" stroke-width="1.1"/>
<path d="M1387.5,1440 L1400,1437.5 L1407.5,1447.5 L1397.5,1452.5 L1390,1447.5Z" fill="#66ffff" stroke="#000" stroke-width="1.1"/>
<path d="M1387.5,1472.5 L1395,1470 L1393.8,1485 L1388.8,1482.5Z" fill="#66ffff" stroke="#000" stroke-width="1.1"/>
<path d="M1410,1503.8 L1422.5,1502.5 L1420,1507 L1412.5,1507Z" fill="#66ffff" stroke="#000" stroke-width="1.1"/>
<path d="M1445,1570 L1457.5,1555 L1460,1560 L1450,1575Z" fill="#66ffff" stroke="#000" stroke-width="1.1"/>
<path d="M1361.2,1413.8 L1372.5,1412.5 L1371.2,1420 L1363.8,1419.5Z" fill="#66ffff" stroke="#000" stroke-width="1.1"/>
<path d="M1340,1381.2 L1346.2,1378.8 L1348.8,1385 L1342.5,1387.5Z" fill="#66ffff" stroke="#000" stroke-width="1.1"/>
<path d="M1373.8,1391.2 L1380,1390.5 L1379.5,1395 L1374.5,1395Z" fill="#66ffff" stroke="#000" stroke-width="1.1"/>
<path d="M1350,1495 L1355,1496.2 L1358.8,1505 L1355,1506.2Z" fill="#66ffff" stroke="#000" stroke-width="1.1"/>
<path d="M1363.8,1525 L1368.8,1522.5 L1370,1532.5 L1365,1533.8Z" fill="#66ffff" stroke="#000" stroke-width="1.1"/>
<path d="M1372.5,1523.8 L1377.5,1522.5 L1378.8,1532.5 L1373.8,1533.8Z" fill="#66ffff" stroke="#000" stroke-width="1.1"/>
<path d="M1420,1540 L1432.5,1537 L1433.8,1539.5 L1422.5,1543Z" fill="#66ffff" stroke="#000" stroke-width="1.1"/>
<path d="M1390,1510 L1400,1506.2 L1401.2,1508.8 L1392.5,1513Z" fill="#66ffff" stroke="#000" stroke-width="1.1"/>
<path d="M1407.5,1500 L1420,1498.8 L1420,1501.2 L1408.8,1503Z" fill="#66ffff" stroke="#000" stroke-width="1.1"/>
<path d="M1397.5,1547.5 L1403.8,1546.2 L1402.5,1551.2 L1398,1551.2Z" fill="#66ffff" stroke="#000" stroke-width="1.1"/>
<path d="M1337.5,1545 L1345,1543.8 L1344.5,1547.5 L1338,1548Z" fill="#66ffff" stroke="#000" stroke-width="1.1"/>
<path d="M1366.2,1542.5 L1370,1541.2 L1372,1546.2 L1368,1547Z" fill="#66ffff" stroke="#000" stroke-width="1.1"/>
<path d="M1387.5,1450 L1392.5,1448.8 L1393,1453.8 L1388.8,1453.8Z" fill="#66ffff" stroke="#000" stroke-width="1.1"/>
<path d="M1385,1472.5 L1388.8,1471.2 L1390,1482.5 L1386.2,1483.8Z" fill="#66ffff" stroke="#000" stroke-width="1.1"/>
<path d="M1190,1422.5 L1197.5,1420 L1202.5,1432.5 L1207.5,1437.5 L1200,1435Z" fill="#ffffff" stroke="#000" stroke-width="1.1"/>
<path d="M1212.5,1477.5 L1220,1472.5 L1225,1485 L1217.5,1490Z" fill="#ccffff" stroke="#000" stroke-width="1.1"/>
<path d="M1222.5,1497.5 L1230,1500 L1227.5,1505 L1223.8,1503.8Z" fill="#66ffff" stroke="#000" stroke-width="1.1"/>
<path d="M1426.2,1580 L1428.8,1580.5 L1428,1595 L1425.8,1593.8Z" fill="#66ffff" stroke="#000" stroke-width="1.1"/>
<path d="M1337,1506.2 L1340,1505 L1339.5,1511.2 L1337.5,1511.2Z" fill="#000" stroke="#000" stroke-width="1.1"/>
<path d="M1340,1513.8 L1342.5,1513 L1342,1519.5 L1340,1518.8Z" fill="#000" stroke="#000" stroke-width="1.1"/>
<path d="M887.5,676.2 L897.5,672.5 L907.5,676.2 L911.2,690 L907.5,700 L897.5,702.5 L890,697.5 L887.5,687.5Z" fill="#ffffff" stroke="#000" stroke-width="1.1"/>
<path d="M908.8,712.5 L915,697.5 L916.2,702.5 L911.2,715Z" fill="#ffffff" stroke="#000" stroke-width="1.1"/>
<path d="M916.2,665 L925,662.5 L930,652.5 L940,651.2 L945,665 L952.5,665 L950,652.5 L957.5,645 L966.2,643.8 L967.5,657.5 L960,670 L957.5,680 L965,687.5 L955,695 L952.5,702.5 L965,705 L965,708.8 L952.5,710 L942.5,710 L930,700 L925,690 L922.5,675Z" fill="#ffffff" stroke="#000" stroke-width="1.1"/>
<path d="M918.8,712.5 L927.5,707.5 L940,712.5 L950,715 L955,710 L950,722.5 L946.2,728.8 L940,720 L927.5,722.5 L918.8,717.5Z" fill="#ffffff" stroke="#000" stroke-width="1.1"/>
<path d="M913.8,576.2 L922.5,573.8 L923.8,577.5 L916.2,580Z" fill="#ffffff" stroke="#000" stroke-width="1.1"/>
<path d="M1035,690 L1048.8,697.5 L1045,705 L1033.8,700Z" fill="#ffffff" stroke="#000" stroke-width="1.1"/>
<path d="M918.8,732.5 L925,731.2 L926.2,736.2 L920,737.5Z" fill="#ffffff" stroke="#000" stroke-width="1.1"/>
<path d="M985,737.5 L988.8,726.2 L997.5,727.5 L1001.2,740 L995,747.5 L988.8,742.5Z" fill="#ffffff" stroke="#000" stroke-width="1.1"/>
<path d="M902.5,651.2 L905,651.2 L906.2,662.5 L903,661.2Z" fill="#ffd9d9" stroke="#000" stroke-width="1.1"/>
<path d="M1020.8,1191.7 L1024.2,1190 L1025.8,1196.7 L1027.5,1206.7 L1025,1205 L1022.5,1198.3Z" fill="#66ffff" stroke="#000" stroke-width="1.1"/>
<path d="M1027.5,1188.3 L1031.7,1187.5 L1036.7,1198.3 L1034.2,1199.2 L1030,1193.3Z" fill="#66ffff" stroke="#000" stroke-width="1.1"/>
<path d="M1040,1211.7 L1042.5,1210.8 L1050,1223.3 L1047.5,1224.2Z" fill="#66ffff" stroke="#000" stroke-width="1.1"/>
<path d="M1088.3,1273.3 L1100,1270.8 L1101.7,1273.3 L1090.8,1275.8Z" fill="#66ffff" stroke="#000" stroke-width="1.1"/>
<path d="M1092.5,1281.7 L1105,1283.3 L1105.8,1285.3 L1093.3,1284.2Z" fill="#66ffff" stroke="#000" stroke-width="1.1"/>
<path d="M1025,1578 L1029,1576 L1031,1580 L1027,1582Z" fill="#ffffff" stroke="#000" stroke-width="1.1"/>
<path d="M721.2,805 L723.8,803.8 L725,811.2 L722,812.5Z" fill="#ffd9d9" stroke="#000" stroke-width="1.1"/>
<path d="M720,817.5 L726.2,815 L728.8,822.5 L722.5,826.2 L718.8,823.8Z" fill="#ffd9d9" stroke="#000" stroke-width="1.1"/>
<path d="M1459.5,1349 L1466.7,1355 L1485.8,1361.6 L1490.6,1362.6 L1487,1369.3 L1473.8,1369.3 L1458.3,1364.5Z" fill="#ccffff" stroke="#000" stroke-width="1.1"/>
<g fill="none" stroke="#000" stroke-width="0.9" stroke-linejoin="round">
<path d="M326.2,747.5 L335,752.5 L342.5,750 L347.5,738.8 L355,738.8 L360,747.5 L367.5,755 L375,752.5 L377.5,758.8"/>
<path d="M950,200 L952.5,212.5 L950,227.5 L952.5,245 L957.5,260 L955,282.5 L952.5,300 L960,310 L968.8,315 L973.8,330 L968.8,345 L957.5,346.2 L960,360 L967.5,375 L965,395 L962.5,410 L947.5,420 L946.2,430 L940,437.5 L941.2,462.5 L938.8,476.2 L923.8,487.5"/>
<path d="M1235,645 L1245,632.5 L1265,625 L1290,628.8 L1310,627.5 L1330,633.8 L1355,625 L1362.5,638.8 L1380,642.5 L1392.5,652.5 L1400,662.5 L1410,667.5"/>
<path d="M1410,667.5 L1405,685 L1415,688.8 L1400,696.2 L1387.5,707.5 L1382.5,722.5 L1377.5,740 L1380,750 L1370,745 L1355,755 L1340,765 L1330,760 L1312.5,762.5 L1307.5,747.5 L1290,738.8"/>
<path d="M1240,691.2 L1255,700 L1275,701.2 L1290,712.5 L1287.5,730 L1290,738.8 L1255,742.5 L1212.5,737.5"/>
<path d="M1312.5,762.5 L1320,787.5 L1325,812.5 L1325,825 L1310,835 L1302.5,850 L1315,860 L1315,882.5 L1320,900 L1330,922.5 L1330,937.5 L1315,950 L1300,965 L1285,985 L1287.5,1005"/>
<path d="M1330,882.5 L1340,870 L1367.5,867.5 L1405,872.5 L1430,880 L1445,890 L1460,882.5 L1475,887.5 L1490,882.5 L1495,895 L1507.5,890 L1527.5,892.5 L1535,900 L1537.5,875 L1547.5,860 L1570,858.8"/>
<path d="M1410,667.5 L1425,660 L1440,660 L1455,641.2 L1460,625 L1450,600"/>
<path d="M1455,641.2 L1465,646.2 L1475,643.8 L1487.5,648.8 L1497.5,657.5 L1502.5,666.2 L1510,660 L1530,658.8 L1540,672.5 L1547.5,667.5 L1545,685 L1547.5,700 L1542.5,717.5 L1552.5,735 L1562.5,750 L1575,762.5 L1572.5,770 L1590,772.5 L1605,785"/>
<path d="M1605,797.5 L1590,807.5 L1572.5,805 L1560,802.5 L1557.5,812.5 L1565,825 L1567.5,847.5 L1575,860 L1590,860 L1592.5,850 L1605,847.5"/>
<path d="M1347.5,542.5 L1357.5,530 L1367.5,532.5 L1375,530 L1387.5,542.5 L1397.5,552.5 L1407.5,561.2 L1415,557.5 L1432.5,560 L1440,567.5 L1448.8,577.5 L1445,595 L1452.5,610 L1457.5,625 L1461.2,642.5 L1467.5,650"/>
<path d="M1432.5,560 L1437.5,547.5 L1446.2,540 L1442.5,532.5 L1437.5,512.5"/>
<path d="M1440,492.5 L1437.5,475 L1447.5,460 L1456.2,448.8"/>
<path d="M1557.5,200 L1566.2,218.8 L1560,237.5 L1550,262.5 L1525,287.5 L1510,307.5 L1492.5,327.5 L1482.5,336.2 L1467.5,352.5 L1448.8,375"/>
<path d="M1600,575 L1585,582.5 L1570,592.5 L1547.5,595 L1542.5,605 L1550,615 L1547.5,625 L1557.5,630 L1562.5,647.5"/>
<path d="M1486,1180 L1490,1178.5 L1494,1178 L1499,1178.8 L1502,1180 L1504,1183 L1504.5,1186 L1505,1195"/>
<path d="M1021.2,776.2 L1023.8,792.5 L1017.5,812.5 L1030,830 L1035,855 L1032.5,875 L1042.5,895 L1043.8,910 L1040,922.5"/>
<path d="M952.5,950 L965,945 L980,942.5 L995,932.5 L1012.5,925 L1022.5,915 L1040,922.5"/>
<path d="M1040,922.5 L1050,915 L1055,925 L1070,930 L1085,935 L1092.5,950 L1102.5,945 L1117.5,950 L1130,950 L1127.5,962.5 L1140,970 L1155,970 L1165,985"/>
<path d="M846.2,726.2 L855,726.2"/>
<path d="M790,790 L798.8,800 L795,820 L802.5,830 L797.5,847.5 L790,862.5"/>
<path d="M952.5,948.8 L957.5,957.5 L965,945 L967.5,982.5 L975,997.5 L995,1007.5 L1005,1020 L1012.5,1032.5 L1030,1030 L1042.5,1017.5 L1060,1017.5 L1072.5,1022.5 L1090,1025 L1105,1027.5 L1112.5,1020 L1125,1015 L1142.5,1005 L1150,995 L1155,982.5 L1155,967.5"/>
<path d="M1105,1027.5 L1095,1042.5 L1102.5,1055 L1092.5,1070 L1090,1085 L1087.5,1100 L1080,1115"/>
<path d="M930,1085 L955,1075 L972.5,1055 L992.5,1045 L995,1035 L1012.5,1032.5"/>
<path d="M975,1125 L995,1128.8 L1012.5,1130 L1035,1127.5 L1060,1120 L1080,1115"/>
<path d="M995,1128.8 L992.5,1140 L1002.5,1150 L997.5,1172.5 L1017.5,1170 L1037.5,1167.5 L1047.5,1175 L1055,1162.5 L1065,1155 L1062.5,1145 L1075,1137.5 L1082.5,1130 L1080,1115"/>
<path d="M1082.5,1130 L1100,1145 L1120,1157.5 L1142.5,1162.5 L1165,1155 L1180,1150 L1205,1146.2"/>
<path d="M1105,1027.5 L1125,1040 L1142.5,1045 L1162.5,1060 L1187.5,1050 L1205,1047.5 L1222.5,1032.5 L1245,1037.5 L1257.5,1045 L1277.5,1050"/>
<path d="M1155,967.5 L1165,982.5 L1180,985 L1195,1000 L1212.5,995 L1235,992.5 L1255,997.5 L1275,1010 L1285,1000 L1292.5,975 L1320,945 L1330,925 L1320,900"/>
<path d="M1275,1010 L1280,1030 L1277.5,1050 L1300,1057.5 L1320,1060 L1345,1062.5 L1360,1072.5 L1370,1062.5 L1380,1063.8"/>
<path d="M1277.5,1050 L1290,1060 L1267.5,1075 L1262.5,1092.5 L1252.5,1112.5 L1242.5,1130 L1225,1142.5 L1205,1146.2"/>
<path d="M1205,1146.2 L1222.5,1165 L1242.5,1190 L1247.5,1207.5 L1262.5,1215 L1285,1220 L1280,1235 L1295,1242.5 L1290,1260 L1277.5,1275 L1280,1290"/>
<path d="M1067.5,1192.5 L1080,1197.5 L1090,1187.5 L1110,1192.5 L1130,1195 L1150,1196.2 L1162.5,1200 L1180,1205 L1175,1217.5"/>
<path d="M1067.5,1192.5 L1070,1207.5 L1080,1220 L1082.5,1235 L1095,1247.5 L1105,1260 L1120,1275 L1137.5,1290 L1152.5,1300"/>
<path d="M1180,1205 L1170,1220 L1180,1230 L1187.5,1237.5 L1177.5,1245 L1185,1255 L1177.5,1267.5 L1165,1280 L1157.5,1295 L1152.5,1300"/>
<path d="M1165,1155 L1170,1172.5 L1180,1187.5 L1172.5,1200 L1180,1205"/>
<path d="M1287.5,1217.5 L1297.5,1232.5 L1320,1250 L1335,1255 L1355,1252.5 L1380,1247.5 L1405,1237.5 L1425,1235 L1445,1245 L1460,1252.5 L1470,1252.5"/>
<path d="M1287.5,1217.5 L1277.5,1232.5 L1280,1250 L1290,1267.5 L1290,1285 L1280,1292.5 L1280,1305 L1290,1325 L1295,1342.5 L1290,1357.5"/>
<path d="M1290,1357.5 L1305,1355 L1322.5,1350 L1345,1350 L1362.5,1357.5 L1380,1360 L1395,1355 L1392.5,1342.5 L1405,1335 L1425,1325 L1440,1330 L1452.5,1330"/>
<path d="M1440,1330 L1455,1340"/>
<path d="M1395,1355 L1400,1367.5 L1397.5,1380 L1405,1387.5"/>
<path d="M1227.5,1332.5 L1242.5,1320 L1255,1317.5 L1275,1315 L1290,1325"/>
<path d="M1290,1357.5 L1275,1365 L1260,1367.5 L1240,1375 L1225,1372.5 L1217.5,1362.5 L1220,1345 L1227.5,1332.5"/>
<path d="M1180,1310 L1195,1305 L1210,1315 L1220,1325 L1217.5,1362.5 L1225,1372.5 L1222.5,1390 L1222.5,1407.5 L1212.5,1412.5 L1207.5,1422.5"/>
<path d="M1210,1315 L1220,1305 L1235,1310 L1250,1322.5 L1242.5,1320"/>
<path d="M1180,1310 L1185,1290 L1197.5,1280 L1210,1290 L1220,1305"/>
<path d="M1409.4,1046.4 L1425,1043.5 L1440.6,1038.6 L1452.2,1044.4 L1463.9,1052.2 L1477.5,1054.2 L1489.2,1063.9 L1491.1,1079.4 L1500.8,1093 L1502.8,1112.5"/>
<path d="M1409.4,1046.4 L1425,1056.1 L1434.7,1079.4 L1444.4,1098.9 L1456.1,1108.6 L1461.9,1131.9 L1458,1153.3 L1460,1168.9 L1471.7,1178.6 L1485.3,1180.5"/>
<path d="M1461.9,1131.9 L1479.4,1153.3 L1483.3,1135.8 L1493,1130 L1500.8,1133.9"/>
<path d="M1250,1036.7 L1257.8,1042.5 L1269.4,1041.5 L1279.2,1050.3 L1290.8,1056.1 L1300.6,1056.1 L1314.2,1061 L1335.6,1064.9 L1347.2,1061.9 L1356.9,1073.6 L1368.6,1063.9 L1397.8,1059 L1409.4,1046.4"/>
<path d="M798.8,795 L792.5,805 L797.5,820 L790,832.5 L785,840 L792.5,842.5 L790,855 L782.5,865 L762.5,875 L765,890 L760,905 L755,915 L762.5,925 L770,940 L772.5,950"/>
<path d="M675,897.5 L695,895 L710,897.5 L730,897.5 L750,905 L755,915"/>
<path d="M640,915 L652.5,912.5 L657.5,925 L672.5,927.5 L675,940 L690,945 L700,950 L702.5,965 L720,965 L722.5,957.5 L725,975 L740,985 L750,987.5 L760,987.5"/>
<path d="M760,987.5 L752.5,977.5 L755,965 L765,955 L772.5,950 L772.5,970 L775,985 L770,990 L760,987.5"/>
<path d="M775,987.5 L790,1002.5 L807.5,1007.5 L825,1012.5 L820,1030 L815,1045 L810,1060 L807.5,1080"/>
<path d="M807.5,1080 L825,1077.5 L840,1070 L850,1072.5 L862.5,1077.5 L875,1085 L877.5,1095 L890,1090 L900,1092.5 L902.5,1082.5 L915,1080 L932.5,1082.5 L940,1077.5"/>
<path d="M807.5,1080 L790,1087.5 L785,1112.5 L775,1130 L762.5,1140 L765,1125"/>
<path d="M762.5,1140 L775,1150 L795,1157.5 L812.5,1155 L825,1145 L837.5,1147.5 L850,1155 L855,1160 L860,1155 L865,1145 L877.5,1140 L890,1130 L900,1125 L902.5,1112.5 L912.5,1110"/>
<path d="M877.5,1095 L875,1105 L882.5,1112.5 L895,1115 L902.5,1112.5"/>
<path d="M912.5,1110 L927.5,1110 L945,1102.5 L955,1105 L970,1102.5 L985,1107.5 L1000,1112.5 L1015,1117.5 L1030,1120"/>
<path d="M940,1077.5 L950,1087.5 L967.5,1082.5 L980,1085 L982.5,1072.5 L975,1055 L985,1042.5 L1000,1035 L1012.5,1027.5"/>
<path d="M795,1157.5 L792.5,1175 L785,1190 L790,1205 L785,1220 L792.5,1232.5"/>
<path d="M516.2,1270 L525,1275 L527.5,1282.5 L540,1286.2 L555,1295 L570,1297.5 L582.5,1300 L595,1293.8 L607.5,1296.2 L620,1302.5 L632.5,1310 L645,1310 L652.5,1313.8 L662.5,1310 L672.5,1315"/>
<path d="M317.5,1332.5 L337.5,1336.2 L345,1330 L362.5,1331.2 L365,1341.2 L373.8,1345 L367.5,1355 L357.5,1365 L352.5,1370 L356.2,1385 L353.8,1400 L348.8,1405 L352.5,1415 L345,1426.2 L335,1427.5 L342.5,1437.5 L350,1450 L342.5,1462.5 L340,1475 L350,1485 L348.8,1492.5 L340,1495 L336.2,1507.5 L335,1526.2"/>
<path d="M815,1242.5 L805,1237.5 L790,1225 L787.5,1210 L795,1200 L790,1185 L797.5,1170 L795,1160 L787.5,1150"/>
<path d="M834.4,1544.4 L830.3,1563.9 L833.1,1602.8"/>
<path d="M740,810 L745,817.5 L740,830 L750,837.5 L755,827.5 L750,820"/>
<path d="M730,837.5 L740,842.5 L750,837.5"/>
<path d="M717.5,842.5 L730,845 L740,842.5"/>
<path d="M750,837.5 L745,847.5 L735,850"/>
</g>
<circle cx="723.8" cy="1135.8" r="4.2" fill="#000"/>
<circle cx="448.8" cy="1383.8" r="3" fill="#000"/>
<circle cx="393.2" cy="1528.2" r="2" fill="#000"/>
<circle cx="685" cy="1566.2" r="3.5" fill="#000"/>
<circle cx="662.5" cy="1543.8" r="3" fill="#000"/>
<circle cx="472" cy="1302" r="2.5" fill="#000"/>
<circle cx="1126.2" cy="1045" r="2.5" fill="#000"/>
<circle cx="1038.8" cy="1170" r="2.5" fill="#000"/>
<circle cx="1048.8" cy="1203.8" r="2.5" fill="#000"/>
<circle cx="1377.5" cy="1213.8" r="3" fill="#000"/>
<path d="M775,405 L780,385 L792.5,375" fill="none" stroke="#000" stroke-width="3.4" stroke-linecap="round"/><path d="M775,405 L780,385 L792.5,375" fill="none" stroke="#fff" stroke-width="1.6" stroke-linecap="round"/>
<path d="M745,425 L757.5,417.5 L767.5,397.5 L775,390" fill="none" stroke="#000" stroke-width="3.4" stroke-linecap="round"/><path d="M745,425 L757.5,417.5 L767.5,397.5 L775,390" fill="none" stroke="#fff" stroke-width="1.6" stroke-linecap="round"/>
<path d="M762.5,477.5 L775,472.5" fill="none" stroke="#000" stroke-width="3.4" stroke-linecap="round"/><path d="M762.5,477.5 L775,472.5" fill="none" stroke="#fff" stroke-width="1.6" stroke-linecap="round"/>
<path d="M760,425 L767.5,420" fill="none" stroke="#000" stroke-width="3.4" stroke-linecap="round"/><path d="M760,425 L767.5,420" fill="none" stroke="#fff" stroke-width="1.6" stroke-linecap="round"/>
<path d="M735,311.2 L750,317.5 L765,312.5" fill="none" stroke="#000" stroke-width="3.4" stroke-linecap="round"/><path d="M735,311.2 L750,317.5 L765,312.5" fill="none" stroke="#fff" stroke-width="1.6" stroke-linecap="round"/>
<text x="351.5" y="277" class="lb" >FAROE IS.</text>
<text x="866" y="402" class="lb" >NORWAY</text>
<text x="1025" y="428" class="lb" >SWEDEN</text>
<text x="1343" y="354" class="lb" >FINLAND</text>
<text x="1385" y="499" class="lb" >ESTONIA</text>
<text x="1380" y="604" class="lb" >LATVIA</text>
<text x="1334" y="688" class="lb" >LITHUANIA</text>
<text x="1479" y="785" class="lb" >BELARUS</text>
<text x="1190" y="865" class="lb" >POLAND</text>
<text x="909" y="893" class="lb" >GERMANY</text>
<text x="765" y="866" class="lb" >NETH.</text>
<text x="711" y="931" class="lb" >BEL.</text>
<text x="866" y="647" class="lb" >DEN.</text>
<text x="326" y="822" class="lb" >IRELAND</text>
<text x="638" y="1095" class="lb" >FRANCE</text>
<text x="827" y="1124" class="lb" >SWITZ.</text>
<text x="1034" y="1090" class="lb" >AUS.</text>
<text x="1036" y="975" class="lb" >CZECHIA</text>
<text x="1206" y="1025" class="lb" >SLOVAK.</text>
<text x="1183" y="1110" class="lb" >HUNG.</text>
<text x="1032" y="1157" class="lb" >SLOV.</text>
<text x="1102" y="1182" class="lb" >CRO.</text>
<text x="1129" y="1222" class="lb" >BOSNIA</text>
<text x="1229" y="1275" class="lb" >SERBIA</text>
<text x="1357" y="1172" class="lb" >ROMANIA</text>
<text x="1462" y="1081" class="lb" >MOL.</text>
<text x="1367" y="1301" class="lb" >BULG.</text>
<text x="1256" y="1352" class="lb" >MACE.</text>
<text x="1201" y="1387" class="lb" >ALB.</text>
<text x="1265" y="1449" class="lb" >GREECE</text>
<text x="968" y="1301" class="lb" >ITALY</text>
<text x="464" y="1399" class="lb" >SPAIN</text>
<text x="315" y="1447" class="lb" >PORT.</text>
<text x="1026" y="1583" class="lb" >MALTA</text>
<text x="1513" y="1015" class="lb" style="text-anchor:start">UKRAINE</text>
<text x="1251" y="728" class="lb" style="font-size:25px;letter-spacing:0.3px;stroke-width:1.2px">Kal.</text>
<text x="546" y="855" class="lb" style="font-size:25px;letter-spacing:0.3px;stroke-width:1.2px">England</text>
<text x="1534" y="462" class="lb" style="text-anchor:start;font-size:17px">Northwestern</text>
<text x="1550" y="492" class="lb" style="text-anchor:start;font-size:17px">District</text>
<text x="736" y="1497" class="sea" textLength="190" lengthAdjust="spacingAndGlyphs">Mediterranean Sea</text>
<text x="691" y="662" class="sea" >North</text>
<text x="691" y="691" class="sea" >Sea</text>
<text x="1163" y="637" class="sea" >Baltic</text>
<text x="1163" y="666" class="sea" >Sea</text>
<text x="324" y="1084" class="sea" >ATLANTIC</text>
<text x="324" y="1113" class="sea" >OCEAN</text>
<text x="1585" y="1246" class="sea" style="text-anchor:start">Black</text>
</g>
<!-- MAP-END -->
<rect x="200" y="200" width="1400" height="1400" fill="none" stroke="#000" stroke-width="2.5" stroke-linejoin="round"/>
<!-- COLORBAR -->
<g stroke="#777" stroke-width="1">
<rect x="1618.5" y="253.5" width="38" height="143" fill="#ff0000"/>
<rect x="1618.5" y="403.5" width="38" height="143" fill="#ff5555"/>
<rect x="1618.5" y="553.5" width="38" height="143" fill="#ffaaaa"/>
<rect x="1618.5" y="703.5" width="38" height="143" fill="#ffd9d9"/>
<rect x="1618.5" y="853.5" width="38" height="143" fill="#ffffff"/>
<rect x="1618.5" y="1003.5" width="38" height="143" fill="#ccffff"/>
<rect x="1618.5" y="1153.5" width="38" height="143" fill="#66ffff"/>
<rect x="1618.5" y="1303.5" width="38" height="143" fill="#55aaff"/>
<rect x="1618.5" y="1453.5" width="38" height="143" fill="#0080ff"/>
</g>
<g class="t" font-size="40">
<text x="1677" y="416" textLength="53" lengthAdjust="spacingAndGlyphs">+7</text>
<text x="1677" y="566" textLength="53" lengthAdjust="spacingAndGlyphs">+5</text>
<text x="1677" y="716" textLength="53" lengthAdjust="spacingAndGlyphs">+3</text>
<text x="1677" y="866" textLength="53" lengthAdjust="spacingAndGlyphs">+1</text>
<text x="1683" y="1016" textLength="38" lengthAdjust="spacingAndGlyphs">-1</text>
<text x="1683" y="1166" textLength="38" lengthAdjust="spacingAndGlyphs">-3</text>
<text x="1683" y="1316" textLength="38" lengthAdjust="spacingAndGlyphs">-5</text>
<text x="1683" y="1466" textLength="38" lengthAdjust="spacingAndGlyphs">-7</text>
</g>
<!-- FOOTER -->
<g class="t" font-size="21.5">
<text x="1180" y="1660" textLength="410" lengthAdjust="spacingAndGlyphs">CLIMATE PREDICTION CENTER, NOAA</text>
<text x="1180" y="1686" textLength="294" lengthAdjust="spacingAndGlyphs">Computer generated contours</text>
<text x="1180" y="1712" textLength="257" lengthAdjust="spacingAndGlyphs">Based on preliminary data</text>
</g>
<!-- LOGO -->
<g id="logo">
<defs><clipPath id="lc"><circle cx="1699.8" cy="1699.9" r="80"/></clipPath></defs>
<g clip-path="url(#lc)"><g transform="translate(1610,1610) scale(0.1)">
<rect x="0" y="0" width="1800" height="1800" fill="#003087"/>
<path d="M50,432 L248,432 C350,470 450,560 560,700 C660,840 760,950 850,1020 C900,1050 980,1050 1040,1010 C1130,930 1220,800 1300,660 C1380,530 1450,440 1530,410 L1750,410 L1750,1300 L50,1300Z" fill="#fff"/>
<path d="M0,660 L130,680 C200,690 300,790 400,890 C500,970 620,1040 740,1085 L860,1105 C800,1140 720,1170 640,1192 C670,1225 730,1240 820,1220 C900,1190 980,1140 1060,1110 C1130,1090 1200,1082 1260,1082 C1250,1050 1200,1042 1080,1050 C1160,1020 1240,970 1330,890 C1420,790 1510,680 1615,545 L1800,500 L1800,1800 L0,1800Z" fill="#0085ca"/>
<g fill="none" stroke="#fff" stroke-width="47" stroke-linejoin="miter">
<path d="M601,620 L601,432 L665,432 Q689,432 689,458 L689,620"/>
<rect x="760" y="432" width="94" height="164" rx="14"/>
<path d="M928,620 L928,452 Q928,432 948,432 L997,432 Q1017,432 1017,452 L1017,620 M928,545 L1017,545"/>
<path d="M1097,620 L1097,452 Q1097,432 1117,432 L1176,432 Q1196,432 1196,452 L1196,620 M1097,545 L1196,545"/>
</g>
</g>
</g>
</g>
</svg>
</body></html>
